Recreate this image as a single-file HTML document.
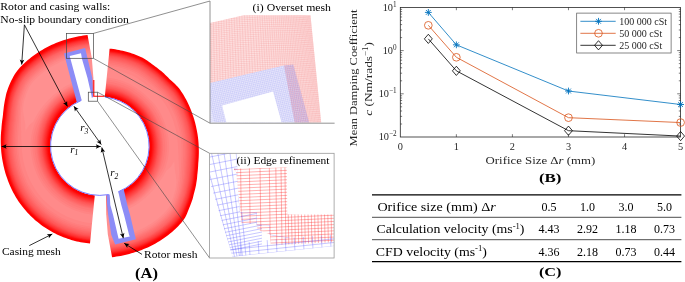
<!DOCTYPE html>
<html><head><meta charset="utf-8"><style>
html,body{margin:0;padding:0;background:#fff;}
svg{display:block;font-family:"Liberation Serif",serif;will-change:transform;}
</style></head><body>
<svg width="685" height="282" viewBox="0 0 685 282">
<rect width="685" height="282" fill="#fff"/>
<defs><mask id="cl" maskUnits="userSpaceOnUse" x="0" y="0" width="685" height="282"><polygon points="87.54,35.06 85.37,35.31 83.21,35.6 81.05,35.94 78.9,36.32 76.75,36.74 74.62,37.2 72.49,37.71 70.38,38.25 68.27,38.84 66.18,39.46 64.09,40.1 62.01,40.78 59.94,41.51 57.89,42.27 55.86,43.08 53.84,43.92 51.83,44.81 49.85,45.74 47.89,46.72 45.95,47.75 44.04,48.81 42.14,49.91 40.26,51.04 38.41,52.22 36.58,53.43 34.78,54.67 33,55.96 31.26,57.29 29.55,58.66 27.86,60.06 26.2,61.49 24.57,62.96 22.97,64.46 21.42,66 19.92,67.61 18.47,69.24 17.04,70.9 15.78,72.7 14.59,74.55 13.44,76.42 12.43,78.38 11.46,80.35 10.53,82.33 9.65,84.33 8.82,86.34 8.03,88.35 7.28,90.38 6.59,92.41 6.07,94.53 5.6,96.64 5.18,98.76 4.78,100.86 4.4,102.95 4.07,105.03 3.79,107.11 3.54,109.19 3.29,111.24 3.08,113.29 2.91,115.33 2.68,117.33 2.37,119.3 2.09,121.27 1.86,123.24 1.67,125.21 1.51,127.17 1.37,129.13 1.17,131.08 1.01,133.02 0.88,134.97 0.8,136.92 0.75,138.86 0.74,140.8 0.76,142.75 0.83,144.68 0.92,146.62 1.02,148.55 1.15,150.48 1.32,152.4 1.53,154.32 1.78,156.23 2.06,158.14 2.38,160.03 2.74,161.93 3.12,163.81 3.5,165.69 3.93,167.57 4.39,169.43 4.88,171.28 5.41,173.13 5.98,174.96 6.58,176.78 7.22,178.59 7.88,180.39 8.56,182.19 9.27,183.97 10.01,185.74 10.79,187.49 11.6,189.23 12.45,190.95 13.33,192.66 14.24,194.35 15.19,196.02 16.17,197.67 17.18,199.31 18.22,200.92 19.3,202.51 20.42,204.07 21.57,205.61 22.75,207.12 23.96,208.62 25.2,210.08 26.47,211.53 27.77,212.94 29.09,214.34 30.44,215.7 31.82,217.04 33.22,218.35 34.65,219.64 36.1,220.89 37.58,222.12 39.08,223.32 40.6,224.49 42.15,225.63 43.72,226.73 45.31,227.81 46.92,228.86 48.55,229.87 50.2,230.85 51.87,231.8 53.56,232.71 55.26,233.58 56.99,234.42 58.73,235.23 60.48,236.01 62.25,236.75 64.04,237.45 65.83,238.12 67.64,238.75 69.46,239.35 71.3,239.91 73.14,240.44 74.99,240.93 76.85,241.39 78.72,241.8 80.6,242.18 82.48,242.53 84.37,242.84 86.27,243.11 88.17,243.34 90.07,243.54 90,243.5 94.8,195.35 93.84,195.24 92.89,195.12 91.95,194.97 91,194.81 90.06,194.63 89.12,194.43 88.19,194.22 87.26,193.98 86.33,193.73 85.41,193.46 84.5,193.17 83.59,192.87 82.68,192.55 81.79,192.21 80.9,191.85 80.01,191.47 79.14,191.08 78.27,190.67 77.41,190.25 76.56,189.81 75.72,189.35 74.89,188.87 74.06,188.38 73.25,187.88 72.44,187.35 71.65,186.82 70.87,186.26 70.09,185.69 69.33,185.11 68.58,184.51 67.84,183.9 67.12,183.28 66.4,182.64 65.7,181.98 65.01,181.31 64.34,180.63 63.67,179.94 63.03,179.23 62.39,178.52 61.77,177.79 61.16,177.04 60.57,176.29 59.99,175.52 59.43,174.75 58.88,173.96 58.35,173.16 57.84,172.35 57.33,171.54 56.85,170.71 56.38,169.87 55.93,169.03 55.49,168.17 55.07,167.31 54.67,166.44 54.29,165.56 53.92,164.68 53.57,163.78 53.23,162.88 52.92,161.98 52.62,161.07 52.34,160.15 52.07,159.23 51.83,158.3 51.6,157.37 51.39,156.43 51.2,155.49 51.03,154.55 50.87,153.6 50.74,152.66 50.62,151.7 50.52,150.75 50.44,149.79 50.38,148.84 50.33,147.88 50.31,146.92 50.3,145.96 50.31,145 50.34,144.04 50.39,143.09 50.46,142.13 50.55,141.18 50.65,140.22 50.77,139.27 50.91,138.32 51.07,137.38 51.25,136.43 51.45,135.5 51.66,134.56 51.9,133.63 52.15,132.71 52.42,131.78 52.7,130.87 53.01,129.96 53.33,129.06 53.67,128.16 54.02,127.27 54.4,126.39 54.79,125.51 55.19,124.64 55.62,123.78 56.06,122.93 56.51,122.09 56.99,121.25 57.48,120.43 57.98,119.61 58.5,118.81 59.04,118.01 59.59,117.23 60.16,116.46 60.74,115.69 61.34,114.94 61.95,114.2 62.57,113.48 63.21,112.76 63.86,112.06 64.53,111.37 65.21,110.69 65.9,110.03 66.61,109.38 67.33,108.74 68.05,108.12 68.8,107.51 69.55,106.92 70.31,106.34 71.09,105.78 71.88,105.23 72.67,104.69 73.48,104.18 74.3,103.67 75.12,103.19 75.96,102.72 76.81,102.26 77.66,101.83 78.52,101.41 79.39,101 80.27,100.62 81.15,100.25 82.04,99.89 82.94,99.56 83.85,99.24 84.76,98.94 85.67,98.66 86.6,98.39 87.52,98.15 88.45,97.92 89.39,97.71 90.33,97.51 91.27,97.34 92.22,97.18 93.17,97.05 93.4,78 91.8,58" fill="#fff"/></mask><mask id="cr" maskUnits="userSpaceOnUse" x="0" y="0" width="685" height="282"><polygon points="112.06,257.14 114.23,256.89 116.39,256.6 118.55,256.26 120.7,255.88 122.85,255.46 124.98,255 127.11,254.49 129.22,253.95 131.33,253.36 133.42,252.74 135.51,252.1 137.59,251.42 139.66,250.69 141.71,249.93 143.74,249.12 145.76,248.28 147.77,247.39 149.75,246.46 151.71,245.48 153.65,244.45 155.56,243.39 157.46,242.29 159.34,241.16 161.19,239.98 163.02,238.77 164.82,237.53 166.6,236.24 168.34,234.91 170.05,233.54 171.74,232.14 173.4,230.71 175.03,229.24 176.63,227.74 178.18,226.2 179.68,224.59 181.13,222.96 182.56,221.3 183.82,219.5 185.01,217.65 186.05,215.7 186.96,213.66 187.82,211.61 188.63,209.56 189.44,207.52 190.24,205.51 191,203.49 191.72,201.46 192.45,199.46 193.01,197.39 193.53,195.31 194.03,193.24 194.56,191.22 195.08,189.2 195.55,187.18 195.99,185.16 196.32,183.11 196.65,181.08 196.95,179.06 197.14,177.02 197.29,174.98 197.53,172.98 197.72,170.99 197.91,169 198.06,167.02 198.18,165.05 198.28,163.08 198.45,161.13 198.59,159.18 198.72,157.23 198.8,155.28 198.85,153.34 198.86,151.4 198.84,149.45 198.77,147.52 198.68,145.58 198.58,143.65 198.44,141.72 198.26,139.8 198.04,137.88 197.79,135.97 197.5,134.07 197.18,132.17 196.81,130.28 196.43,128.4 196.03,126.52 195.61,124.65 195.14,122.79 194.64,120.94 194.1,119.1 193.53,117.27 192.92,115.45 192.28,113.64 191.61,111.85 190.93,110.06 190.22,108.28 189.47,106.51 188.69,104.76 187.87,103.03 187.02,101.31 186.13,99.61 185.22,97.93 184.27,96.27 183.28,94.62 182.27,92.99 181.22,91.39 180.14,89.8 179,88.26 177.71,86.84 176.39,85.44 175.04,84.07 173.68,82.74 172.28,81.43 170.87,80.15 169.43,78.9 168.12,77.54 166.78,76.2 165.42,74.89 164.03,73.6 162.62,72.34 161.18,71.11 159.71,69.91 158.23,68.73 156.72,67.59 155.19,66.47 153.65,65.35 152.15,64.18 150.63,63.03 149.08,61.91 147.5,60.83 145.89,59.77 144.27,58.75 142.61,57.78 140.87,56.97 139.12,56.19 137.35,55.45 135.56,54.75 133.77,54.08 131.96,53.45 130.14,52.85 128.3,52.29 126.46,51.76 124.61,51.27 122.75,50.81 120.88,50.4 119,50.02 117.12,49.67 115.23,49.36 113.33,49.09 111.43,48.86 109.53,48.66 109.6,48.7 104.8,96.85 105.76,96.96 106.71,97.08 107.65,97.23 108.6,97.39 109.54,97.57 110.48,97.77 111.41,97.98 112.34,98.22 113.27,98.47 114.19,98.74 115.1,99.03 116.01,99.33 116.92,99.65 117.81,99.99 118.7,100.35 119.59,100.73 120.46,101.12 121.33,101.53 122.19,101.95 123.04,102.39 123.88,102.85 124.71,103.33 125.54,103.82 126.35,104.32 127.16,104.85 127.95,105.38 128.73,105.94 129.51,106.51 130.27,107.09 131.02,107.69 131.76,108.3 132.48,108.92 133.2,109.56 133.9,110.22 134.59,110.89 135.26,111.57 135.93,112.26 136.57,112.97 137.21,113.68 137.83,114.41 138.44,115.16 139.03,115.91 139.61,116.68 140.17,117.45 140.72,118.24 141.25,119.04 141.76,119.85 142.27,120.66 142.75,121.49 143.22,122.33 143.67,123.17 144.11,124.03 144.53,124.89 144.93,125.76 145.31,126.64 145.68,127.52 146.03,128.42 146.37,129.32 146.68,130.22 146.98,131.13 147.26,132.05 147.53,132.97 147.77,133.9 148,134.83 148.21,135.77 148.4,136.71 148.57,137.65 148.73,138.6 148.86,139.54 148.98,140.5 149.08,141.45 149.16,142.41 149.22,143.36 149.27,144.32 149.29,145.28 149.3,146.24 149.29,147.2 149.26,148.16 149.21,149.11 149.14,150.07 149.05,151.02 148.95,151.98 148.83,152.93 148.69,153.88 148.53,154.82 148.35,155.77 148.15,156.7 147.94,157.64 147.7,158.57 147.45,159.49 147.18,160.42 146.9,161.33 146.59,162.24 146.27,163.14 145.93,164.04 145.58,164.93 145.2,165.81 144.81,166.69 144.41,167.56 143.98,168.42 143.54,169.27 143.09,170.11 142.61,170.95 142.12,171.77 141.62,172.59 141.1,173.39 140.56,174.19 140.01,174.97 139.44,175.74 138.86,176.51 138.26,177.26 137.65,178 137.03,178.72 136.39,179.44 135.74,180.14 135.07,180.83 134.39,181.51 133.7,182.17 132.99,182.82 132.27,183.46 131.55,184.08 130.8,184.69 130.05,185.28 129.29,185.86 128.51,186.42 127.72,186.97 126.93,187.51 126.12,188.02 125.3,188.53 124.48,189.01 123.64,189.48 122.79,189.94 121.94,190.37 121.08,190.79 120.21,191.2 119.33,191.58 118.45,191.95 117.56,192.31 116.66,192.64 115.75,192.96 114.84,193.26 113.93,193.54 113,193.81 112.08,194.05 111.15,194.28 110.21,194.49 109.27,194.69 108.33,194.86 107.38,195.02 106.43,195.15 106.2,214.2 107.8,234.2" fill="#fff"/></mask></defs><g mask="url(#cl)"><polygon points="103.81,31.36 100.46,31.29 97.1,31.32 93.75,31.45 90.41,31.67 87.07,31.98 83.74,32.39 80.43,32.89 77.13,33.49 73.85,34.19 70.59,34.98 67.36,35.87 64.14,36.82 60.94,37.85 57.78,38.98 54.65,40.2 51.55,41.51 48.5,42.92 45.5,44.44 42.55,46.05 39.64,47.75 36.79,49.54 33.98,51.4 31.24,53.36 28.58,55.42 25.98,57.55 23.44,59.76 20.97,62.04 18.6,64.43 16.35,66.93 14.2,69.51 12.35,72.35 10.65,75.26 9.15,78.29 7.75,81.34 6.45,84.42 5.26,87.52 4.17,90.64 3.39,93.89 2.73,97.14 2.13,100.37 1.61,103.57 1.2,106.77 0.83,109.94 0.53,113.08 0.26,116.19 -0.2,119.2 -0.58,122.22 -0.87,125.24 -1.06,128.25 -1.36,131.23 -1.58,134.21 -1.71,137.19 -1.75,140.16 -1.7,143.14 -1.57,146.1 -1.42,149.06 -1.19,152 -0.87,154.94 -0.46,157.86 0.03,160.77 0.6,163.66 1.19,166.54 1.86,169.4 2.62,172.24 3.46,175.05 4.38,177.84 5.38,180.6 6.4,183.35 7.51,186.07 8.69,188.76 9.96,191.41 11.3,194.03 12.71,196.6 14.2,199.13 15.77,201.62 17.41,204.06 19.14,206.44 20.94,208.77 22.81,211.04 24.74,213.25 26.74,215.41 28.8,217.51 30.92,219.54 33.1,221.52 35.33,223.43 37.62,225.27 39.96,227.05 42.35,228.75 44.8,230.39 47.28,231.95 49.82,233.44 52.4,234.85 55.02,236.17 57.67,237.42 60.36,238.6 63.09,239.69 65.84,240.7 68.63,241.63 71.43,242.48 74.26,243.25 77.12,243.93 79.98,244.53 82.87,245.05 85.77,245.48 88.68,245.83 91.6,246.09 94.52,246.28 97.44,246.39 100.37,246.42 103.3,246.36 101.44,193.15 100.07,193.18 98.69,193.17 97.32,193.11 95.95,193.02 94.58,192.89 93.22,192.72 91.86,192.5 90.51,192.25 89.17,191.96 87.83,191.63 86.51,191.26 85.2,190.85 83.9,190.4 82.61,189.92 81.34,189.4 80.08,188.84 78.85,188.25 77.62,187.61 76.42,186.95 75.24,186.25 74.08,185.51 72.94,184.75 71.82,183.95 70.73,183.11 69.66,182.25 68.62,181.35 67.61,180.43 66.62,179.47 65.66,178.49 64.73,177.48 63.83,176.44 62.96,175.38 62.12,174.29 61.31,173.18 60.54,172.04 59.79,170.89 59.09,169.71 58.41,168.51 57.78,167.29 57.17,166.06 56.61,164.81 56.08,163.54 55.59,162.26 55.14,160.96 54.72,159.65 54.35,158.32 54.01,156.99 53.72,155.65 53.46,154.3 53.25,152.94 53.07,151.58 52.94,150.22 52.84,148.85 52.79,147.47 52.77,146.1 52.8,144.73 52.87,143.36 52.98,141.99 53.12,140.62 53.31,139.27 53.54,137.91 53.82,136.57 54.13,135.24 54.48,133.91 54.88,132.6 55.32,131.3 55.81,130.02 56.33,128.76 56.89,127.51 57.49,126.29 58.12,125.08 58.79,123.89 59.49,122.73 60.22,121.58 60.98,120.45 61.77,119.35 62.59,118.27 63.45,117.21 64.32,116.18 65.23,115.17 66.15,114.18 67.1,113.22 68.08,112.28 69.08,111.37 70.11,110.49 71.16,109.64 72.24,108.82 73.34,108.03 74.46,107.27 75.6,106.55 76.77,105.86 77.95,105.2 79.16,104.58 80.38,103.99 81.61,103.44 82.86,102.93 84.13,102.45 85.41,102.01 86.7,101.6 88.01,101.24 89.32,100.91 90.65,100.63 91.98,100.38 93.31,100.17 94.66,100 96.01,99.87 97.36,99.77 98.71,99.72 100.06,99.71 101.42,99.74" fill="#ff0000"/><polygon points="103.62,36.64 100.43,36.58 97.23,36.61 94.03,36.73 90.84,36.94 87.66,37.23 84.48,37.62 81.32,38.1 78.18,38.68 75.05,39.34 71.94,40.1 68.85,40.94 65.78,41.86 62.74,42.84 59.72,43.92 56.73,45.08 53.78,46.33 50.87,47.68 48.01,49.14 45.19,50.68 42.42,52.3 39.7,54 37.02,55.78 34.41,57.64 31.87,59.61 29.39,61.64 26.97,63.75 24.61,65.92 22.35,68.2 20.19,70.58 18.14,73.04 16.37,75.73 14.73,78.5 13.28,81.37 11.92,84.28 10.67,87.21 9.51,90.16 8.44,93.12 7.67,96.21 7.01,99.3 6.41,102.37 5.94,105.45 5.51,108.49 5.13,111.51 4.81,114.5 4.53,117.47 4.07,120.35 3.7,123.24 3.41,126.12 3.21,129.01 2.91,131.86 2.7,134.71 2.57,137.56 2.52,140.41 2.56,143.26 2.68,146.1 2.82,148.93 3.04,151.76 3.34,154.57 3.72,157.37 4.19,160.16 4.73,162.92 5.3,165.69 5.94,168.43 6.66,171.15 7.47,173.85 8.35,176.52 9.3,179.17 10.29,181.8 11.35,184.41 12.48,186.99 13.69,189.53 14.98,192.03 16.34,194.5 17.77,196.93 19.27,199.31 20.84,201.65 22.5,203.93 24.23,206.16 26.02,208.33 27.87,210.45 29.78,212.52 31.76,214.53 33.79,216.49 35.87,218.38 38.02,220.21 40.21,221.97 42.45,223.68 44.75,225.31 47.09,226.88 49.47,228.38 51.9,229.81 54.37,231.15 56.88,232.43 59.43,233.63 62,234.75 64.62,235.8 67.25,236.77 69.92,237.66 72.61,238.48 75.32,239.21 78.06,239.87 80.81,240.45 83.57,240.94 86.35,241.36 89.14,241.69 91.94,241.94 94.74,242.12 97.54,242.23 100.35,242.26 103.16,242.2 101.6,197.6 100.09,197.63 98.59,197.62 97.09,197.56 95.59,197.46 94.09,197.32 92.6,197.13 91.11,196.9 89.63,196.62 88.16,196.31 86.7,195.94 85.25,195.54 83.81,195.1 82.39,194.61 80.98,194.08 79.59,193.51 78.21,192.9 76.85,192.25 75.51,191.56 74.2,190.84 72.9,190.07 71.63,189.27 70.38,188.43 69.16,187.55 67.96,186.64 66.79,185.69 65.65,184.71 64.54,183.7 63.45,182.65 62.4,181.58 61.38,180.47 60.4,179.34 59.44,178.17 58.52,176.98 57.64,175.76 56.79,174.52 55.98,173.25 55.21,171.96 54.47,170.65 53.78,169.31 53.12,167.96 52.5,166.59 51.93,165.2 51.39,163.79 50.89,162.37 50.44,160.94 50.02,159.49 49.65,158.03 49.32,156.56 49.04,155.08 48.79,153.6 48.59,152.11 48.44,150.61 48.32,149.11 48.25,147.61 48.23,146.1 48.24,144.59 48.3,143.09 48.4,141.59 48.55,140.09 48.74,138.59 48.97,137.1 49.24,135.62 49.56,134.15 49.91,132.68 50.31,131.23 50.74,129.78 51.21,128.34 51.72,126.92 52.32,125.53 52.91,124.14 53.54,122.77 54.21,121.41 54.92,120.07 55.67,118.76 56.47,117.47 57.3,116.2 58.17,114.96 59.08,113.74 60.02,112.55 61.01,111.39 62.03,110.27 63.09,109.18 64.18,108.12 65.3,107.1 66.46,106.11 67.64,105.15 68.85,104.23 70.08,103.34 71.34,102.49 72.63,101.68 73.94,100.91 75.27,100.17 76.62,99.48 77.99,98.82 79.38,98.21 80.79,97.63 82.21,97.1 83.65,96.61 85.1,96.16 86.57,95.76 88.04,95.39 89.53,95.07 91.02,94.79 92.52,94.56 94.03,94.37 95.54,94.22 97.06,94.12 98.58,94.06 100.1,94.05 101.62,94.08" fill="#ff0606"/><polygon points="103.6,37.2 100.42,37.14 97.24,37.17 94.06,37.29 90.89,37.5 87.72,37.79 84.56,38.18 81.42,38.66 78.29,39.23 75.17,39.89 72.08,40.64 69.01,41.48 65.96,42.39 62.93,43.37 59.92,44.44 56.95,45.6 54.01,46.85 51.12,48.19 48.27,49.63 45.47,51.17 42.71,52.78 40.01,54.47 37.35,56.24 34.75,58.1 32.22,60.05 29.75,62.08 27.34,64.17 24.99,66.34 22.74,68.6 20.6,70.97 18.56,73.41 16.8,76.09 15.16,78.84 13.72,81.7 12.41,84.62 11.16,87.53 10.01,90.47 8.95,93.41 8.17,96.48 7.51,99.55 6.91,102.61 6.44,105.66 6.01,108.69 5.63,111.69 5.31,114.67 5.03,117.62 4.57,120.49 4.24,123.37 3.96,126.24 3.75,129.1 3.46,131.94 3.25,134.77 3.12,137.61 3.07,140.45 3.1,143.28 3.22,146.1 3.36,148.92 3.58,151.72 3.88,154.52 4.26,157.31 4.72,160.08 5.26,162.83 5.82,165.58 6.46,168.3 7.18,171.01 7.98,173.7 8.85,176.35 9.8,178.99 10.78,181.61 11.84,184.2 12.97,186.76 14.17,189.29 15.45,191.78 16.8,194.23 18.22,196.64 19.72,199.02 21.28,201.34 22.93,203.61 24.65,205.82 26.43,207.99 28.27,210.1 30.17,212.15 32.13,214.15 34.15,216.09 36.23,217.98 38.36,219.8 40.54,221.55 42.77,223.25 45.05,224.87 47.38,226.43 49.75,227.92 52.16,229.34 54.62,230.68 57.12,231.95 59.65,233.14 62.21,234.26 64.81,235.3 67.44,236.27 70.09,237.15 72.76,237.97 75.46,238.7 78.18,239.35 80.91,239.92 83.66,240.42 86.43,240.83 89.2,241.16 91.98,241.41 94.77,241.59 97.55,241.7 100.35,241.72 103.14,241.67 101.61,198.04 100.1,198.07 98.58,198.05 97.06,198 95.55,197.89 94.04,197.75 92.53,197.56 91.04,197.33 89.54,197.05 88.06,196.73 86.59,196.37 85.13,195.96 83.68,195.51 82.24,195.02 80.82,194.49 79.41,193.92 78.03,193.3 76.66,192.65 75.31,191.95 73.98,191.22 72.67,190.45 71.39,189.63 70.13,188.79 68.9,187.9 67.69,186.98 66.51,186.03 65.36,185.04 64.24,184.02 63.14,182.97 62.08,181.88 61.06,180.76 60.06,179.62 59.1,178.44 58.17,177.24 57.28,176.01 56.43,174.76 55.61,173.48 54.83,172.18 54.09,170.85 53.39,169.51 52.72,168.14 52.1,166.76 51.52,165.36 50.98,163.94 50.48,162.51 50.02,161.06 49.6,159.6 49.23,158.13 48.89,156.65 48.61,155.16 48.36,153.66 48.16,152.16 48,150.65 47.88,149.14 47.81,147.62 47.78,146.1 47.79,144.58 47.85,143.06 47.95,141.55 48.1,140.04 48.29,138.53 48.53,137.03 48.79,135.53 49.11,134.04 49.46,132.56 49.91,131.11 50.34,129.65 50.81,128.2 51.32,126.76 51.86,125.34 52.45,123.93 53.08,122.54 53.8,121.19 54.51,119.84 55.27,118.51 56.07,117.21 56.91,115.92 57.78,114.67 58.69,113.44 59.65,112.23 60.64,111.06 61.67,109.93 62.74,108.83 63.84,107.76 64.97,106.72 66.14,105.72 67.33,104.76 68.55,103.82 69.8,102.93 71.07,102.07 72.37,101.25 73.69,100.47 75.03,99.73 76.4,99.03 77.78,98.37 79.19,97.75 80.61,97.17 82.04,96.63 83.5,96.14 84.96,95.69 86.44,95.27 87.93,94.91 89.43,94.58 90.94,94.3 92.45,94.07 93.98,93.88 95.5,93.73 97.03,93.63 98.57,93.57 100.1,93.55 101.63,93.58" fill="#ff0c0c"/><polygon points="103.59,37.7 100.42,37.64 97.25,37.66 94.09,37.78 90.93,37.99 87.78,38.29 84.63,38.67 81.5,39.15 78.38,39.71 75.29,40.37 72.21,41.12 69.15,41.96 66.11,42.86 63.09,43.84 60.11,44.91 57.15,46.06 54.22,47.3 51.34,48.63 48.51,50.08 45.72,51.6 42.98,53.21 40.28,54.89 37.63,56.65 35.05,58.5 32.53,60.44 30.07,62.46 27.67,64.55 25.33,66.7 23.1,68.96 20.96,71.31 18.93,73.75 17.17,76.41 15.55,79.15 14.15,82.03 12.81,84.9 11.56,87.8 10.41,90.71 9.35,93.65 8.57,96.7 7.91,99.76 7.37,102.82 6.84,105.84 6.41,108.85 6.03,111.84 5.71,114.8 5.43,117.74 4.97,120.59 4.64,123.46 4.35,126.32 4.15,129.17 3.86,131.99 3.64,134.82 3.51,137.65 3.47,140.47 3.5,143.29 3.62,146.1 3.75,148.9 3.97,151.7 4.27,154.49 4.65,157.26 5.11,160.02 5.65,162.76 6.21,165.5 6.84,168.21 7.56,170.91 8.35,173.58 9.22,176.23 10.17,178.85 11.14,181.46 12.19,184.04 13.32,186.59 14.52,189.11 15.79,191.59 17.14,194.03 18.56,196.44 20.04,198.8 21.6,201.12 23.24,203.37 24.95,205.58 26.73,207.73 28.56,209.84 30.46,211.88 32.41,213.88 34.42,215.81 36.49,217.68 38.61,219.5 40.78,221.25 43,222.93 45.27,224.55 47.59,226.11 49.95,227.59 52.36,229 54.8,230.34 57.29,231.6 59.81,232.79 62.37,233.9 64.95,234.94 67.57,235.9 70.21,236.79 72.87,237.59 75.56,238.32 78.27,238.97 80.99,239.54 83.73,240.04 86.48,240.45 89.24,240.78 92.01,241.03 94.79,241.21 97.56,241.31 100.34,241.34 103.12,241.28 101.63,198.47 100.1,198.5 98.57,198.49 97.04,198.43 95.51,198.33 93.99,198.18 92.47,197.99 90.96,197.76 89.46,197.48 87.96,197.16 86.48,196.79 85,196.38 83.54,195.93 82.09,195.43 80.66,194.9 79.24,194.32 77.84,193.7 76.46,193.04 75.1,192.34 73.76,191.6 72.44,190.82 71.15,190 69.88,189.15 68.64,188.26 67.42,187.33 66.23,186.37 65.07,185.37 63.94,184.34 62.84,183.28 61.77,182.18 60.73,181.06 59.72,179.9 58.75,178.72 57.82,177.51 56.92,176.27 56.06,175 55.24,173.71 54.45,172.4 53.7,171.06 52.99,169.71 52.33,168.33 51.7,166.93 51.11,165.52 50.57,164.09 50.06,162.65 49.6,161.19 49.18,159.72 48.8,158.23 48.47,156.74 48.17,155.24 47.92,153.73 47.72,152.21 47.56,150.69 47.44,149.16 47.36,147.63 47.34,146.1 47.35,144.57 47.41,143.04 47.51,141.51 47.65,139.98 47.84,138.46 48.08,136.95 48.35,135.44 48.71,133.95 49.07,132.45 49.47,130.97 49.89,129.5 50.36,128.03 50.87,126.58 51.46,125.16 52.05,123.74 52.68,122.34 53.35,120.95 54.11,119.61 54.87,118.26 55.68,116.94 56.52,115.65 57.39,114.38 58.31,113.13 59.27,111.91 60.31,110.77 61.35,109.63 62.43,108.51 63.54,107.44 64.68,106.39 65.86,105.39 67.06,104.41 68.29,103.47 69.55,102.57 70.83,101.71 72.14,100.88 73.47,100.09 74.83,99.35 76.2,98.64 77.6,97.97 79.01,97.35 80.45,96.76 81.9,96.22 83.36,95.72 84.84,95.27 86.33,94.85 87.83,94.48 89.34,94.16 90.86,93.87 92.39,93.64 93.93,93.44 95.47,93.29 97.01,93.19 98.56,93.13 100.1,93.12 101.65,93.15" fill="#ff1212"/><polygon points="103.57,38.07 100.42,38.01 97.26,38.04 94.11,38.16 90.96,38.36 87.82,38.66 84.68,39.04 81.56,39.52 78.46,40.08 75.37,40.74 72.3,41.48 69.26,42.32 66.23,43.22 63.22,44.19 60.24,45.26 57.3,46.4 54.38,47.64 51.51,48.97 48.69,50.41 45.91,51.93 43.17,53.53 40.48,55.21 37.85,56.96 35.27,58.8 32.76,60.74 30.31,62.75 27.92,64.83 25.59,66.98 23.36,69.22 21.24,71.57 19.21,73.99 17.46,76.65 15.84,79.38 14.4,82.21 13.1,85.11 11.86,87.99 10.71,90.9 9.65,93.82 8.88,96.86 8.27,99.94 7.67,102.96 7.14,105.97 6.71,108.97 6.33,111.95 6.06,114.92 5.78,117.84 5.32,120.69 4.94,123.53 4.65,126.38 4.45,129.22 4.16,132.04 3.94,134.85 3.81,137.67 3.81,140.49 3.85,143.3 3.96,146.1 4.1,148.89 4.31,151.68 4.61,154.46 4.99,157.22 5.45,159.97 5.98,162.7 6.54,165.43 7.17,168.14 7.89,170.82 8.68,173.49 9.55,176.12 10.49,178.74 11.46,181.34 12.51,183.91 13.63,186.45 14.82,188.96 16.09,191.43 17.43,193.86 18.85,196.26 20.33,198.61 21.88,200.92 23.52,203.17 25.22,205.37 26.99,207.51 28.81,209.61 30.7,211.65 32.65,213.63 34.65,215.56 36.71,217.43 38.83,219.23 40.99,220.98 43.21,222.66 45.47,224.27 47.78,225.82 50.13,227.3 52.53,228.71 54.97,230.04 57.44,231.29 59.95,232.48 62.5,233.59 65.08,234.62 67.68,235.58 70.31,236.46 72.97,237.27 75.65,237.99 78.34,238.64 81.06,239.21 83.79,239.7 86.53,240.11 89.28,240.44 92.04,240.69 94.8,240.87 97.57,240.97 100.34,241 103.11,240.94 101.64,198.91 100.1,198.94 98.56,198.93 97.02,198.87 95.48,198.76 93.94,198.62 92.41,198.42 90.89,198.19 89.37,197.91 87.86,197.58 86.37,197.21 84.88,196.8 83.4,196.34 81.94,195.84 80.5,195.3 79.07,194.72 77.66,194.1 76.27,193.43 74.9,192.72 73.54,191.98 72.22,191.19 70.91,190.37 69.63,189.51 68.38,188.61 67.15,187.67 65.95,186.7 64.78,185.7 63.64,184.66 62.53,183.59 61.45,182.48 60.4,181.35 59.39,180.18 58.41,178.99 57.47,177.77 56.56,176.52 55.69,175.24 54.86,173.94 54.07,172.62 53.32,171.27 52.6,169.9 51.93,168.51 51.3,167.11 50.71,165.68 50.16,164.24 49.65,162.78 49.18,161.31 48.75,159.83 48.37,158.33 48.04,156.83 47.74,155.31 47.49,153.79 47.28,152.26 47.11,150.73 47,149.19 46.92,147.64 46.89,146.1 46.9,144.56 46.96,143.01 47.06,141.47 47.21,139.93 47.4,138.4 47.63,136.87 47.95,135.35 48.26,133.84 48.62,132.33 49.02,130.84 49.44,129.35 49.96,127.89 50.46,126.42 51.01,124.97 51.6,123.53 52.28,122.13 52.95,120.73 53.66,119.34 54.47,118.02 55.28,116.68 56.12,115.37 57.01,114.09 57.93,112.82 58.94,111.64 59.94,110.44 60.99,109.28 62.08,108.16 63.2,107.07 64.35,106.02 65.53,105 66.75,104.02 67.99,103.07 69.26,102.16 70.56,101.29 71.88,100.45 73.22,99.66 74.59,98.9 75.98,98.19 77.39,97.52 78.82,96.89 80.26,96.3 81.73,95.75 83.21,95.25 84.7,94.79 86.2,94.37 87.72,94 89.25,93.67 90.78,93.38 92.32,93.14 93.87,92.95 95.43,92.8 96.98,92.69 98.54,92.63 100.11,92.62 101.67,92.65" fill="#ff1818"/><polygon points="103.56,38.45 100.42,38.38 97.27,38.41 94.13,38.53 90.99,38.74 87.86,39.03 84.74,39.41 81.63,39.88 78.53,40.45 75.45,41.1 72.4,41.85 69.36,42.68 66.34,43.57 63.35,44.55 60.38,45.6 57.44,46.75 54.54,47.98 51.67,49.31 48.86,50.74 46.09,52.25 43.37,53.85 40.69,55.52 38.06,57.27 35.49,59.11 32.99,61.04 30.55,63.04 28.17,65.11 25.85,67.25 23.63,69.49 21.51,71.83 19.48,74.24 17.74,76.89 16.12,79.61 14.69,82.43 13.4,85.31 12.15,88.19 11.01,91.08 9.95,94 9.18,97.03 8.57,100.09 7.97,103.1 7.44,106.1 7.06,109.11 6.68,112.07 6.36,115.02 6.07,117.93 5.61,120.77 5.29,123.62 5,126.45 4.8,129.29 4.5,132.09 4.29,134.9 4.16,137.7 4.11,140.51 4.14,143.31 4.26,146.1 4.39,148.89 4.61,151.66 4.9,154.43 5.28,157.19 5.74,159.93 6.27,162.65 6.83,165.37 7.46,168.07 8.17,170.75 8.96,173.4 9.82,176.03 10.76,178.64 11.73,181.23 12.77,183.79 13.89,186.33 15.08,188.83 16.35,191.29 17.69,193.72 19.09,196.1 20.57,198.45 22.12,200.75 23.75,202.99 25.45,205.18 27.21,207.33 29.03,209.41 30.92,211.45 32.86,213.43 34.85,215.35 36.91,217.21 39.01,219.01 41.17,220.75 43.38,222.42 45.64,224.03 47.94,225.57 50.28,227.05 52.67,228.45 55.1,229.78 57.57,231.03 60.08,232.21 62.61,233.32 65.18,234.35 67.78,235.31 70.4,236.19 73.05,236.99 75.72,237.71 78.41,238.36 81.11,238.93 83.83,239.41 86.57,239.82 89.31,240.15 92.06,240.4 94.82,240.58 97.58,240.68 100.34,240.71 103.1,240.65 101.66,199.34 100.1,199.37 98.55,199.36 96.99,199.3 95.44,199.2 93.89,199.05 92.35,198.86 90.81,198.62 89.29,198.33 87.76,198.01 86.25,197.63 84.76,197.22 83.27,196.76 81.8,196.26 80.34,195.71 78.9,195.12 77.48,194.49 76.07,193.82 74.69,193.11 73.33,192.36 71.99,191.57 70.67,190.74 69.38,189.87 68.12,188.96 66.88,188.02 65.67,187.04 64.49,186.03 63.34,184.98 62.22,183.9 61.13,182.79 60.07,181.64 59.05,180.47 58.07,179.26 57.12,178.03 56.2,176.77 55.33,175.49 54.49,174.17 53.69,172.84 52.93,171.48 52.21,170.1 51.53,168.7 50.9,167.28 50.3,165.84 49.75,164.39 49.23,162.92 48.76,161.44 48.33,159.94 47.95,158.44 47.61,156.92 47.31,155.39 47.05,153.85 46.84,152.31 46.67,150.76 46.55,149.21 46.48,147.66 46.45,146.1 46.46,144.54 46.51,142.98 46.61,141.43 46.76,139.88 46.95,138.33 47.19,136.79 47.5,135.26 47.81,133.73 48.17,132.21 48.57,130.7 49.04,129.22 49.51,127.72 50.01,126.24 50.61,124.79 51.2,123.34 51.83,121.9 52.55,120.51 53.26,119.11 54.07,117.77 54.88,116.42 55.73,115.1 56.62,113.8 57.59,112.56 58.56,111.32 59.57,110.11 60.63,108.94 61.72,107.81 62.85,106.71 64.02,105.64 65.21,104.62 66.44,103.62 67.69,102.67 68.97,101.75 70.28,100.87 71.62,100.03 72.97,99.22 74.35,98.46 75.76,97.74 77.18,97.06 78.62,96.43 80.08,95.83 81.56,95.28 83.05,94.78 84.56,94.31 86.08,93.89 87.61,93.51 89.15,93.18 90.7,92.89 92.25,92.65 93.82,92.45 95.39,92.3 96.96,92.2 98.53,92.14 100.11,92.12 101.68,92.15" fill="#ff1e1e"/><polygon points="103.55,38.82 100.41,38.76 97.28,38.78 94.15,38.9 91.02,39.11 87.9,39.4 84.79,39.78 81.69,40.25 78.61,40.81 75.54,41.47 72.49,42.21 69.47,43.04 66.46,43.93 63.47,44.9 60.52,45.95 57.59,47.09 54.7,48.32 51.81,49.59 49.01,51.01 46.25,52.52 43.53,54.11 40.86,55.78 38.24,57.53 35.68,59.36 33.19,61.28 30.75,63.28 28.38,65.34 26.06,67.48 23.89,69.76 21.78,72.08 19.76,74.49 18.02,77.13 16.41,79.83 14.98,82.65 13.64,85.49 12.45,88.38 11.31,91.27 10.25,94.17 9.53,97.22 8.87,100.24 8.27,103.24 7.8,106.25 7.36,109.23 6.98,112.18 6.71,115.13 6.42,118.04 5.96,120.86 5.59,123.69 5.3,126.51 5.14,129.35 4.85,132.14 4.64,134.94 4.51,137.73 4.46,140.53 4.49,143.32 4.6,146.1 4.74,148.88 4.95,151.64 5.25,154.4 5.62,157.15 6.08,159.88 6.61,162.59 7.16,165.3 7.79,167.99 8.5,170.66 9.28,173.3 10.15,175.92 11.08,178.52 12.05,181.1 13.09,183.66 14.2,186.18 15.39,188.67 16.65,191.13 17.98,193.55 19.38,195.92 20.86,198.26 22.4,200.56 24.02,202.79 25.72,204.97 27.47,207.1 29.29,209.19 31.16,211.21 33.1,213.18 35.09,215.1 37.13,216.95 39.23,218.75 41.38,220.48 43.58,222.15 45.83,223.75 48.12,225.29 50.46,226.76 52.84,228.16 55.26,229.48 57.72,230.73 60.22,231.9 62.75,233 65.31,234.03 67.89,234.99 70.51,235.86 73.15,236.66 75.81,237.38 78.48,238.03 81.18,238.59 83.89,239.08 86.61,239.49 89.35,239.81 92.09,240.06 94.84,240.24 97.59,240.34 100.34,240.37 103.09,240.31 101.67,199.78 100.11,199.81 98.54,199.8 96.97,199.74 95.41,199.63 93.85,199.48 92.29,199.29 90.74,199.05 89.2,198.76 87.67,198.43 86.14,198.06 84.63,197.64 83.13,197.17 81.65,196.67 80.18,196.12 78.73,195.53 77.29,194.89 75.88,194.21 74.48,193.5 73.11,192.74 71.76,191.94 70.43,191.1 69.13,190.23 67.86,189.31 66.61,188.36 65.39,187.38 64.2,186.36 63.04,185.3 61.91,184.21 60.81,183.09 59.75,181.93 58.72,180.75 57.72,179.54 56.76,178.29 55.84,177.02 54.96,175.73 54.12,174.41 53.31,173.06 52.55,171.69 51.82,170.3 51.14,168.89 50.49,167.46 49.89,166.01 49.34,164.54 48.82,163.06 48.34,161.57 47.91,160.06 47.52,158.54 47.18,157.01 46.88,155.47 46.62,153.92 46.4,152.36 46.23,150.8 46.11,149.24 46.03,147.67 46,146.1 46.01,144.53 46.06,142.96 46.16,141.39 46.31,139.83 46.5,138.26 46.79,136.72 47.06,135.17 47.37,133.63 47.72,132.09 48.12,130.57 48.6,129.07 49.06,127.56 49.61,126.08 50.16,124.6 50.79,123.15 51.42,121.7 52.14,120.29 52.85,118.88 53.62,117.49 54.49,116.16 55.34,114.82 56.23,113.5 57.21,112.25 58.18,111 59.2,109.77 60.27,108.6 61.37,107.45 62.51,106.34 63.69,105.27 64.89,104.23 66.13,103.23 67.39,102.26 68.69,101.34 70.01,100.45 71.35,99.6 72.72,98.79 74.12,98.02 75.53,97.29 76.97,96.61 78.43,95.97 79.9,95.37 81.39,94.81 82.9,94.3 84.42,93.83 85.95,93.41 87.49,93.03 89.05,92.69 90.61,92.4 92.18,92.16 93.76,91.96 95.34,91.81 96.93,91.7 98.52,91.64 100.11,91.62 101.7,91.66" fill="#ff2424"/><polygon points="103.54,39.13 100.41,39.07 97.29,39.09 94.16,39.21 91.05,39.42 87.93,39.71 84.83,40.09 81.74,40.56 78.67,41.12 75.61,41.77 72.57,42.51 69.55,43.34 66.56,44.23 63.58,45.19 60.63,46.24 57.71,47.38 54.83,48.61 51.98,49.92 49.19,51.35 46.43,52.85 43.73,54.43 41.07,56.1 38.46,57.84 35.9,59.66 33.42,61.58 30.99,63.57 28.62,65.63 26.32,67.75 24.11,69.98 22.01,72.3 20,74.7 18.31,77.37 16.7,80.06 15.27,82.86 13.94,85.69 12.75,88.58 11.61,91.46 10.56,94.35 9.83,97.38 9.17,100.39 8.58,103.39 8.1,106.38 7.66,109.35 7.33,112.31 7,115.23 6.72,118.13 6.31,120.95 5.94,123.77 5.65,126.59 5.44,129.4 5.15,132.18 4.94,134.97 4.81,137.76 4.76,140.54 4.84,143.33 4.95,146.1 5.08,148.87 5.3,151.62 5.59,154.37 5.96,157.11 6.42,159.83 6.95,162.53 7.49,165.23 8.12,167.91 8.83,170.57 9.61,173.21 10.47,175.82 11.4,178.4 12.36,180.98 13.4,183.52 14.51,186.04 15.69,188.52 16.95,190.96 18.28,193.37 19.67,195.74 21.14,198.07 22.68,200.36 24.3,202.58 25.98,204.76 27.73,206.88 29.54,208.96 31.41,210.98 33.34,212.94 35.32,214.85 37.36,216.7 39.45,218.49 41.59,220.21 43.79,221.87 46.02,223.47 48.31,225 50.64,226.47 53.01,227.86 55.42,229.18 57.88,230.42 60.36,231.59 62.88,232.69 65.43,233.72 68.01,234.67 70.61,235.54 73.24,236.34 75.89,237.06 78.56,237.7 81.25,238.26 83.95,238.75 86.66,239.15 89.39,239.48 92.12,239.72 94.85,239.9 97.59,240.01 100.34,240.03 103.08,239.97 101.69,200.21 100.11,200.25 98.53,200.23 96.95,200.17 95.37,200.07 93.8,199.92 92.23,199.72 90.67,199.48 89.11,199.19 87.57,198.86 86.03,198.48 84.51,198.06 83,197.59 81.5,197.08 80.02,196.53 78.56,195.93 77.11,195.29 75.68,194.61 74.28,193.88 72.89,193.12 71.53,192.31 70.19,191.47 68.88,190.59 67.59,189.67 66.34,188.71 65.11,187.71 63.91,186.68 62.74,185.62 61.6,184.52 60.49,183.39 59.42,182.23 58.38,181.03 57.38,179.81 56.41,178.56 55.48,177.28 54.59,175.97 53.74,174.64 52.93,173.28 52.16,171.9 51.43,170.5 50.74,169.07 50.09,167.63 49.49,166.17 48.92,164.69 48.4,163.2 47.92,161.69 47.48,160.17 47.09,158.64 46.75,157.1 46.44,155.54 46.18,153.98 45.97,152.42 45.79,150.84 45.67,149.26 45.59,147.68 45.56,146.1 45.56,144.52 45.62,142.93 45.72,141.35 45.86,139.77 46.1,138.21 46.34,136.64 46.61,135.08 46.92,133.52 47.28,131.97 47.73,130.45 48.15,128.92 48.66,127.41 49.16,125.9 49.75,124.42 50.34,122.94 51.02,121.5 51.69,120.05 52.45,118.64 53.23,117.24 54.09,115.9 54.94,114.54 55.84,113.21 56.82,111.95 57.8,110.68 58.83,109.44 59.9,108.25 61.06,107.14 62.21,106.02 63.4,104.94 64.61,103.89 65.86,102.88 67.13,101.91 68.44,100.97 69.77,100.08 71.13,99.22 72.51,98.41 73.91,97.63 75.34,96.9 76.79,96.21 78.25,95.56 79.72,94.9 81.22,94.34 82.74,93.83 84.28,93.36 85.82,92.93 87.38,92.54 88.95,92.2 90.53,91.91 92.11,91.66 93.71,91.46 95.3,91.31 96.91,91.2 98.51,91.14 100.11,91.13 101.72,91.16" fill="#ff2a2a"/><polygon points="103.52,39.5 100.41,39.44 97.3,39.47 94.18,39.59 91.08,39.79 87.98,40.08 84.88,40.46 81.81,40.93 78.74,41.48 75.69,42.13 72.67,42.87 69.66,43.69 66.67,44.58 63.71,45.54 60.77,46.59 57.86,47.73 54.98,48.95 52.15,50.26 49.36,51.68 46.62,53.18 43.92,54.76 41.27,56.41 38.67,58.15 36.13,59.96 33.65,61.87 31.23,63.86 28.87,65.91 26.58,68.03 24.38,70.24 22.28,72.56 20.27,74.95 18.54,77.57 16.99,80.29 15.56,83.08 14.23,85.9 13.05,88.78 11.91,91.64 10.86,94.52 10.14,97.54 9.47,100.55 8.93,103.55 8.4,106.51 8.01,109.49 7.63,112.42 7.3,115.33 7.07,118.23 6.61,121.03 6.23,123.84 5.94,126.65 5.79,129.46 5.5,132.24 5.29,135.01 5.15,137.79 5.1,140.56 5.14,143.34 5.25,146.1 5.38,148.86 5.59,151.61 5.88,154.35 6.25,157.07 6.71,159.79 7.23,162.48 7.78,165.17 8.41,167.84 9.11,170.49 9.89,173.12 10.75,175.72 11.68,178.3 12.63,180.87 13.67,183.41 14.77,185.91 15.95,188.39 17.21,190.83 18.53,193.23 19.92,195.59 21.38,197.91 22.92,200.19 24.53,202.41 26.21,204.58 27.96,206.7 29.76,208.76 31.62,210.78 33.54,212.74 35.52,214.64 37.55,216.48 39.64,218.26 41.77,219.98 43.96,221.64 46.19,223.23 48.47,224.76 50.79,226.22 53.15,227.61 55.56,228.92 58.01,230.16 60.48,231.33 63,232.42 65.54,233.44 68.11,234.39 70.7,235.26 73.32,236.06 75.97,236.77 78.63,237.41 81.31,237.98 84,238.46 86.7,238.86 89.42,239.19 92.14,239.43 94.87,239.61 97.6,239.71 100.33,239.74 103.07,239.68 101.71,200.7 100.11,200.73 98.52,200.72 96.92,200.65 95.33,200.55 93.74,200.4 92.16,200.2 90.59,199.95 89.02,199.66 87.46,199.33 85.91,198.95 84.37,198.52 82.85,198.05 81.34,197.54 79.84,196.98 78.37,196.38 76.91,195.73 75.47,195.04 74.05,194.31 72.65,193.54 71.28,192.73 69.93,191.88 68.6,190.99 67.3,190.06 66.04,189.09 64.79,188.09 63.58,187.05 62.4,185.97 61.25,184.87 60.14,183.73 59.06,182.55 58.01,181.35 57,180.11 56.02,178.85 55.08,177.56 54.19,176.24 53.33,174.89 52.51,173.52 51.73,172.13 50.99,170.71 50.3,169.28 49.65,167.82 49.04,166.35 48.47,164.86 47.94,163.35 47.45,161.83 47.01,160.3 46.62,158.75 46.27,157.19 45.96,155.63 45.7,154.05 45.48,152.47 45.31,150.89 45.18,149.29 45.1,147.7 45.06,146.1 45.07,144.5 45.12,142.9 45.22,141.31 45.42,139.72 45.61,138.13 45.85,136.55 46.11,134.97 46.47,133.41 46.83,131.85 47.23,130.3 47.7,128.77 48.21,127.25 48.71,125.72 49.3,124.23 49.94,122.75 50.62,121.3 51.29,119.83 52.05,118.41 52.83,117 53.69,115.63 54.55,114.27 55.5,112.96 56.44,111.64 57.43,110.36 58.5,109.15 59.59,107.95 60.71,106.79 61.87,105.66 63.06,104.56 64.29,103.51 65.55,102.49 66.83,101.51 68.15,100.56 69.49,99.66 70.86,98.8 72.26,97.97 73.68,97.19 75.11,96.45 76.58,95.76 78.06,95.1 79.56,94.5 81.07,93.93 82.61,93.41 84.15,92.94 85.71,92.5 87.28,92.12 88.86,91.78 90.45,91.48 92.05,91.23 93.66,91.03 95.27,90.88 96.88,90.77 98.5,90.71 100.12,90.69 101.73,90.72" fill="#ff3030"/><polygon points="103.51,39.88 100.41,39.81 97.3,39.84 94.2,39.96 91.11,40.16 88.02,40.45 84.94,40.83 81.87,41.29 78.81,41.85 75.78,42.5 72.76,43.23 69.77,44.05 66.79,44.94 63.83,45.9 60.9,46.94 58.01,48.07 55.14,49.29 52.32,50.6 49.54,52.01 46.81,53.5 44.12,55.08 41.48,56.73 38.89,58.46 36.35,60.27 33.88,62.17 31.47,64.14 29.12,66.19 26.83,68.3 24.64,70.51 22.55,72.81 20.55,75.2 18.83,77.8 17.23,80.48 15.85,83.3 14.53,86.11 13.34,88.97 12.2,91.83 11.16,94.7 10.44,97.71 9.78,100.7 9.23,103.69 8.75,106.67 8.37,109.63 8.03,112.57 7.7,115.46 7.46,118.35 7.06,121.15 6.68,123.95 6.39,126.74 6.24,129.54 5.95,132.3 5.73,135.06 5.6,137.83 5.6,140.59 5.63,143.35 5.74,146.1 5.87,148.84 6.08,151.58 6.37,154.3 6.74,157.02 7.19,159.72 7.71,162.4 8.26,165.07 8.88,167.73 9.58,170.37 10.36,172.98 11.21,175.57 12.13,178.13 13.09,180.69 14.11,183.21 15.22,185.71 16.39,188.17 17.64,190.59 18.95,192.98 20.34,195.33 21.79,197.64 23.31,199.91 24.92,202.12 26.59,204.27 28.33,206.38 30.12,208.44 31.98,210.44 33.89,212.39 35.86,214.28 37.88,216.11 39.95,217.89 42.08,219.6 44.25,221.25 46.47,222.83 48.74,224.35 51.04,225.8 53.4,227.19 55.79,228.49 58.22,229.72 60.69,230.89 63.19,231.98 65.72,232.99 68.27,233.93 70.86,234.8 73.46,235.59 76.09,236.3 78.74,236.94 81.4,237.5 84.08,237.98 86.77,238.38 89.47,238.71 92.18,238.95 94.9,239.13 97.61,239.23 100.33,239.26 103.05,239.2 101.73,201.23 100.12,201.26 98.5,201.25 96.9,201.19 95.29,201.08 93.69,200.93 92.09,200.73 90.5,200.48 88.91,200.19 87.34,199.85 85.77,199.46 84.22,199.03 82.68,198.56 81.16,198.04 79.65,197.48 78.16,196.87 76.68,196.22 75.23,195.52 73.79,194.79 72.38,194.01 71,193.19 69.63,192.33 68.3,191.43 66.99,190.49 65.7,189.51 64.45,188.5 63.23,187.45 62.04,186.37 60.88,185.25 59.75,184.09 58.66,182.91 57.6,181.69 56.58,180.45 55.59,179.17 54.65,177.87 53.74,176.53 52.87,175.18 52.05,173.79 51.26,172.38 50.52,170.96 49.81,169.51 49.15,168.04 48.54,166.55 47.97,165.04 47.43,163.52 46.94,161.99 46.5,160.44 46.1,158.88 45.74,157.3 45.44,155.72 45.17,154.13 44.94,152.54 44.77,150.93 44.64,149.32 44.56,147.71 44.52,146.1 44.52,144.49 44.58,142.87 44.67,141.26 44.82,139.65 45.06,138.05 45.3,136.45 45.56,134.86 45.92,133.28 46.28,131.71 46.73,130.15 47.15,128.59 47.66,127.05 48.21,125.52 48.8,124.01 49.44,122.52 50.06,121.02 50.78,119.56 51.55,118.12 52.38,116.72 53.2,115.31 54.11,113.96 55.06,112.63 56.01,111.3 57.05,110.04 58.08,108.78 59.18,107.56 60.31,106.39 61.48,105.25 62.69,104.14 63.93,103.08 65.2,102.04 66.54,101.1 67.83,100.1 69.19,99.19 70.57,98.32 71.98,97.48 73.41,96.69 74.86,95.95 76.34,95.24 77.84,94.59 79.35,93.97 80.88,93.4 82.43,92.88 83.99,92.4 85.57,91.96 87.16,91.57 88.75,91.23 90.36,90.93 91.98,90.68 93.6,90.47 95.22,90.32 96.85,90.21 98.49,90.15 100.12,90.13 101.75,90.17" fill="#ff3636"/><polygon points="103.49,40.31 100.4,40.25 97.31,40.28 94.23,40.39 91.14,40.6 88.07,40.88 85,41.26 81.94,41.72 78.9,42.28 75.88,42.92 72.87,43.65 69.89,44.47 66.92,45.35 63.98,46.31 61.06,47.35 58.18,48.47 55.32,49.69 52.51,50.99 49.75,52.4 47.03,53.88 44.35,55.45 41.72,57.09 39.14,58.82 36.61,60.62 34.15,62.52 31.75,64.48 29.41,66.52 27.13,68.62 24.95,70.82 22.87,73.12 20.88,75.49 19.21,78.12 17.61,80.79 16.24,83.59 14.92,86.38 13.74,89.24 12.65,92.11 11.66,94.99 10.89,97.95 10.28,100.95 9.73,103.93 9.25,106.88 8.87,109.83 8.53,112.75 8.25,115.65 8.01,118.51 7.55,121.29 7.23,124.08 6.94,126.85 6.78,129.64 6.49,132.38 6.28,135.13 6.15,137.88 6.15,140.63 6.18,143.37 6.28,146.1 6.41,148.83 6.62,151.55 6.91,154.26 7.28,156.95 7.72,159.64 8.24,162.3 8.78,164.96 9.4,167.61 10.1,170.23 10.87,172.83 11.71,175.4 12.63,177.95 13.58,180.49 14.6,183 15.7,185.48 16.87,187.93 18.11,190.34 19.42,192.71 20.79,195.05 22.24,197.35 23.75,199.6 25.35,201.79 27.01,203.94 28.74,206.04 30.52,208.08 32.37,210.07 34.27,212.01 36.22,213.89 38.23,215.71 40.29,217.48 42.41,219.18 44.57,220.82 46.78,222.39 49.03,223.9 51.32,225.35 53.66,226.72 56.04,228.02 58.46,229.25 60.91,230.4 63.4,231.48 65.91,232.49 68.45,233.43 71.02,234.29 73.61,235.08 76.23,235.79 78.86,236.42 81.51,236.98 84.17,237.46 86.85,237.86 89.53,238.18 92.22,238.42 94.92,238.6 97.63,238.7 100.33,238.72 103.03,238.67 101.74,201.76 100.12,201.79 98.49,201.78 96.87,201.72 95.25,201.61 93.63,201.46 92.01,201.25 90.41,201.01 88.81,200.71 87.22,200.37 85.64,199.98 84.07,199.55 82.52,199.07 80.98,198.54 79.45,197.97 77.95,197.36 76.46,196.7 74.99,196 73.54,195.26 72.12,194.47 70.72,193.64 69.34,192.78 67.99,191.87 66.67,190.92 65.37,189.93 64.11,188.91 62.87,187.85 61.67,186.76 60.5,185.63 59.36,184.46 58.26,183.27 57.19,182.04 56.16,180.78 55.16,179.49 54.21,178.18 53.29,176.83 52.42,175.46 51.58,174.06 50.79,172.64 50.04,171.2 49.33,169.73 48.66,168.25 48.04,166.74 47.46,165.22 46.92,163.69 46.43,162.14 45.98,160.58 45.58,159 45.22,157.41 44.91,155.82 44.63,154.21 44.41,152.6 44.23,150.98 44.1,149.36 44.01,147.73 43.98,146.1 43.98,144.47 44.03,142.84 44.13,141.21 44.27,139.59 44.51,137.97 44.75,136.36 45.02,134.75 45.38,133.15 45.73,131.56 46.19,129.99 46.6,128.4 47.11,126.85 47.66,125.3 48.25,123.77 48.88,122.26 49.56,120.76 50.28,119.28 51.04,117.83 51.88,116.41 52.7,114.98 53.62,113.61 54.58,112.27 55.53,110.92 56.58,109.64 57.62,108.36 58.77,107.18 59.92,105.99 61.1,104.83 62.32,103.72 63.57,102.64 64.85,101.6 66.16,100.6 67.51,99.64 68.88,98.72 70.28,97.83 71.7,96.99 73.14,96.2 74.61,95.44 76.1,94.73 77.62,94.07 79.15,93.45 80.69,92.87 82.26,92.35 83.82,91.8 85.41,91.36 87.02,90.96 88.63,90.62 90.26,90.31 91.89,90.06 93.53,89.86 95.17,89.7 96.82,89.59 98.47,89.52 100.12,89.51 101.77,89.54" fill="#ff3c3c"/><polygon points="103.47,40.93 100.4,40.87 97.33,40.9 94.26,41.01 91.19,41.22 88.13,41.5 85.08,41.87 82.05,42.34 79.02,42.89 76.02,43.53 73.03,44.25 70.06,45.07 67.12,45.94 64.19,46.89 61.29,47.93 58.42,49.05 55.56,50.2 52.76,51.49 50.01,52.89 47.31,54.37 44.64,55.93 42.03,57.57 39.46,59.28 36.95,61.07 34.5,62.96 32.12,64.91 29.79,66.94 27.52,69.03 25.39,71.26 23.32,73.55 21.34,75.9 19.63,78.48 18.09,81.17 16.73,83.96 15.41,86.73 14.24,89.56 13.15,92.42 12.16,95.28 11.44,98.25 10.83,101.23 10.29,104.19 9.81,107.12 9.42,110.05 9.08,112.95 8.8,115.83 8.56,118.68 8.1,121.44 7.78,124.21 7.49,126.97 7.33,129.73 7.04,132.46 6.83,135.19 6.69,137.92 6.69,140.66 6.72,143.38 6.83,146.1 6.96,148.81 7.16,151.52 7.45,154.21 7.81,156.89 8.25,159.56 8.77,162.21 9.31,164.85 9.92,167.48 10.61,170.09 11.38,172.67 12.22,175.23 13.14,177.77 14.08,180.29 15.1,182.79 16.18,185.25 17.35,187.69 18.58,190.08 19.88,192.45 21.25,194.77 22.69,197.05 24.19,199.29 25.78,201.47 27.43,203.61 29.15,205.69 30.92,207.72 32.76,209.7 34.64,211.63 36.59,213.5 38.59,215.31 40.64,217.06 42.74,218.76 44.89,220.39 47.08,221.95 49.32,223.45 51.6,224.89 53.93,226.26 56.3,227.55 58.7,228.77 61.14,229.91 63.61,230.99 66.11,232 68.63,232.93 71.19,233.78 73.76,234.57 76.36,235.27 78.98,235.9 81.61,236.45 84.26,236.93 86.92,237.33 89.59,237.65 92.27,237.89 94.95,238.06 97.64,238.17 100.33,238.19 103.01,238.14 101.76,202.34 100.12,202.38 98.48,202.36 96.84,202.3 95.2,202.19 93.56,202.03 91.93,201.83 90.31,201.58 88.69,201.28 87.09,200.94 85.49,200.54 83.91,200.11 82.33,199.62 80.78,199.09 79.24,198.52 77.72,197.9 76.21,197.23 74.73,196.52 73.27,195.77 71.83,194.98 70.41,194.14 69.02,193.27 67.66,192.35 66.32,191.39 65.01,190.39 63.73,189.36 62.48,188.29 61.27,187.18 60.09,186.04 58.94,184.87 57.82,183.66 56.74,182.42 55.7,181.15 54.69,179.84 53.73,178.51 52.8,177.15 51.92,175.77 51.08,174.35 50.28,172.92 49.52,171.46 48.8,169.98 48.13,168.48 47.5,166.96 46.92,165.42 46.37,163.87 45.87,162.31 45.42,160.73 45.01,159.14 44.64,157.53 44.33,155.92 44.05,154.3 43.82,152.67 43.64,151.03 43.51,149.39 43.42,147.75 43.38,146.1 43.43,144.45 43.48,142.81 43.58,141.16 43.72,139.52 43.97,137.89 44.21,136.26 44.47,134.63 44.83,133.02 45.19,131.41 45.64,129.82 46.11,128.24 46.61,126.66 47.16,125.1 47.74,123.55 48.38,122.02 49.06,120.51 49.77,119.01 50.54,117.54 51.38,116.1 52.26,114.69 53.13,113.26 54.09,111.91 55.09,110.57 56.1,109.24 57.2,107.99 58.32,106.75 59.47,105.54 60.67,104.38 61.9,103.25 63.17,102.16 64.46,101.11 65.79,100.09 67.15,99.12 68.54,98.19 69.95,97.3 71.39,96.45 72.85,95.64 74.33,94.88 75.84,94.16 77.37,93.49 78.92,92.87 80.48,92.29 82.07,91.75 83.66,91.26 85.27,90.82 86.89,90.42 88.52,90.07 90.16,89.76 91.81,89.51 93.47,89.3 95.13,89.14 96.79,89.03 98.46,88.97 100.13,88.95 101.79,88.98" fill="#ff4242"/><polygon points="103.45,41.49 100.4,41.43 97.34,41.46 94.29,41.57 91.24,41.77 88.2,42.06 85.16,42.43 82.14,42.89 79.13,43.44 76.14,44.07 73.17,44.8 70.22,45.61 67.29,46.48 64.38,47.42 61.5,48.45 58.64,49.57 55.82,50.76 53.04,52.05 50.31,53.44 47.62,54.92 44.97,56.47 42.37,58.09 39.82,59.79 37.32,61.58 34.89,63.45 32.52,65.4 30.2,67.41 27.95,69.49 25.79,71.66 23.73,73.93 21.76,76.28 20.1,78.88 18.57,81.55 17.17,84.28 15.9,87.07 14.73,89.89 13.65,92.72 12.67,95.57 11.95,98.53 11.34,101.48 10.79,104.42 10.31,107.34 9.92,110.25 9.58,113.13 9.3,115.99 9.05,118.83 8.65,121.58 8.27,124.33 8.03,127.08 7.87,129.83 7.59,132.54 7.37,135.26 7.24,137.97 7.24,140.69 7.27,143.4 7.37,146.1 7.5,148.8 7.7,151.48 7.99,154.16 8.35,156.83 8.79,159.48 9.3,162.12 9.83,164.75 10.45,167.36 11.13,169.95 11.89,172.52 12.73,175.06 13.64,177.58 14.58,180.09 15.59,182.57 16.67,185.03 17.82,187.44 19.05,189.83 20.34,192.18 21.71,194.49 23.13,196.76 24.63,198.98 26.21,201.15 27.85,203.27 29.56,205.34 31.32,207.37 33.14,209.33 35.02,211.25 36.96,213.11 38.94,214.91 40.98,216.65 43.07,218.33 45.2,219.95 47.39,221.51 49.61,223 51.88,224.43 54.19,225.79 56.55,227.07 58.94,228.29 61.36,229.43 63.82,230.5 66.3,231.5 68.81,232.42 71.35,233.28 73.91,234.05 76.5,234.76 79.1,235.38 81.72,235.93 84.35,236.4 86.99,236.8 89.65,237.12 92.31,237.36 94.98,237.53 97.65,237.63 100.32,237.66 103,237.6 101.78,202.87 100.12,202.91 98.47,202.89 96.81,202.83 95.15,202.72 93.5,202.56 91.86,202.36 90.22,202.1 88.59,201.8 86.96,201.46 85.35,201.06 83.75,200.62 82.17,200.13 80.6,199.59 79.04,199.01 77.51,198.39 75.99,197.72 74.49,197 73.01,196.25 71.56,195.44 70.13,194.6 68.73,193.71 67.35,192.79 66,191.82 64.68,190.82 63.39,189.77 62.13,188.69 60.9,187.58 59.71,186.42 58.55,185.24 57.42,184.02 56.33,182.76 55.28,181.48 54.26,180.17 53.29,178.82 52.36,177.45 51.46,176.05 50.61,174.62 49.8,173.17 49.04,171.7 48.32,170.21 47.64,168.69 47,167.16 46.41,165.61 45.86,164.04 45.36,162.46 44.9,160.87 44.49,159.26 44.12,157.64 43.8,156.01 43.52,154.37 43.29,152.73 43.1,151.08 42.97,149.42 42.88,147.76 42.84,146.1 42.84,144.44 42.94,142.78 43.03,141.12 43.18,139.46 43.37,137.8 43.66,136.16 43.92,134.52 44.28,132.89 44.64,131.26 45.1,129.66 45.56,128.06 46.06,126.46 46.61,124.88 47.19,123.31 47.83,121.76 48.55,120.25 49.27,118.74 50.04,117.24 50.88,115.79 51.76,114.36 52.64,112.92 53.6,111.54 54.62,110.19 55.68,108.89 56.74,107.57 57.87,106.32 59.03,105.1 60.24,103.92 61.53,102.83 62.81,101.73 64.12,100.66 65.46,99.64 66.83,98.66 68.23,97.72 69.65,96.82 71.11,95.96 72.58,95.15 74.06,94.32 75.58,93.6 77.13,92.92 78.69,92.29 80.27,91.7 81.87,91.16 83.48,90.67 85.11,90.21 86.75,89.81 88.4,89.46 90.06,89.15 91.72,88.89 93.4,88.68 95.08,88.52 96.76,88.41 98.44,88.34 100.13,88.33 101.82,88.36" fill="#ff4848"/><polygon points="103.43,42.11 100.39,42.05 97.36,42.08 94.32,42.19 91.29,42.39 88.27,42.68 85.25,43.05 82.25,43.5 79.26,44.05 76.28,44.68 73.33,45.4 70.4,46.2 67.48,47.07 64.59,48.01 61.72,49.03 58.89,50.14 56.08,51.33 53.32,52.61 50.6,54 47.9,55.41 45.26,56.95 42.68,58.56 40.14,60.26 37.65,62.03 35.24,63.9 32.88,65.83 30.62,67.88 28.38,69.94 26.23,72.11 24.18,74.36 22.22,76.69 20.58,79.28 19,81.89 17.65,84.65 16.39,87.42 15.23,90.22 14.15,93.03 13.17,95.86 12.45,98.8 11.84,101.74 11.29,104.66 10.86,107.58 10.47,110.47 10.13,113.33 9.84,116.18 9.6,118.99 9.19,121.73 8.82,124.46 8.58,127.19 8.42,129.93 8.13,132.62 7.92,135.32 7.79,138.02 7.78,140.72 7.81,143.41 7.91,146.1 8.04,148.78 8.24,151.45 8.52,154.11 8.88,156.77 9.32,159.4 9.83,162.02 10.36,164.64 10.97,167.23 11.65,169.81 12.41,172.36 13.24,174.9 14.14,177.4 15.07,179.9 16.08,182.36 17.15,184.8 18.3,187.2 19.52,189.57 20.81,191.91 22.16,194.2 23.58,196.46 25.07,198.67 26.64,200.83 28.28,202.94 29.97,205 31.72,207.01 33.53,208.96 35.4,210.87 37.32,212.72 39.3,214.51 41.32,216.24 43.4,217.91 45.52,219.52 47.69,221.07 49.91,222.56 52.16,223.97 54.46,225.33 56.8,226.6 59.18,227.81 61.58,228.94 64.03,230.01 66.5,231 68.99,231.92 71.52,232.77 74.06,233.54 76.63,234.24 79.22,234.86 81.82,235.41 84.44,235.88 87.07,236.27 89.71,236.59 92.36,236.83 95.01,237 97.66,237.1 100.32,237.13 102.98,237.07 101.8,203.41 100.13,203.44 98.45,203.42 96.78,203.36 95.11,203.25 93.44,203.09 91.78,202.89 90.13,202.63 88.48,202.33 86.84,201.98 85.22,201.58 83.6,201.13 82,200.64 80.42,200.1 78.85,199.51 77.3,198.88 75.77,198.2 74.25,197.48 72.76,196.72 71.29,195.91 69.85,195.06 68.44,194.16 67.05,193.23 65.68,192.25 64.35,191.24 63.05,190.18 61.77,189.09 60.53,187.97 59.33,186.8 58.16,185.61 57.02,184.37 55.92,183.11 54.86,181.81 53.83,180.49 52.85,179.13 51.91,177.74 51.01,176.33 50.15,174.89 49.33,173.43 48.56,171.94 47.83,170.43 47.15,168.91 46.51,167.36 45.91,165.79 45.36,164.21 44.84,162.62 44.38,161.01 43.96,159.38 43.59,157.75 43.27,156.1 42.99,154.45 42.75,152.79 42.57,151.13 42.43,149.45 42.34,147.78 42.3,146.1 42.29,144.42 42.39,142.74 42.49,141.07 42.63,139.39 42.82,137.72 43.12,136.07 43.38,134.41 43.74,132.76 44.09,131.12 44.55,129.5 45.01,127.87 45.51,126.26 46.05,124.66 46.69,123.1 47.32,121.53 48,119.97 48.77,118.46 49.54,116.95 50.38,115.48 51.26,114.03 52.14,112.57 53.12,111.18 54.14,109.81 55.21,108.49 56.28,107.16 57.46,105.93 58.64,104.7 59.86,103.51 61.11,102.36 62.41,101.25 63.73,100.17 65.08,99.14 66.47,98.14 67.88,97.19 69.33,96.28 70.8,95.42 72.29,94.6 73.8,93.82 75.34,93.09 76.91,92.4 78.49,91.76 80.08,91.17 81.68,90.57 83.31,90.07 84.95,89.61 86.61,89.2 88.27,88.85 89.95,88.54 91.64,88.27 93.33,88.06 95.02,87.9 96.73,87.79 98.43,87.72 100.13,87.71 101.84,87.74" fill="#ff4e4e"/><polygon points="103.41,42.74 100.39,42.67 97.37,42.7 94.35,42.82 91.34,43.01 88.33,43.29 85.34,43.66 82.35,44.12 79.38,44.66 76.42,45.29 73.49,46 70.57,46.8 67.66,47.6 64.78,48.54 61.93,49.56 59.11,50.66 56.32,51.84 53.57,53.12 50.87,54.49 48.21,55.95 45.59,57.48 43.02,59.09 40.5,60.77 38.03,62.54 35.62,64.39 33.28,66.31 30.99,68.3 28.76,70.35 26.62,72.51 24.59,74.75 22.69,77.11 21,79.64 19.48,82.28 18.14,85.01 16.88,87.77 15.72,90.55 14.65,93.34 13.67,96.16 12.96,99.07 12.34,101.99 11.85,104.92 11.36,107.8 10.97,110.67 10.68,113.53 10.39,116.36 10.14,119.16 9.74,121.88 9.37,124.59 9.13,127.31 8.92,130.02 8.68,132.7 8.47,135.39 8.34,138.07 8.33,140.75 8.36,143.43 8.46,146.1 8.58,148.76 8.78,151.42 9.06,154.07 9.42,156.7 9.85,159.32 10.36,161.93 10.88,164.53 11.49,167.11 12.17,169.67 12.92,172.21 13.75,174.73 14.64,177.22 15.57,179.7 16.57,182.15 17.64,184.57 18.78,186.96 19.99,189.32 21.27,191.64 22.62,193.92 24.03,196.16 25.51,198.36 27.07,200.51 28.7,202.6 30.38,204.65 32.12,206.65 33.92,208.6 35.78,210.49 37.69,212.33 39.65,214.11 41.67,215.83 43.73,217.49 45.84,219.09 48,220.63 50.2,222.11 52.44,223.52 54.73,224.86 57.05,226.13 59.41,227.33 61.81,228.46 64.24,229.52 66.69,230.5 69.18,231.42 71.68,232.26 74.22,233.03 76.77,233.72 79.34,234.34 81.93,234.89 84.53,235.35 87.14,235.75 89.77,236.06 92.4,236.3 95.04,236.47 97.68,236.57 100.32,236.59 102.96,236.54 101.82,203.94 100.13,203.97 98.44,203.96 96.75,203.89 95.07,203.78 93.38,203.62 91.71,203.41 90.04,203.16 88.38,202.85 86.72,202.5 85.08,202.09 83.45,201.64 81.84,201.14 80.24,200.6 78.65,200.01 77.09,199.37 75.54,198.69 74.01,197.96 72.51,197.19 71.03,196.37 69.57,195.51 68.14,194.61 66.74,193.67 65.36,192.68 64.02,191.66 62.7,190.6 61.42,189.5 60.17,188.36 58.95,187.18 57.77,185.97 56.62,184.73 55.51,183.45 54.44,182.15 53.4,180.81 52.41,179.44 51.46,178.04 50.55,176.61 49.69,175.16 48.86,173.68 48.08,172.18 47.35,170.66 46.65,169.12 46.01,167.56 45.41,165.97 44.85,164.38 44.33,162.77 43.86,161.15 43.44,159.51 43.07,157.86 42.74,156.2 42.46,154.53 42.22,152.86 42.03,151.17 41.89,149.49 41.8,147.79 41.75,146.1 41.75,144.4 41.79,142.71 41.94,141.02 42.08,139.33 42.28,137.64 42.57,135.97 42.83,134.29 43.19,132.63 43.6,130.98 44,129.33 44.46,127.69 45.01,126.08 45.55,124.46 46.14,122.86 46.82,121.29 47.5,119.72 48.21,118.16 49.03,116.66 49.88,115.17 50.77,113.7 51.7,112.26 52.63,110.81 53.66,109.43 54.73,108.09 55.86,106.79 57.01,105.5 58.2,104.26 59.43,103.05 60.7,101.89 62,100.77 63.34,99.68 64.71,98.63 66.11,97.63 67.54,96.67 69,95.75 70.48,94.87 71.99,94.04 73.53,93.26 75.08,92.52 76.66,91.83 78.26,91.18 79.87,90.58 81.5,90.03 83.15,89.53 84.81,89.07 86.48,88.66 88.16,88.3 89.86,87.98 91.56,87.72 93.27,87.51 94.98,87.34 96.7,87.23 98.42,87.16 100.14,87.15 101.86,87.18" fill="#ff5454"/><polygon points="103.39,43.3 100.39,43.23 97.38,43.26 94.38,43.38 91.39,43.57 88.4,43.85 85.42,44.22 82.45,44.67 79.49,45.21 76.55,45.83 73.63,46.54 70.73,47.34 67.85,48.2 64.99,49.13 62.16,50.14 59.35,51.23 56.58,52.41 53.85,53.68 51.16,55.05 48.52,56.49 45.92,58.02 43.36,59.61 40.85,61.29 38.4,63.04 36.01,64.88 33.68,66.79 31.4,68.77 29.19,70.81 27.07,72.95 25.04,75.18 23.1,77.48 21.47,80.04 19.96,82.66 18.62,85.37 17.37,88.11 16.22,90.87 15.15,93.65 14.18,96.45 13.46,99.34 12.85,102.25 12.35,105.15 11.87,108.01 11.52,110.89 11.18,113.72 10.89,116.52 10.69,119.32 10.24,122.01 9.91,124.72 9.72,127.43 9.56,130.13 9.33,132.8 9.11,135.46 9.03,138.13 9.03,140.79 9.05,143.45 9.2,146.1 9.32,148.74 9.52,151.38 9.8,154 10.15,156.62 10.58,159.22 11.08,161.8 11.6,164.38 12.2,166.94 12.87,169.48 13.62,172 14.44,174.5 15.33,176.97 16.25,179.43 17.24,181.86 18.3,184.26 19.43,186.63 20.63,188.97 21.9,191.27 23.24,193.54 24.64,195.76 26.11,197.94 27.66,200.07 29.27,202.15 30.94,204.18 32.67,206.16 34.45,208.09 36.29,209.97 38.19,211.79 40.14,213.56 42.14,215.27 44.18,216.92 46.28,218.5 48.42,220.03 50.6,221.5 52.82,222.89 55.09,224.23 57.4,225.48 59.74,226.67 62.11,227.79 64.52,228.85 66.96,229.83 69.42,230.73 71.91,231.57 74.42,232.33 76.95,233.02 79.5,233.63 82.07,234.17 84.65,234.64 87.24,235.03 89.85,235.34 92.46,235.57 95.07,235.74 97.69,235.84 100.31,235.87 102.93,235.81 101.84,204.62 100.13,204.65 98.43,204.63 96.72,204.57 95.01,204.46 93.31,204.3 91.61,204.08 89.92,203.82 88.24,203.51 86.57,203.16 84.91,202.75 83.26,202.29 81.63,201.79 80.01,201.24 78.41,200.64 76.82,200 75.26,199.31 73.71,198.57 72.19,197.79 70.69,196.97 69.22,196.1 67.77,195.18 66.35,194.23 64.96,193.23 63.6,192.2 62.27,191.12 60.97,190.01 59.7,188.86 58.47,187.67 57.27,186.44 56.11,185.19 54.99,183.9 53.9,182.57 52.86,181.22 51.85,179.83 50.89,178.42 49.97,176.97 49.1,175.5 48.26,174.01 47.47,172.49 46.73,170.95 46.03,169.39 45.38,167.81 44.77,166.21 44.2,164.6 43.68,162.97 43.2,161.32 42.78,159.67 42.4,158 42.07,156.32 41.78,154.63 41.54,152.93 41.34,151.23 41.2,149.53 41.11,147.81 41.06,146.1 41.11,144.39 41.15,142.67 41.29,140.96 41.44,139.25 41.68,137.56 41.92,135.86 42.23,134.17 42.64,132.5 43.05,130.84 43.46,129.17 43.96,127.53 44.46,125.88 45,124.24 45.63,122.64 46.27,121.03 46.99,119.47 47.71,117.89 48.53,116.37 49.38,114.86 50.27,113.37 51.21,111.92 52.2,110.49 53.22,109.09 54.26,107.69 55.39,106.37 56.55,105.07 57.76,103.81 59.04,102.64 60.33,101.47 61.64,100.33 62.99,99.24 64.38,98.18 65.79,97.17 67.23,96.2 68.71,95.27 70.2,94.39 71.73,93.55 73.28,92.75 74.82,91.95 76.42,91.25 78.03,90.6 79.66,90 81.31,89.44 82.97,88.93 84.65,88.47 86.34,88.05 88.04,87.69 89.75,87.37 91.47,87.1 93.2,86.89 94.93,86.72 96.66,86.61 98.4,86.54 100.14,86.52 101.88,86.56" fill="#ff5a5a"/><polygon points="103.37,43.92 100.38,43.86 97.4,43.88 94.42,44 91.44,44.19 88.47,44.47 85.5,44.83 82.55,45.28 79.61,45.82 76.69,46.44 73.79,47.15 70.91,47.94 68.05,48.79 65.2,49.71 62.36,50.66 59.57,51.75 56.82,52.92 54.1,54.18 51.43,55.54 48.8,56.98 46.21,58.5 43.67,60.09 41.18,61.75 38.73,63.49 36.36,65.32 34.04,67.22 31.78,69.19 29.57,71.22 27.46,73.35 25.45,75.56 23.57,77.9 21.9,80.39 20.4,83 19.06,85.7 17.82,88.42 16.66,91.17 15.65,93.96 14.68,96.74 13.96,99.62 13.45,102.55 13,105.46 12.62,108.34 12.32,111.21 12.03,114.03 11.84,116.84 11.68,119.62 11.28,122.29 10.96,124.96 10.77,127.65 10.6,130.31 10.37,132.95 10.21,135.59 10.08,138.22 10.07,140.85 10.14,143.48 10.24,146.1 10.36,148.71 10.55,151.32 10.82,153.91 11.17,156.5 11.59,159.07 12.09,161.62 12.6,164.17 13.2,166.7 13.86,169.22 14.6,171.71 15.41,174.17 16.29,176.62 17.2,179.05 18.18,181.45 19.23,183.83 20.35,186.17 21.53,188.48 22.79,190.76 24.11,193 25.5,195.2 26.95,197.35 28.48,199.46 30.07,201.51 31.72,203.52 33.43,205.48 35.2,207.39 37.02,209.24 38.89,211.04 40.82,212.79 42.79,214.48 44.81,216.11 46.88,217.68 49,219.19 51.16,220.64 53.36,222.02 55.6,223.34 57.88,224.58 60.19,225.76 62.54,226.87 64.92,227.91 67.33,228.87 69.77,229.77 72.23,230.6 74.71,231.35 77.21,232.03 79.73,232.64 82.27,233.17 84.82,233.63 87.39,234.02 89.96,234.33 92.54,234.56 95.13,234.73 97.72,234.83 100.31,234.85 102.9,234.8 101.87,205.49 100.14,205.52 98.4,205.51 96.67,205.44 94.94,205.32 93.21,205.16 91.49,204.95 89.78,204.68 88.07,204.37 86.37,204.01 84.69,203.59 83.01,203.13 81.36,202.62 79.71,202.06 78.09,201.46 76.48,200.8 74.89,200.1 73.32,199.36 71.78,198.56 70.25,197.73 68.76,196.84 67.29,195.92 65.85,194.95 64.44,193.94 63.06,192.89 61.7,191.79 60.39,190.66 59.1,189.5 57.85,188.29 56.64,187.05 55.46,185.77 54.32,184.46 53.22,183.12 52.15,181.74 51.13,180.34 50.16,178.9 49.23,177.44 48.34,175.94 47.49,174.43 46.69,172.89 45.94,171.32 45.23,169.74 44.56,168.13 43.95,166.51 43.37,164.87 42.84,163.22 42.36,161.55 41.93,159.87 41.54,158.17 41.21,156.47 40.91,154.76 40.66,153.04 40.46,151.31 40.32,149.58 40.22,147.84 40.17,146.1 40.16,144.36 40.21,142.62 40.35,140.88 40.54,139.15 40.74,137.42 41.03,135.7 41.34,133.98 41.7,132.28 42.16,130.6 42.61,128.91 43.12,127.24 43.66,125.59 44.3,123.96 44.93,122.34 45.66,120.75 46.39,119.16 47.21,117.62 47.98,116.05 48.88,114.55 49.78,113.05 50.72,111.57 51.71,110.12 52.74,108.71 53.84,107.33 54.93,105.96 56.15,104.69 57.36,103.42 58.61,102.19 59.91,101 61.24,99.85 62.61,98.74 64,97.67 65.43,96.65 66.89,95.67 68.38,94.73 69.89,93.84 71.43,92.99 73,92.19 74.58,91.44 76.19,90.73 77.82,90.08 79.47,89.47 81.12,88.85 82.8,88.34 84.49,87.87 86.2,87.45 87.92,87.08 89.65,86.76 91.38,86.49 93.13,86.27 94.88,86.1 96.63,85.99 98.39,85.92 100.14,85.9 101.9,85.94" fill="#ff6060"/><polygon points="103.35,44.54 100.38,44.48 97.41,44.5 94.45,44.62 91.49,44.81 88.53,45.09 85.59,45.45 82.66,45.9 79.74,46.43 76.83,47.05 73.95,47.75 71.08,48.53 68.24,49.38 65.41,50.3 62.59,51.24 59.82,52.33 57.08,53.49 54.38,54.74 51.72,56.1 49.11,57.53 46.54,59.03 44.01,60.61 41.53,62.26 39.11,64 36.75,65.82 34.44,67.71 32.19,69.66 30,71.68 27.9,73.79 25.94,76.04 24.03,78.31 22.47,80.87 20.97,83.46 19.69,86.17 18.55,88.94 17.46,91.69 16.45,94.46 15.53,97.24 14.92,100.14 14.46,103.06 14.01,105.93 13.62,108.78 13.33,111.61 13.08,114.41 12.88,117.19 12.73,119.93 12.33,122.57 12,125.21 11.81,127.86 11.7,130.51 11.41,133.11 11.25,135.71 11.17,138.32 11.11,140.92 11.18,143.51 11.27,146.1 11.39,148.68 11.58,151.26 11.85,153.82 12.19,156.38 12.61,158.92 13.1,161.45 13.61,163.96 14.19,166.47 14.85,168.95 15.58,171.41 16.38,173.85 17.24,176.27 18.14,178.67 19.11,181.05 20.15,183.39 21.26,185.71 22.43,188 23.67,190.25 24.98,192.46 26.35,194.63 27.78,196.76 29.3,198.84 30.87,200.87 32.5,202.86 34.19,204.8 35.94,206.68 37.74,208.52 39.59,210.3 41.49,212.02 43.45,213.69 45.45,215.31 47.49,216.86 49.58,218.35 51.72,219.78 53.89,221.15 56.1,222.45 58.36,223.68 60.65,224.84 62.97,225.94 65.32,226.97 67.7,227.92 70.11,228.81 72.54,229.63 75,230.37 77.47,231.05 79.96,231.65 82.47,232.18 84.99,232.63 87.53,233.01 90.07,233.32 92.62,233.55 95.18,233.71 97.74,233.81 100.3,233.83 102.86,233.78 101.91,206.4 100.14,206.44 98.38,206.42 96.62,206.36 94.87,206.24 93.11,206.08 91.36,205.86 89.62,205.59 87.89,205.27 86.16,204.9 84.45,204.49 82.75,204.02 81.07,203.5 79.4,202.93 77.75,202.32 76.12,201.65 74.5,200.94 72.91,200.18 71.34,199.38 69.8,198.53 68.28,197.63 66.79,196.69 65.32,195.71 63.89,194.68 62.48,193.61 61.11,192.51 59.77,191.36 58.47,190.17 57.2,188.95 55.96,187.69 54.77,186.39 53.61,185.06 52.49,183.69 51.41,182.3 50.37,180.87 49.38,179.41 48.44,177.92 47.54,176.41 46.68,174.87 45.86,173.3 45.1,171.71 44.38,170.1 43.71,168.47 43.08,166.83 42.49,165.16 41.95,163.48 41.46,161.79 41.02,160.08 40.63,158.36 40.29,156.63 39.99,154.89 39.74,153.15 39.53,151.39 39.38,149.63 39.28,147.87 39.23,146.1 39.22,144.33 39.31,142.56 39.4,140.8 39.6,139.04 39.84,137.29 40.09,135.53 40.44,133.8 40.8,132.06 41.21,130.34 41.67,128.63 42.22,126.95 42.76,125.26 43.4,123.6 44.08,121.97 44.76,120.33 45.53,118.73 46.35,117.16 47.22,115.61 48.13,114.09 49.08,112.59 50.08,111.12 51.08,109.65 52.17,108.25 53.32,106.89 54.47,105.54 55.69,104.26 56.92,102.97 58.19,101.73 59.5,100.53 60.84,99.37 62.22,98.25 63.63,97.17 65.07,96.14 66.55,95.15 68.05,94.2 69.58,93.3 71.14,92.44 72.72,91.63 74.32,90.87 75.95,90.16 77.6,89.5 79.24,88.82 80.92,88.26 82.62,87.74 84.33,87.26 86.06,86.84 87.8,86.47 89.54,86.14 91.3,85.87 93.06,85.65 94.83,85.48 96.6,85.36 98.37,85.3 100.15,85.28 101.92,85.32" fill="#ff6666"/><polygon points="103.31,45.72 100.37,45.66 97.44,45.69 94.51,45.8 91.59,45.99 88.67,46.26 85.75,46.62 82.85,47.06 79.97,47.59 77.1,48.2 74.25,48.89 71.42,49.67 68.59,50.45 65.79,51.36 63.02,52.35 60.29,53.42 57.58,54.57 54.88,55.75 52.26,57.09 49.67,58.5 47.13,59.99 44.63,61.56 42.18,63.19 39.78,64.9 37.44,66.7 35.16,68.57 32.94,70.5 30.77,72.5 28.74,74.63 26.76,76.81 24.91,79.1 23.32,81.59 21.88,84.18 20.62,86.86 19.49,89.6 18.4,92.31 17.4,95.05 16.54,97.82 15.93,100.68 15.42,103.54 15.02,106.4 14.63,109.21 14.33,112.01 14.08,114.78 13.93,117.53 13.72,120.23 13.37,122.85 13.1,125.47 12.85,128.08 12.74,130.69 12.51,133.27 12.3,135.83 12.21,138.41 12.2,140.98 12.27,143.54 12.36,146.1 12.48,148.65 12.66,151.19 12.93,153.73 13.26,156.25 13.67,158.76 14.15,161.26 14.66,163.75 15.23,166.22 15.88,168.67 16.6,171.1 17.39,173.51 18.25,175.9 19.14,178.27 20.09,180.62 21.12,182.94 22.21,185.23 23.37,187.49 24.6,189.71 25.89,191.89 27.25,194.04 28.66,196.15 30.16,198.2 31.71,200.21 33.32,202.17 34.99,204.08 36.72,205.94 38.49,207.76 40.32,209.52 42.2,211.22 44.13,212.87 46.11,214.46 48.13,216 50.2,217.47 52.3,218.88 54.45,220.24 56.64,221.52 58.86,222.74 61.13,223.89 63.42,224.97 65.74,225.98 68.09,226.93 70.47,227.81 72.87,228.61 75.3,229.35 77.74,230.02 80.2,230.61 82.68,231.13 85.17,231.58 87.68,231.96 90.19,232.26 92.71,232.49 95.24,232.65 97.76,232.75 100.3,232.77 102.82,232.72 101.94,207.32 100.15,207.36 98.36,207.34 96.57,207.28 94.79,207.16 93.01,206.99 91.23,206.77 89.47,206.5 87.71,206.18 85.96,205.8 84.22,205.38 82.49,204.9 80.78,204.38 79.09,203.8 77.41,203.18 75.75,202.5 74.11,201.78 72.5,201.01 70.9,200.2 69.34,199.33 67.79,198.42 66.28,197.47 64.79,196.47 63.34,195.43 61.91,194.34 60.52,193.22 59.16,192.05 57.83,190.85 56.54,189.6 55.29,188.32 54.08,187.01 52.9,185.66 51.76,184.27 50.67,182.85 49.62,181.41 48.61,179.92 47.65,178.41 46.73,176.87 45.86,175.31 45.04,173.72 44.26,172.11 43.53,170.47 42.85,168.82 42.21,167.14 41.62,165.45 41.07,163.75 40.57,162.03 40.12,160.3 39.73,158.55 39.38,156.79 39.07,155.03 38.81,153.25 38.6,151.47 38.45,149.69 38.35,147.89 38.3,146.1 38.28,144.3 38.37,142.51 38.51,140.72 38.65,138.93 38.9,137.15 39.19,135.37 39.5,133.6 39.86,131.84 40.32,130.1 40.78,128.36 41.32,126.65 41.86,124.93 42.5,123.24 43.17,121.57 43.9,119.93 44.67,118.3 45.49,116.69 46.37,115.11 47.28,113.56 48.24,112.03 49.25,110.53 50.3,109.07 51.4,107.64 52.51,106.22 53.72,104.88 54.92,103.53 56.21,102.26 57.5,101 58.83,99.78 60.2,98.6 61.6,97.46 63.03,96.36 64.5,95.31 66,94.31 67.53,93.34 69.08,92.43 70.67,91.56 72.27,90.73 73.9,89.96 75.56,89.24 77.21,88.51 78.9,87.88 80.61,87.31 82.34,86.78 84.08,86.3 85.83,85.87 87.6,85.49 89.37,85.16 91.16,84.89 92.95,84.66 94.74,84.49 96.55,84.37 98.35,84.3 100.15,84.29 101.96,84.32" fill="#ff6c6c"/><polygon points="103.27,46.84 100.37,46.78 97.47,46.81 94.57,46.92 91.68,47.11 88.79,47.38 85.91,47.73 83.04,48.17 80.19,48.69 77.35,49.29 74.53,49.98 71.74,50.75 68.95,51.57 66.19,52.47 63.46,53.45 60.73,54.45 58.05,55.59 55.41,56.82 52.82,58.14 50.26,59.54 47.75,61.01 45.28,62.55 42.86,64.17 40.49,65.86 38.18,67.64 35.93,69.49 33.73,71.4 31.59,73.37 29.53,75.43 27.62,77.63 25.75,79.85 24.21,82.35 22.8,84.91 21.54,87.55 20.42,90.25 19.34,92.94 18.4,95.67 17.5,98.37 16.93,101.23 16.42,104.05 16.02,106.87 15.63,109.65 15.38,112.43 15.13,115.16 14.92,117.87 14.76,120.54 14.41,123.13 14.14,125.72 13.9,128.3 13.78,130.88 13.55,133.42 13.39,135.96 13.26,138.5 13.25,141.04 13.31,143.57 13.4,146.1 13.51,148.62 13.7,151.13 13.95,153.64 14.28,156.13 14.69,158.61 15.16,161.08 15.66,163.54 16.23,165.98 16.87,168.41 17.58,170.81 18.36,173.19 19.21,175.55 20.09,177.9 21.03,180.22 22.05,182.51 23.13,184.77 24.27,187 25.49,189.19 26.76,191.35 28.1,193.48 29.5,195.56 30.98,197.59 32.51,199.57 34.11,201.51 35.76,203.4 37.46,205.24 39.22,207.03 41.02,208.77 42.88,210.45 44.79,212.08 46.74,213.66 48.74,215.17 50.78,216.63 52.86,218.03 54.98,219.36 57.15,220.63 59.35,221.84 61.58,222.97 63.85,224.04 66.14,225.04 68.47,225.98 70.82,226.85 73.19,227.64 75.59,228.37 78,229.03 80.43,229.62 82.88,230.13 85.35,230.58 87.82,230.95 90.3,231.25 92.79,231.47 95.29,231.64 97.79,231.73 100.29,231.75 102.79,231.7 101.97,208.24 100.16,208.28 98.34,208.26 96.53,208.19 94.71,208.07 92.91,207.9 91.11,207.68 89.31,207.41 87.52,207.08 85.75,206.7 83.98,206.27 82.23,205.79 80.5,205.25 78.78,204.67 77.07,204.04 75.39,203.35 73.73,202.62 72.09,201.84 70.47,201.01 68.88,200.14 67.31,199.21 65.77,198.24 64.26,197.23 62.79,196.17 61.34,195.07 59.93,193.93 58.55,192.75 57.2,191.52 55.89,190.26 54.62,188.96 53.39,187.63 52.19,186.25 51.04,184.85 49.93,183.41 48.86,181.94 47.84,180.43 46.86,178.9 45.93,177.34 45.05,175.75 44.21,174.13 43.42,172.5 42.68,170.84 41.99,169.16 41.35,167.46 40.74,165.75 40.18,164.02 39.68,162.27 39.22,160.51 38.82,158.74 38.47,156.95 38.15,155.16 37.89,153.36 37.68,151.56 37.52,149.74 37.41,147.92 37.36,146.1 37.39,144.28 37.43,142.45 37.56,140.64 37.76,138.82 37.95,137.01 38.25,135.21 38.6,133.42 38.96,131.63 39.42,129.86 39.88,128.09 40.43,126.35 40.96,124.6 41.59,122.88 42.27,121.18 42.99,119.5 43.82,117.87 44.64,116.23 45.51,114.62 46.43,113.03 47.4,111.48 48.41,109.95 49.48,108.45 50.58,106.99 51.76,105.58 52.98,104.21 54.2,102.84 55.46,101.51 56.81,100.27 58.17,99.03 59.56,97.83 60.98,96.67 62.44,95.56 63.93,94.49 65.45,93.47 67.01,92.49 68.59,91.56 70.19,90.67 71.83,89.84 73.48,89.05 75.14,88.26 76.84,87.58 78.57,86.94 80.31,86.36 82.06,85.83 83.83,85.34 85.61,84.9 87.4,84.51 89.21,84.18 91.01,83.84 92.83,83.61 94.66,83.44 96.49,83.31 98.32,83.24 100.16,83.23 101.99,83.27" fill="#ff7272"/><polygon points="103.23,48.02 100.36,47.96 97.5,47.99 94.63,48.1 91.77,48.28 88.92,48.55 86.08,48.9 83.24,49.33 80.42,49.85 77.62,50.44 74.83,51.12 72.07,51.88 69.32,52.7 66.57,53.53 63.87,54.5 61.19,55.55 58.55,56.67 55.94,57.88 53.35,59.13 50.82,60.52 48.34,61.97 45.9,63.5 43.5,65.1 41.16,66.77 38.88,68.53 36.65,70.35 34.48,72.24 32.36,74.19 30.37,76.27 28.44,78.4 26.63,80.64 25.11,83.1 23.71,85.63 22.46,88.24 21.35,90.91 20.28,93.56 19.35,96.25 18.45,98.93 17.89,101.75 17.43,104.56 17.03,107.34 16.64,110.08 16.38,112.83 16.18,115.54 15.97,118.21 15.85,120.87 15.56,123.44 15.34,126.01 15.19,128.56 15.07,131.1 14.89,133.62 14.73,136.12 14.65,138.62 14.69,141.12 14.75,143.62 14.88,146.1 14.99,148.58 15.17,151.05 15.42,153.51 15.74,155.96 16.14,158.4 16.6,160.82 17.09,163.24 17.65,165.64 18.28,168.03 18.98,170.39 19.74,172.73 20.58,175.05 21.44,177.36 22.37,179.64 23.37,181.89 24.43,184.11 25.56,186.3 26.75,188.46 28,190.58 29.32,192.67 30.7,194.71 32.15,196.71 33.66,198.66 35.23,200.56 36.85,202.42 38.52,204.23 40.25,205.99 42.03,207.7 43.85,209.36 45.72,210.96 47.64,212.51 49.61,214 51.61,215.43 53.66,216.8 55.75,218.12 57.87,219.37 60.03,220.55 62.23,221.66 64.46,222.72 66.71,223.7 69,224.62 71.31,225.47 73.64,226.26 76,226.98 78.37,227.62 80.76,228.2 83.17,228.71 85.59,229.14 88.02,229.51 90.46,229.8 92.91,230.03 95.37,230.19 97.82,230.28 100.28,230.3 102.74,230.25 102,209.11 100.16,209.15 98.32,209.13 96.48,209.06 94.64,208.94 92.81,208.77 90.98,208.55 89.16,208.27 87.35,207.94 85.55,207.55 83.76,207.11 81.99,206.63 80.23,206.08 78.48,205.49 76.75,204.85 75.05,204.16 73.36,203.41 71.7,202.62 70.06,201.78 68.44,200.9 66.85,199.96 65.29,198.98 63.76,197.95 62.27,196.88 60.8,195.76 59.36,194.6 57.96,193.4 56.6,192.16 55.27,190.88 53.98,189.57 52.73,188.21 51.52,186.82 50.35,185.39 49.22,183.94 48.14,182.44 47.11,180.92 46.12,179.36 45.17,177.78 44.28,176.17 43.43,174.53 42.63,172.87 41.88,171.19 41.18,169.48 40.53,167.76 39.91,166.02 39.34,164.27 38.83,162.5 38.37,160.71 37.96,158.92 37.6,157.11 37.28,155.29 37.01,153.47 36.79,151.63 36.63,149.79 36.52,147.95 36.47,146.1 36.45,144.25 36.53,142.4 36.62,140.55 36.81,138.71 37.06,136.88 37.36,135.05 37.66,133.22 38.07,131.41 38.48,129.61 38.99,127.82 39.53,126.05 40.06,124.27 40.74,122.54 41.41,120.81 42.14,119.1 42.91,117.41 43.78,115.76 44.66,114.12 45.58,112.51 46.55,110.92 47.63,109.39 48.7,107.87 49.82,106.38 51,104.94 52.19,103.51 53.47,102.15 54.76,100.8 56.13,99.54 57.5,98.28 58.92,97.06 60.36,95.88 61.84,94.75 63.36,93.67 64.9,92.63 66.48,91.63 68.09,90.69 69.72,89.79 71.35,88.88 73.04,88.09 74.75,87.34 76.48,86.65 78.23,86 80,85.41 81.76,84.81 83.56,84.31 85.37,83.87 87.19,83.47 89.03,83.14 90.87,82.85 92.72,82.62 94.58,82.44 96.44,82.32 98.3,82.25 100.16,82.23 102.03,82.27" fill="#ff7878"/><polygon points="103.18,49.2 100.35,49.14 97.52,49.17 94.69,49.28 91.87,49.46 89.05,49.73 86.24,50.07 83.43,50.44 80.64,50.94 77.87,51.53 75.12,52.21 72.39,52.96 69.67,53.77 66.97,54.65 64.3,55.6 61.63,56.58 59.02,57.7 56.44,58.89 53.91,60.18 51.41,61.55 48.96,62.99 46.55,64.5 44.18,66.07 41.87,67.73 39.61,69.46 37.41,71.27 35.26,73.13 33.17,75.06 31.17,77.07 29.3,79.22 27.46,81.38 25.96,83.82 24.57,86.32 23.39,88.93 22.29,91.57 21.22,94.18 20.3,96.84 19.46,99.51 18.9,102.29 18.44,105.07 18.19,107.89 17.9,110.63 17.74,113.37 17.63,116.07 17.56,118.74 17.49,121.36 17.2,123.88 16.98,126.4 16.83,128.9 16.71,131.39 16.53,133.86 16.37,136.31 16.34,138.77 16.32,141.22 16.38,143.66 16.51,146.1 16.61,148.53 16.79,150.95 17.03,153.37 17.35,155.77 17.74,158.16 18.19,160.54 18.67,162.91 19.22,165.27 19.83,167.61 20.52,169.93 21.27,172.22 22.08,174.5 22.93,176.76 23.84,179 24.82,181.21 25.87,183.39 26.97,185.54 28.14,187.65 29.37,189.74 30.66,191.78 32.02,193.79 33.44,195.74 34.92,197.66 36.46,199.53 38.05,201.35 39.69,203.12 41.38,204.85 43.13,206.53 44.92,208.15 46.75,209.73 48.64,211.24 50.56,212.71 52.53,214.11 54.54,215.46 56.59,216.75 58.67,217.97 60.79,219.13 62.94,220.23 65.13,221.26 67.34,222.23 69.58,223.13 71.85,223.97 74.14,224.74 76.45,225.44 78.78,226.07 81.13,226.64 83.49,227.14 85.86,227.57 88.25,227.93 90.64,228.22 93.04,228.43 95.45,228.59 97.86,228.68 100.27,228.7 102.68,228.66 102.07,211.05 100.17,211.09 98.27,211.07 96.38,211 94.49,210.87 92.6,210.7 90.71,210.46 88.84,210.18 86.97,209.84 85.11,209.44 83.27,208.99 81.44,208.49 79.62,207.93 77.82,207.32 76.04,206.66 74.28,205.95 72.55,205.18 70.83,204.37 69.14,203.5 67.47,202.59 65.84,201.62 64.23,200.61 62.65,199.55 61.11,198.44 59.59,197.29 58.12,196.1 56.67,194.86 55.27,193.58 53.9,192.27 52.57,190.91 51.28,189.51 50.03,188.08 48.82,186.61 47.66,185.1 46.54,183.57 45.48,181.99 44.46,180.39 43.49,178.75 42.57,177.09 41.69,175.41 40.87,173.69 40.09,171.96 39.37,170.2 38.7,168.43 38.06,166.64 37.48,164.83 36.95,163 36.47,161.17 36.05,159.31 35.68,157.45 35.35,155.58 35.06,153.69 34.84,151.8 34.67,149.91 34.55,148.01 34.49,146.1 34.47,144.19 34.6,142.29 34.78,140.39 34.97,138.49 35.27,136.61 35.62,134.74 36.02,132.88 36.52,131.05 37.03,129.22 37.65,127.42 38.34,125.65 39.06,123.91 39.84,122.18 40.51,120.42 41.23,118.68 42.06,116.98 42.87,115.27 43.8,113.63 44.73,111.98 45.76,110.39 46.79,108.81 47.87,107.25 49.05,105.77 50.2,104.26 51.45,102.84 52.75,101.47 54.05,100.09 55.4,98.76 56.8,97.48 58.23,96.24 59.74,95.1 61.24,93.94 62.78,92.84 64.36,91.79 65.93,90.73 67.56,89.76 69.22,88.85 70.91,87.99 72.62,87.18 74.36,86.42 76.11,85.72 77.89,85.06 79.67,84.4 81.48,83.85 83.31,83.35 85.14,82.9 87,82.5 88.86,82.15 90.73,81.87 92.61,81.63 94.5,81.45 96.38,81.33 98.28,81.25 100.17,81.24 102.06,81.28" fill="#ff7e7e"/><polygon points="103.14,50.32 100.35,50.26 97.55,50.29 94.75,50.39 91.96,50.58 89.18,50.84 86.4,51.18 83.63,51.6 80.88,52.1 78.14,52.69 75.42,53.35 72.72,54.09 70.04,54.89 67.35,55.7 64.71,56.65 62.1,57.67 59.52,58.77 56.97,59.96 54.44,61.18 51.97,62.53 49.55,63.95 47.16,65.44 44.82,67 42.54,68.64 40.31,70.35 38.13,72.13 36.01,73.98 33.99,75.93 32,77.92 30.11,79.99 28.35,82.17 26.86,84.58 25.48,87.04 24.36,89.66 23.32,92.29 22.36,94.94 21.55,97.62 20.77,100.27 20.36,103.08 20,105.85 19.75,108.62 19.5,111.32 19.34,114.01 19.22,116.66 19.16,119.27 19.08,121.84 18.79,124.31 18.57,126.78 18.42,129.23 18.35,131.68 18.17,134.1 18.02,136.51 17.98,138.92 17.96,141.32 18.07,143.71 18.14,146.1 18.24,148.48 18.41,150.86 18.65,153.23 18.96,155.58 19.33,157.93 19.78,160.26 20.24,162.59 20.78,164.9 21.38,167.19 22.05,169.47 22.79,171.72 23.59,173.95 24.42,176.17 25.32,178.36 26.28,180.53 27.3,182.66 28.39,184.77 29.53,186.85 30.74,188.89 32.01,190.89 33.33,192.86 34.73,194.78 36.18,196.66 37.69,198.49 39.25,200.28 40.86,202.02 42.52,203.71 44.23,205.36 45.98,206.95 47.78,208.49 49.63,209.98 51.52,211.41 53.45,212.79 55.42,214.11 57.42,215.37 59.47,216.58 61.55,217.71 63.66,218.79 65.8,219.8 67.97,220.75 70.17,221.64 72.39,222.46 74.64,223.21 76.9,223.9 79.19,224.52 81.49,225.08 83.8,225.57 86.13,225.99 88.47,226.34 90.82,226.63 93.17,226.84 95.53,227 97.9,227.09 100.26,227.11 102.63,227.06 102.14,212.98 100.18,213.02 98.23,213.01 96.28,212.93 94.33,212.8 92.38,212.62 90.44,212.38 88.51,212.09 86.59,211.74 84.67,211.33 82.78,210.87 80.89,210.35 79.02,209.78 77.17,209.15 75.33,208.47 73.52,207.74 71.73,206.95 69.96,206.11 68.22,205.22 66.51,204.28 64.82,203.28 63.16,202.24 61.54,201.15 59.95,200.01 58.39,198.83 56.87,197.6 55.38,196.32 53.93,195.01 52.52,193.65 51.15,192.25 49.82,190.81 48.54,189.34 47.3,187.82 46.1,186.27 44.95,184.69 43.85,183.07 42.8,181.42 41.8,179.73 40.85,178.02 39.95,176.28 39.1,174.52 38.31,172.73 37.56,170.92 36.87,169.09 36.22,167.25 35.62,165.39 35.07,163.51 34.58,161.62 34.14,159.71 33.76,157.79 33.41,155.86 33.12,153.92 32.88,151.98 32.7,150.02 32.58,148.06 32.52,146.1 32.48,144.13 32.61,142.17 32.79,140.22 33.03,138.27 33.28,136.32 33.64,134.39 34.08,132.48 34.53,130.57 35.1,128.7 35.71,126.84 36.39,125.01 37.17,123.21 37.99,121.44 38.9,119.72 39.82,118.02 40.85,116.37 41.92,114.76 42.95,113.13 43.88,111.45 44.92,109.84 45.96,108.22 47.09,106.67 48.23,105.12 49.44,103.63 50.71,102.18 51.98,100.74 53.35,99.38 54.72,98.03 56.13,96.73 57.59,95.47 59.08,94.26 60.61,93.09 62.18,91.97 63.77,90.89 65.4,89.87 67.06,88.89 68.75,87.97 70.46,87.09 72.2,86.27 73.96,85.5 75.73,84.73 77.53,84.07 79.36,83.46 81.2,82.9 83.05,82.38 84.92,81.93 86.8,81.52 88.69,81.17 90.59,80.88 92.5,80.64 94.41,80.46 96.33,80.33 98.25,80.26 100.18,80.24 102.1,80.28" fill="#ff8484"/><polygon points="103.09,51.94 100.34,51.88 97.59,51.9 94.84,52.01 92.09,52.19 89.36,52.45 86.62,52.78 83.9,53.2 81.2,53.69 78.51,54.26 75.83,54.92 73.18,55.65 70.52,56.37 67.9,57.23 65.31,58.16 62.71,59.11 60.17,60.19 57.64,61.3 55.18,62.56 52.75,63.89 50.36,65.28 48.02,66.75 45.72,68.29 43.47,69.9 41.28,71.58 39.14,73.34 37.05,75.15 35.01,77.02 33.11,79.02 31.29,81.11 29.55,83.25 28.13,85.65 26.87,88.15 25.77,90.72 24.79,93.33 23.85,95.92 23.05,98.54 22.32,101.17 21.87,103.9 21.56,106.64 21.31,109.35 21.06,112 20.94,114.65 20.82,117.24 20.75,119.8 20.82,122.36 20.78,124.85 20.86,127.32 20.96,129.76 21.18,132.19 21.1,134.53 21.1,136.87 21.16,139.19 21.34,141.51 21.53,143.81 21.65,146.1 21.74,148.38 21.9,150.65 22.12,152.92 22.41,155.18 22.77,157.43 23.19,159.66 23.63,161.89 24.15,164.1 24.72,166.29 25.36,168.47 26.07,170.63 26.83,172.76 27.63,174.89 28.49,176.99 29.41,179.06 30.39,181.11 31.43,183.12 32.53,185.11 33.68,187.07 34.9,188.98 36.17,190.87 37.5,192.7 38.89,194.5 40.33,196.25 41.83,197.97 43.37,199.63 44.96,201.26 46.59,202.83 48.28,204.36 50,205.83 51.77,207.26 53.58,208.63 55.42,209.95 57.31,211.22 59.23,212.42 61.18,213.58 63.18,214.66 65.2,215.69 67.25,216.66 69.33,217.57 71.43,218.42 73.56,219.21 75.71,219.93 77.87,220.6 80.06,221.19 82.26,221.73 84.48,222.19 86.71,222.6 88.95,222.94 91.2,223.21 93.46,223.42 95.72,223.56 97.98,223.65 100.24,223.67 102.51,223.62 102.2,214.92 100.19,214.96 98.18,214.94 96.17,214.86 94.17,214.73 92.17,214.55 90.17,214.3 88.18,214 86.2,213.64 84.24,213.22 82.28,212.75 80.34,212.21 78.42,211.62 76.51,210.98 74.62,210.28 72.76,209.52 70.92,208.71 69.1,207.85 67.3,206.94 65.54,205.97 63.8,204.95 62.1,203.87 60.43,202.75 58.79,201.58 57.19,200.36 55.62,199.09 54.09,197.78 52.6,196.43 51.15,195.03 49.74,193.59 48.37,192.11 47.05,190.59 45.77,189.04 44.54,187.44 43.35,185.81 42.22,184.14 41.14,182.44 40.12,180.71 39.14,178.95 38.21,177.16 37.34,175.35 36.52,173.51 35.76,171.64 35.05,169.76 34.37,167.86 33.75,165.95 33.19,164.02 32.68,162.07 32.23,160.1 31.84,158.13 31.48,156.15 31.17,154.15 30.93,152.15 30.74,150.14 30.61,148.12 30.54,146.1 30.5,144.08 30.62,142.06 30.8,140.04 31.04,138.03 31.34,136.04 31.65,134.04 32.09,132.07 32.59,130.11 33.16,128.17 33.78,126.26 34.45,124.36 35.27,122.52 36.08,120.68 36.99,118.9 37.96,117.15 38.98,115.43 40.05,113.75 41.19,112.11 42.33,110.49 43.48,108.89 44.73,107.36 45.98,105.84 47.32,104.4 48.64,102.95 49.97,101.51 51.26,100.05 52.64,98.67 54.03,97.3 55.47,95.98 56.95,94.7 58.46,93.47 60.01,92.28 61.6,91.14 63.23,90.06 64.88,89.02 66.56,88.02 68.28,87.08 70.01,86.19 71.78,85.36 73.55,84.52 75.36,83.8 77.2,83.13 79.05,82.51 80.92,81.94 82.8,81.42 84.69,80.96 86.6,80.55 88.51,80.13 90.44,79.83 92.38,79.59 94.33,79.41 96.28,79.28 98.23,79.2 100.18,79.19 102.14,79.22" fill="#ff8a8a"/><polygon points="103.03,53.74 100.33,53.68 97.63,53.71 94.93,53.81 92.24,53.99 89.56,54.24 86.88,54.57 84.21,54.98 81.55,55.46 78.91,56.02 76.29,56.66 73.69,57.38 71.08,58.09 68.51,58.93 65.94,59.79 63.42,60.78 60.93,61.84 58.45,62.93 56.03,64.16 53.65,65.46 51.31,66.83 49.01,68.27 46.76,69.78 44.55,71.36 42.4,73.01 40.3,74.73 38.25,76.51 36.26,78.35 34.39,80.31 32.6,82.35 30.9,84.45 29.5,86.81 28.27,89.26 27.18,91.77 26.21,94.33 25.34,96.9 24.55,99.47 23.83,102.05 23.43,104.75 23.12,107.43 22.97,110.12 23.32,112.98 23.8,115.79 24.22,118.48 24.69,121.11 25.14,123.66 25.15,126.02 25.23,128.36 25.38,130.68 26.24,133.08 25.98,135.25 25.77,137.42 25.63,139.59 25.56,141.76 25.55,143.93 25.6,146.1 25.68,148.26 25.83,150.42 26.03,152.58 26.3,154.72 26.64,156.86 27.03,158.98 27.45,161.09 27.94,163.2 28.49,165.28 29.09,167.35 29.76,169.4 30.48,171.43 31.24,173.45 32.06,175.44 32.93,177.41 33.87,179.35 34.85,181.27 35.9,183.16 37,185.01 38.15,186.83 39.36,188.62 40.63,190.37 41.95,192.07 43.32,193.74 44.74,195.37 46.2,196.95 47.71,198.49 49.26,199.99 50.86,201.44 52.5,202.84 54.18,204.19 55.89,205.5 57.65,206.75 59.44,207.95 61.26,209.1 63.12,210.2 65.01,211.23 66.93,212.21 68.88,213.13 70.85,214 72.85,214.8 74.87,215.55 76.91,216.24 78.97,216.87 81.05,217.44 83.14,217.95 85.25,218.39 87.37,218.78 89.49,219.1 91.63,219.36 93.77,219.56 95.92,219.7 98.07,219.78 100.22,219.8 102.37,219.76 102.37,219.76 100.22,219.8 98.07,219.78 95.92,219.7 93.77,219.56 91.63,219.36 89.49,219.1 87.37,218.78 85.25,218.39 83.14,217.95 81.05,217.44 78.97,216.87 76.91,216.24 74.87,215.55 72.85,214.8 70.85,214 68.88,213.13 66.93,212.21 65.01,211.23 63.12,210.2 61.26,209.1 59.44,207.95 57.65,206.75 55.89,205.5 54.18,204.19 52.5,202.84 50.86,201.44 49.26,199.99 47.71,198.49 46.2,196.95 44.74,195.37 43.32,193.74 41.95,192.07 40.63,190.37 39.36,188.62 38.15,186.83 37,185.01 35.9,183.16 34.85,181.27 33.87,179.35 32.93,177.41 32.06,175.44 31.24,173.45 30.48,171.43 29.76,169.4 29.09,167.35 28.49,165.28 27.94,163.2 27.45,161.09 27.03,158.98 26.64,156.86 26.3,154.72 26.03,152.58 25.83,150.42 25.68,148.26 25.6,146.1 25.55,143.93 25.56,141.76 25.63,139.59 25.77,137.42 25.98,135.25 26.24,133.08 25.68,130.74 26.88,128.75 28.14,126.82 29.46,124.96 31.41,123.35 33.32,121.81 34.18,119.92 35.13,118.09 36.1,116.27 37.12,114.49 38.24,112.76 39.38,111.06 40.53,109.38 41.75,107.74 42.96,106.11 44.28,104.56 45.64,103.06 46.99,101.55 48.39,100.1 49.76,98.63 51.19,97.21 52.66,95.84 54.14,94.48 55.67,93.16 57.26,91.94 58.86,90.72 60.49,89.55 62.17,88.43 63.83,87.31 65.57,86.28 67.33,85.32 69.12,84.4 70.94,83.54 72.76,82.68 74.63,81.94 76.5,81.19 78.41,80.55 80.32,79.91 82.26,79.37 84.22,78.89 86.19,78.47 88.17,78.11 90.16,77.8 92.16,77.55 94.16,77.36 96.17,77.23 98.18,77.15 100.19,77.13 102.21,77.17" fill="#ff9090"/></g><g mask="url(#cr)"><polygon points="95.79,260.84 99.14,260.91 102.5,260.88 105.85,260.75 109.19,260.53 112.53,260.22 115.86,259.81 119.17,259.31 122.47,258.71 125.75,258.01 129.01,257.22 132.24,256.33 135.46,255.38 138.66,254.35 141.82,253.22 144.95,252 148.05,250.69 151.1,249.28 154.1,247.76 157.05,246.15 159.96,244.45 162.81,242.66 165.62,240.8 168.36,238.84 171.02,236.78 173.62,234.65 176.16,232.44 178.63,230.16 181,227.77 183.25,225.27 185.4,222.69 187.25,219.85 188.8,216.82 190.13,213.67 191.35,210.51 192.59,207.41 193.73,204.3 194.84,201.21 195.69,198.02 196.44,194.84 197.24,191.73 197.99,188.63 198.62,185.51 199.11,182.39 199.54,179.28 199.74,176.14 200.09,173.07 200.36,170.02 200.59,166.99 200.73,163.96 200.97,160.97 201.18,157.99 201.31,155.01 201.35,152.04 201.3,149.06 201.17,146.1 201.01,143.14 200.77,140.2 200.44,137.26 200.02,134.34 199.52,131.44 198.94,128.55 198.34,125.68 197.66,122.82 196.9,119.98 196.05,117.17 195.12,114.39 194.11,111.64 193.08,108.89 191.97,106.18 190.78,103.5 189.51,100.86 188.16,98.25 186.74,95.69 185.24,93.16 183.67,90.68 182.02,88.25 180.18,85.97 178.16,83.83 176.09,81.76 173.96,79.75 171.78,77.82 169.71,75.79 167.65,73.75 165.54,71.77 163.36,69.86 161.13,68.01 158.85,66.22 156.51,64.5 154.19,62.75 151.87,60.98 149.49,59.28 147.05,57.65 144.55,56.09 141.93,54.78 139.24,53.6 136.51,52.51 133.76,51.5 130.97,50.57 128.17,49.72 125.34,48.95 122.48,48.27 119.62,47.67 116.73,47.15 113.83,46.72 110.92,46.37 108,46.11 105.08,45.92 102.16,45.81 99.23,45.78 96.3,45.84 98.16,99.05 99.53,99.02 100.91,99.03 102.28,99.09 103.65,99.18 105.02,99.31 106.38,99.48 107.74,99.7 109.09,99.95 110.43,100.24 111.77,100.57 113.09,100.94 114.4,101.35 115.7,101.8 116.99,102.28 118.26,102.8 119.52,103.36 120.76,103.95 121.98,104.57 123.19,105.23 124.38,105.92 125.55,106.64 126.69,107.4 127.81,108.2 128.91,109.04 129.98,109.9 131.03,110.8 132.04,111.72 133.03,112.68 133.99,113.66 134.92,114.68 135.81,115.73 136.67,116.8 137.5,117.9 138.3,119.02 139.07,120.15 139.81,121.31 140.52,122.49 141.19,123.69 141.83,124.9 142.43,126.14 143,127.39 143.52,128.66 144.02,129.94 144.47,131.24 144.88,132.55 145.25,133.87 145.59,135.21 145.89,136.55 146.14,137.9 146.36,139.26 146.53,140.62 146.67,141.98 146.76,143.35 146.82,144.73 146.83,146.1 146.8,147.47 146.73,148.84 146.62,150.21 146.48,151.58 146.29,152.93 146.06,154.29 145.78,155.63 145.46,156.96 145.1,158.28 144.7,159.6 144.26,160.89 143.78,162.17 143.26,163.44 142.71,164.69 142.12,165.92 141.5,167.13 140.83,168.32 140.13,169.49 139.41,170.64 138.65,171.77 137.85,172.87 137.02,173.95 136.16,174.99 135.28,176.02 134.37,177.03 133.45,178.02 132.5,178.98 131.52,179.92 130.52,180.83 129.49,181.71 128.44,182.56 127.36,183.38 126.26,184.17 125.14,184.93 124,185.65 122.83,186.34 121.65,187 120.44,187.62 119.22,188.21 117.99,188.76 116.74,189.27 115.47,189.75 114.19,190.19 112.9,190.6 111.59,190.96 110.28,191.29 108.95,191.57 107.62,191.82 106.29,192.03 104.94,192.2 103.59,192.33 102.24,192.43 100.89,192.48 99.54,192.49 98.18,192.46" fill="#ff0000"/><polygon points="95.98,255.56 99.17,255.62 102.37,255.59 105.57,255.47 108.76,255.26 111.94,254.97 115.12,254.58 118.28,254.1 121.42,253.52 124.55,252.86 127.66,252.1 130.75,251.26 133.82,250.34 136.86,249.36 139.88,248.28 142.87,247.12 145.82,245.87 148.73,244.52 151.59,243.06 154.41,241.52 157.18,239.9 159.9,238.2 162.58,236.42 165.19,234.56 167.73,232.59 170.21,230.56 172.63,228.45 174.99,226.28 177.25,224 179.41,221.62 181.46,219.16 183.23,216.47 184.73,213.59 186.02,210.6 187.22,207.6 188.42,204.65 189.54,201.7 190.61,198.76 191.45,195.73 192.19,192.7 192.98,189.73 193.66,186.75 194.29,183.79 194.78,180.81 195.22,177.84 195.44,174.84 195.79,171.92 196.07,169 196.31,166.1 196.46,163.21 196.7,160.35 196.9,157.49 197.03,154.64 197.08,151.79 197.04,148.94 196.92,146.1 196.77,143.27 196.55,140.44 196.23,137.63 195.84,134.83 195.37,132.05 194.81,129.28 194.24,126.53 193.59,123.79 192.86,121.07 192.05,118.38 191.16,115.71 190.2,113.07 189.21,110.44 188.14,107.84 187,105.27 185.78,102.74 184.49,100.24 183.12,97.78 181.69,95.36 180.18,92.99 178.61,90.66 176.84,88.46 174.92,86.41 172.94,84.41 170.91,82.48 168.83,80.62 166.84,78.67 164.87,76.72 162.84,74.82 160.75,72.99 158.61,71.21 156.42,69.5 154.18,67.85 151.95,66.18 149.72,64.49 147.43,62.87 145.09,61.32 142.69,59.83 140.17,58.57 137.6,57.45 134.98,56.4 132.35,55.43 129.68,54.54 126.99,53.72 124.28,52.99 121.54,52.33 118.79,51.75 116.03,51.26 113.25,50.84 110.46,50.51 107.66,50.26 104.86,50.08 102.06,49.97 99.25,49.94 96.44,50 98,94.6 99.51,94.57 101.01,94.58 102.51,94.64 104.01,94.74 105.51,94.88 107,95.07 108.49,95.3 109.97,95.58 111.44,95.89 112.9,96.26 114.35,96.66 115.79,97.1 117.21,97.59 118.62,98.12 120.01,98.69 121.39,99.3 122.75,99.95 124.08,100.65 125.39,101.38 126.68,102.16 127.95,102.97 129.19,103.81 130.41,104.69 131.6,105.6 132.77,106.55 133.91,107.53 135.02,108.54 136.1,109.59 137.15,110.66 138.18,111.76 139.18,112.89 140.14,114.04 141.07,115.23 141.95,116.44 142.8,117.69 143.61,118.95 144.39,120.25 145.12,121.56 145.82,122.89 146.47,124.24 147.09,125.62 147.67,127.01 148.21,128.41 148.7,129.83 149.16,131.27 149.57,132.71 149.94,134.17 150.27,135.64 150.56,137.12 150.8,138.6 151.01,140.09 151.16,141.59 151.28,143.09 151.35,144.59 151.37,146.1 151.36,147.61 151.3,149.11 151.2,150.61 151.05,152.11 150.86,153.61 150.63,155.1 150.36,156.58 150.05,158.05 149.7,159.52 149.31,160.98 148.88,162.43 148.41,163.86 147.89,165.28 147.28,166.67 146.68,168.05 146.04,169.42 145.37,170.78 144.66,172.11 143.9,173.43 143.11,174.72 142.28,175.98 141.42,177.23 140.52,178.46 139.58,179.65 138.59,180.81 137.57,181.93 136.51,183.02 135.42,184.08 134.3,185.1 133.14,186.09 131.96,187.05 130.75,187.97 129.52,188.86 128.26,189.71 126.97,190.52 125.66,191.29 124.33,192.03 122.98,192.72 121.61,193.38 120.22,193.99 118.81,194.57 117.39,195.1 115.95,195.59 114.5,196.04 113.03,196.44 111.56,196.81 110.07,197.13 108.58,197.41 107.08,197.64 105.57,197.83 104.06,197.98 102.54,198.08 101.02,198.14 99.5,198.15 97.98,198.12" fill="#ff0606"/><polygon points="96,255 99.18,255.06 102.36,255.03 105.54,254.91 108.71,254.7 111.88,254.41 115.04,254.02 118.18,253.54 121.31,252.97 124.43,252.31 127.52,251.56 130.59,250.72 133.64,249.81 136.67,248.83 139.68,247.76 142.65,246.6 145.59,245.35 148.48,244.01 151.33,242.57 154.13,241.03 156.89,239.42 159.59,237.73 162.25,235.96 164.85,234.1 167.38,232.15 169.85,230.12 172.26,228.03 174.61,225.86 176.86,223.6 179,221.23 181.04,218.79 182.8,216.11 184.3,213.25 185.59,210.28 186.73,207.26 187.93,204.33 189.04,201.39 190.11,198.47 190.95,195.46 191.69,192.44 192.48,189.5 193.16,186.54 193.78,183.59 194.28,180.62 194.71,177.67 194.94,174.69 195.29,171.78 195.52,168.87 195.76,165.99 195.91,163.11 196.15,160.27 196.35,157.43 196.48,154.59 196.53,151.75 196.5,148.92 196.38,146.1 196.23,143.28 196,140.48 195.7,137.68 195.31,134.9 194.83,132.13 194.28,129.38 193.72,126.64 193.07,123.91 192.34,121.21 191.54,118.53 190.65,115.88 189.7,113.25 188.71,110.64 187.65,108.05 186.51,105.5 185.3,102.98 184.02,100.49 182.66,98.05 181.23,95.64 179.74,93.28 178.17,90.97 176.42,88.78 174.5,86.74 172.54,84.75 170.52,82.83 168.45,80.98 166.48,79.04 164.51,77.1 162.49,75.21 160.42,73.39 158.29,71.62 156.11,69.92 153.88,68.28 151.67,66.62 149.44,64.94 147.17,63.33 144.84,61.79 142.45,60.31 139.95,59.06 137.39,57.94 134.79,56.9 132.16,55.93 129.51,55.05 126.84,54.23 124.14,53.5 121.42,52.85 118.69,52.28 115.94,51.78 113.17,51.37 110.4,51.04 107.62,50.79 104.83,50.61 102.05,50.5 99.25,50.48 96.46,50.53 97.99,94.16 99.5,94.13 101.02,94.15 102.54,94.2 104.05,94.31 105.56,94.45 107.07,94.64 108.56,94.87 110.06,95.15 111.54,95.47 113.01,95.83 114.47,96.24 115.92,96.69 117.36,97.18 118.78,97.71 120.19,98.28 121.57,98.9 122.94,99.56 124.28,100.26 125.61,101.01 126.9,101.79 128.18,102.61 129.43,103.46 130.66,104.35 131.87,105.27 133.05,106.22 134.19,107.21 135.31,108.23 136.4,109.29 137.46,110.37 138.5,111.48 139.51,112.61 140.48,113.78 141.42,114.97 142.31,116.19 143.17,117.45 143.98,118.72 144.76,120.03 145.51,121.35 146.21,122.69 146.87,124.06 147.49,125.44 148.08,126.84 148.62,128.26 149.12,129.69 149.58,131.14 150,132.6 150.37,134.07 150.7,135.55 150.99,137.04 151.24,138.54 151.44,140.04 151.6,141.55 151.72,143.07 151.79,144.58 151.82,146.1 151.81,147.62 151.75,149.14 151.65,150.65 151.5,152.16 151.31,153.67 151.08,155.18 150.81,156.67 150.5,158.16 150.15,159.64 149.71,161.1 149.28,162.56 148.81,164.01 148.29,165.44 147.74,166.86 147.13,168.26 146.49,169.65 145.77,170.99 145.06,172.34 144.3,173.67 143.5,174.98 142.67,176.26 141.8,177.52 140.9,178.76 139.95,179.97 138.96,181.14 137.93,182.27 136.86,183.37 135.76,184.44 134.63,185.48 133.46,186.48 132.27,187.44 131.05,188.38 129.8,189.27 128.53,190.13 127.23,190.95 125.91,191.73 124.57,192.47 123.2,193.17 121.82,193.83 120.41,194.45 118.99,195.03 117.56,195.57 116.1,196.06 114.64,196.51 113.16,196.93 111.67,197.29 110.17,197.62 108.66,197.9 107.15,198.13 105.62,198.32 104.1,198.47 102.57,198.57 101.03,198.63 99.5,198.65 97.97,198.62" fill="#ff0c0c"/><polygon points="96.01,254.5 99.18,254.56 102.35,254.54 105.51,254.42 108.67,254.21 111.82,253.91 114.97,253.53 118.1,253.05 121.22,252.49 124.31,251.83 127.39,251.08 130.45,250.24 133.49,249.34 136.51,248.36 139.49,247.29 142.45,246.14 145.38,244.9 148.26,243.57 151.09,242.12 153.88,240.6 156.62,238.99 159.32,237.31 161.97,235.55 164.55,233.7 167.07,231.76 169.53,229.74 171.93,227.65 174.27,225.5 176.5,223.24 178.64,220.89 180.67,218.45 182.43,215.79 183.92,212.94 185.15,209.95 186.34,206.98 187.54,204.07 188.65,201.15 189.71,198.24 190.55,195.24 191.29,192.24 192.03,189.29 192.76,186.36 193.38,183.43 193.87,180.48 194.31,177.54 194.54,174.57 194.89,171.68 195.12,168.78 195.36,165.91 195.51,163.04 195.75,160.21 195.96,157.38 196.09,154.55 196.13,151.73 196.1,148.91 195.98,146.1 195.84,143.3 195.61,140.5 195.3,137.71 194.92,134.94 194.45,132.19 193.9,129.45 193.33,126.71 192.69,124 191.97,121.31 191.16,118.64 190.29,116 189.33,113.38 188.35,110.78 187.29,108.21 186.16,105.66 184.95,103.15 183.68,100.68 182.32,98.24 180.9,95.85 179.41,93.5 177.85,91.19 176.11,89.01 174.2,86.98 172.24,85 170.23,83.09 168.17,81.24 166.21,79.31 164.25,77.38 162.24,75.5 160.18,73.68 158.06,71.92 155.89,70.23 153.67,68.59 151.46,66.94 149.24,65.27 146.98,63.66 144.65,62.13 142.28,60.66 139.79,59.41 137.23,58.3 134.65,57.26 132.03,56.3 129.39,55.41 126.73,54.61 124.04,53.88 121.33,53.23 118.61,52.66 115.87,52.16 113.12,51.75 110.36,51.42 107.59,51.17 104.81,50.99 102.04,50.89 99.26,50.86 96.48,50.92 97.97,93.73 99.5,93.7 101.03,93.71 102.56,93.77 104.09,93.87 105.61,94.02 107.13,94.21 108.64,94.44 110.14,94.72 111.64,95.04 113.12,95.41 114.6,95.82 116.06,96.27 117.51,96.77 118.94,97.3 120.36,97.88 121.76,98.5 123.14,99.17 124.49,99.88 125.82,100.63 127.13,101.42 128.41,102.25 129.68,103.11 130.92,104.01 132.13,104.93 133.32,105.9 134.48,106.89 135.6,107.92 136.7,108.99 137.77,110.08 138.82,111.19 139.84,112.33 140.82,113.51 141.76,114.71 142.67,115.94 143.53,117.2 144.36,118.49 145.14,119.81 145.89,121.14 146.6,122.5 147.27,123.87 147.89,125.27 148.48,126.68 149.03,128.11 149.53,129.56 150,131.01 150.42,132.49 150.8,133.97 151.13,135.46 151.42,136.96 151.67,138.47 151.88,139.99 152.04,141.51 152.16,143.04 152.24,144.57 152.26,146.1 152.25,147.63 152.19,149.16 152.09,150.69 151.95,152.22 151.76,153.74 151.52,155.25 151.26,156.77 150.9,158.26 150.55,159.75 150.16,161.23 149.73,162.71 149.26,164.17 148.75,165.62 148.14,167.04 147.54,168.45 146.89,169.85 146.22,171.24 145.46,172.58 144.69,173.92 143.89,175.23 143.06,176.53 142.19,177.81 141.28,179.06 140.33,180.29 139.29,181.43 138.25,182.57 137.17,183.69 136.06,184.76 134.92,185.81 133.74,186.81 132.54,187.79 131.31,188.73 130.05,189.63 128.77,190.49 127.46,191.32 126.13,192.11 124.77,192.85 123.4,193.56 122,194.23 120.59,194.85 119.15,195.44 117.7,195.98 116.24,196.48 114.76,196.93 113.27,197.35 111.77,197.72 110.26,198.04 108.74,198.33 107.21,198.56 105.67,198.76 104.13,198.91 102.59,199.01 101.04,199.07 99.5,199.08 97.95,199.05" fill="#ff1212"/><polygon points="96.03,254.13 99.18,254.19 102.34,254.16 105.49,254.04 108.64,253.84 111.78,253.54 114.92,253.16 118.04,252.68 121.14,252.12 124.23,251.46 127.3,250.72 130.34,249.88 133.37,248.98 136.38,248.01 139.36,246.94 142.3,245.8 145.22,244.56 148.09,243.23 150.91,241.79 153.69,240.27 156.43,238.67 159.12,236.99 161.75,235.24 164.33,233.4 166.84,231.46 169.29,229.45 171.68,227.37 174.01,225.22 176.24,222.98 178.36,220.63 180.39,218.21 182.14,215.55 183.63,212.72 184.91,209.77 186.05,206.78 187.24,203.88 188.35,200.96 189.42,198.07 190.25,195.08 190.94,192.07 191.73,189.15 192.46,186.23 193.08,183.31 193.57,180.37 193.96,177.42 194.19,174.47 194.54,171.58 194.82,168.71 195.06,165.84 195.21,162.99 195.46,160.16 195.66,157.35 195.79,154.53 195.79,151.71 195.75,148.9 195.64,146.1 195.49,143.31 195.27,140.52 194.96,137.74 194.58,134.98 194.11,132.23 193.56,129.51 193,126.78 192.36,124.08 191.64,121.4 190.84,118.74 189.96,116.11 189.01,113.5 188.04,110.91 186.98,108.34 185.85,105.81 184.65,103.31 183.38,100.84 182.03,98.42 180.61,96.03 179.13,93.68 177.57,91.39 175.84,89.22 173.94,87.19 171.99,85.21 169.98,83.31 167.93,81.47 165.98,79.54 164.03,77.62 162.02,75.75 159.96,73.93 157.85,72.18 155.69,70.49 153.48,68.87 151.27,67.22 149.07,65.56 146.81,63.95 144.5,62.43 142.13,60.96 139.65,59.72 137.1,58.61 134.52,57.58 131.92,56.62 129.29,55.74 126.63,54.93 123.95,54.21 121.26,53.56 118.54,52.99 115.81,52.5 113.07,52.09 110.32,51.76 107.56,51.51 104.8,51.33 102.03,51.23 99.26,51.2 96.49,51.26 97.96,93.29 99.5,93.26 101.04,93.27 102.58,93.33 104.12,93.44 105.66,93.58 107.19,93.78 108.71,94.01 110.23,94.29 111.74,94.62 113.23,94.99 114.72,95.4 116.2,95.86 117.66,96.36 119.1,96.9 120.53,97.48 121.94,98.1 123.33,98.77 124.69,99.5 126.04,100.26 127.35,101.06 128.65,101.89 129.92,102.76 131.17,103.66 132.4,104.6 133.59,105.57 134.76,106.57 135.9,107.61 137,108.68 138.08,109.78 139.14,110.9 140.17,112.05 141.16,113.24 142.11,114.45 143.03,115.69 143.9,116.96 144.73,118.26 145.52,119.59 146.27,120.93 146.99,122.3 147.66,123.69 148.29,125.1 148.89,126.52 149.44,127.96 149.95,129.42 150.42,130.89 150.84,132.37 151.22,133.87 151.56,135.37 151.85,136.89 152.11,138.41 152.32,139.94 152.48,141.47 152.6,143.01 152.68,144.56 152.71,146.1 152.7,147.64 152.64,149.19 152.54,150.73 152.39,152.27 152.2,153.8 151.97,155.33 151.66,156.85 151.35,158.36 151,159.87 150.61,161.37 150.19,162.86 149.66,164.32 149.15,165.78 148.59,167.23 147.99,168.66 147.29,170.05 146.62,171.45 145.9,172.83 145.09,174.16 144.29,175.49 143.45,176.81 142.57,178.1 141.66,179.37 140.66,180.56 139.66,181.76 138.61,182.92 137.52,184.04 136.4,185.13 135.25,186.18 134.07,187.2 132.85,188.18 131.61,189.13 130.34,190.04 129.04,190.91 127.72,191.75 126.38,192.54 125.01,193.3 123.62,194.01 122.21,194.68 120.78,195.31 119.34,195.9 117.87,196.45 116.39,196.95 114.9,197.41 113.4,197.83 111.88,198.2 110.35,198.53 108.82,198.82 107.28,199.06 105.73,199.25 104.17,199.4 102.62,199.51 101.06,199.57 99.49,199.58 97.93,199.55" fill="#ff1818"/><polygon points="96.04,253.75 99.18,253.82 102.33,253.79 105.47,253.67 108.61,253.46 111.74,253.17 114.86,252.79 117.97,252.32 121.07,251.75 124.15,251.1 127.2,250.35 130.24,249.52 133.26,248.63 136.25,247.65 139.22,246.6 142.16,245.45 145.06,244.22 147.93,242.89 150.74,241.46 153.51,239.95 156.23,238.35 158.91,236.68 161.54,234.93 164.11,233.09 166.61,231.16 169.05,229.16 171.43,227.09 173.75,224.95 175.97,222.71 178.09,220.37 180.12,217.96 181.86,215.31 183.34,212.49 184.62,209.56 185.76,206.57 186.95,203.68 188.05,200.78 189.12,197.89 189.95,194.92 190.64,191.92 191.43,189.01 192.16,186.1 192.73,183.17 193.22,180.24 193.66,177.32 193.89,174.38 194.24,171.5 194.47,168.62 194.71,165.77 194.87,162.92 195.11,160.11 195.31,157.3 195.44,154.5 195.49,151.69 195.46,148.89 195.34,146.1 195.2,143.31 194.97,140.54 194.67,137.77 194.28,135.02 193.82,132.28 193.28,129.56 192.71,126.84 192.07,124.15 191.36,121.47 190.56,118.82 189.69,116.2 188.74,113.6 187.77,111.01 186.71,108.46 185.59,105.93 184.39,103.44 183.12,100.98 181.78,98.56 180.37,96.18 178.88,93.85 177.33,91.55 175.6,89.39 173.71,87.36 171.77,85.4 169.77,83.5 167.73,81.66 165.78,79.75 163.83,77.82 161.84,75.96 159.78,74.15 157.68,72.41 155.52,70.72 153.32,69.1 151.12,67.46 148.92,65.8 146.67,64.21 144.36,62.68 142,61.22 139.52,59.99 136.99,58.88 134.42,57.85 131.82,56.89 129.2,56.01 126.55,55.21 123.88,54.49 121.19,53.84 118.49,53.27 115.77,52.79 113.03,52.38 110.29,52.05 107.54,51.8 104.78,51.62 102.02,51.52 99.26,51.49 96.5,51.55 97.94,92.86 99.5,92.83 101.05,92.84 102.61,92.9 104.16,93 105.71,93.15 107.25,93.34 108.79,93.58 110.31,93.87 111.84,94.19 113.35,94.57 114.84,94.98 116.33,95.44 117.8,95.94 119.26,96.49 120.7,97.08 122.12,97.71 123.53,98.38 124.9,99.11 126.25,99.88 127.58,100.69 128.88,101.53 130.16,102.41 131.43,103.32 132.66,104.26 133.86,105.24 135.04,106.25 136.19,107.3 137.3,108.38 138.39,109.49 139.46,110.62 140.49,111.78 141.5,112.97 142.46,114.18 143.39,115.44 144.26,116.72 145.1,118.03 145.9,119.37 146.66,120.73 147.38,122.1 148.06,123.5 148.7,124.92 149.29,126.36 149.85,127.81 150.36,129.28 150.83,130.76 151.26,132.26 151.65,133.77 151.99,135.28 152.29,136.81 152.54,138.35 152.76,139.89 152.92,141.44 153.05,142.99 153.12,144.54 153.15,146.1 153.14,147.66 153.09,149.22 152.99,150.77 152.84,152.32 152.65,153.87 152.42,155.41 152.11,156.94 151.8,158.47 151.45,159.99 151.06,161.5 150.59,163 150.12,164.49 149.6,165.96 148.99,167.41 148.39,168.85 147.74,170.28 147.02,171.67 146.3,173.07 145.48,174.4 144.68,175.75 143.84,177.08 142.96,178.39 142,179.63 141.04,180.88 140.03,182.09 138.97,183.26 137.88,184.39 136.75,185.49 135.58,186.56 134.39,187.58 133.16,188.58 131.91,189.53 130.63,190.45 129.32,191.33 127.98,192.17 126.63,192.98 125.25,193.74 123.84,194.46 122.42,195.14 120.98,195.77 119.52,196.37 118.04,196.92 116.55,197.42 115.04,197.89 113.52,198.31 111.99,198.69 110.45,199.02 108.9,199.31 107.35,199.55 105.78,199.75 104.21,199.9 102.64,200 101.07,200.06 99.49,200.08 97.92,200.05" fill="#ff1e1e"/><polygon points="96.05,253.38 99.19,253.44 102.32,253.42 105.45,253.3 108.58,253.09 111.7,252.8 114.81,252.42 117.91,251.95 120.99,251.39 124.06,250.73 127.11,249.99 130.13,249.16 133.14,248.27 136.13,247.3 139.08,246.25 142.01,245.11 144.9,243.88 147.79,242.61 150.59,241.19 153.35,239.68 156.07,238.09 158.74,236.42 161.36,234.67 163.92,232.84 166.41,230.92 168.85,228.92 171.22,226.86 173.54,224.72 175.71,222.44 177.82,220.12 179.84,217.71 181.58,215.07 183.05,212.26 184.33,209.34 185.51,206.4 186.65,203.49 187.76,200.6 188.82,197.72 189.6,194.73 190.34,191.76 191.13,188.86 191.81,185.95 192.43,183.05 192.92,180.13 193.31,177.21 193.54,174.27 193.89,171.41 194.17,168.55 194.41,165.71 194.52,162.86 194.76,160.06 194.96,157.26 195.09,154.47 195.14,151.67 195.11,148.88 195,146.1 194.85,143.32 194.63,140.56 194.33,137.8 193.94,135.06 193.48,132.33 192.94,129.62 192.38,126.91 191.74,124.23 191.03,121.56 190.23,118.92 189.36,116.31 188.42,113.72 187.45,111.14 186.4,108.59 185.28,106.07 184.09,103.59 182.82,101.14 181.48,98.73 180.08,96.36 178.6,94.03 177.06,91.75 175.33,89.6 173.45,87.57 171.51,85.62 169.52,83.72 167.49,81.89 165.54,79.98 163.61,78.07 161.62,76.21 159.57,74.41 157.47,72.67 155.32,70.99 153.13,69.37 150.94,67.74 148.74,66.09 146.5,64.5 144.2,62.98 141.85,61.53 139.38,60.3 136.85,59.2 134.29,58.17 131.71,57.21 129.09,56.34 126.45,55.54 123.79,54.82 121.12,54.17 118.42,53.61 115.71,53.12 112.99,52.71 110.25,52.39 107.51,52.14 104.76,51.96 102.01,51.86 99.26,51.83 96.51,51.89 97.93,92.42 99.49,92.39 101.06,92.4 102.63,92.46 104.19,92.57 105.75,92.72 107.31,92.91 108.86,93.15 110.4,93.44 111.93,93.77 113.46,94.14 114.97,94.56 116.47,95.03 117.95,95.53 119.42,96.08 120.87,96.67 122.31,97.31 123.72,97.99 125.1,98.73 126.47,99.5 127.8,100.32 129.12,101.17 130.41,102.06 131.68,102.97 132.92,103.93 134.14,104.91 135.32,105.94 136.48,106.99 137.6,108.08 138.7,109.2 139.78,110.33 140.82,111.5 141.84,112.7 142.81,113.92 143.74,115.18 144.63,116.48 145.47,117.8 146.28,119.15 147.04,120.52 147.77,121.91 148.45,123.32 149.1,124.75 149.7,126.2 150.26,127.66 150.78,129.14 151.25,130.64 151.69,132.14 152.07,133.66 152.42,135.19 152.72,136.73 152.98,138.28 153.19,139.84 153.36,141.4 153.49,142.96 153.57,144.53 153.6,146.1 153.59,147.67 153.54,149.24 153.44,150.81 153.29,152.37 153.1,153.94 152.82,155.48 152.56,157.03 152.25,158.58 151.9,160.11 151.51,161.64 151.04,163.15 150.57,164.65 150,166.12 149.44,167.6 148.79,169.04 148.14,170.48 147.42,171.89 146.7,173.3 145.93,174.68 145.07,176.01 144.22,177.35 143.35,178.68 142.38,179.94 141.42,181.2 140.4,182.43 139.33,183.6 138.23,184.75 137.09,185.86 135.91,186.93 134.71,187.97 133.47,188.97 132.21,189.94 130.91,190.86 129.59,191.75 128.25,192.6 126.88,193.41 125.48,194.18 124.07,194.91 122.63,195.59 121.17,196.23 119.7,196.83 118.21,197.39 116.7,197.9 115.18,198.37 113.65,198.79 112.11,199.17 110.55,199.51 108.99,199.8 107.42,200.04 105.84,200.24 104.26,200.39 102.67,200.5 101.08,200.56 99.49,200.58 97.9,200.54" fill="#ff2424"/><polygon points="96.06,253.07 99.19,253.13 102.31,253.11 105.44,252.99 108.55,252.78 111.67,252.49 114.77,252.11 117.86,251.64 120.93,251.08 123.99,250.43 127.03,249.69 130.05,248.86 133.04,247.97 136.02,247.01 138.97,245.96 141.89,244.82 144.77,243.59 147.62,242.28 150.41,240.85 153.17,239.35 155.87,237.77 158.53,236.1 161.14,234.36 163.7,232.54 166.18,230.62 168.61,228.63 170.98,226.57 173.28,224.45 175.49,222.22 177.59,219.9 179.6,217.5 181.29,214.83 182.77,212.03 184.04,209.12 185.22,206.2 186.36,203.29 187.46,200.41 188.52,197.55 189.3,194.57 190.04,191.61 190.83,188.72 191.5,185.82 192.12,182.92 192.57,180 193.01,177.11 193.24,174.18 193.54,171.31 193.82,168.47 194.06,165.64 194.22,162.81 194.46,160.02 194.66,157.23 194.79,154.44 194.84,151.66 194.76,148.87 194.65,146.1 194.51,143.33 194.29,140.58 193.98,137.83 193.6,135.1 193.14,132.38 192.6,129.68 192.05,126.98 191.41,124.31 190.7,121.65 189.91,119.02 189.04,116.41 188.1,113.83 187.13,111.27 186.09,108.73 184.97,106.22 183.78,103.74 182.52,101.3 181.19,98.9 179.79,96.54 178.32,94.22 176.78,91.94 175.06,89.8 173.18,87.78 171.26,85.83 169.27,83.94 167.25,82.12 165.31,80.21 163.38,78.31 161.4,76.46 159.36,74.66 157.27,72.93 155.13,71.26 152.94,69.65 150.75,68.02 148.57,66.37 146.33,64.79 144.04,63.28 141.7,61.83 139.24,60.61 136.72,59.51 134.17,58.48 131.59,57.53 128.99,56.66 126.36,55.86 123.71,55.14 121.04,54.5 118.35,53.94 115.65,53.45 112.94,53.05 110.21,52.72 107.48,52.48 104.75,52.3 102.01,52.19 99.26,52.17 96.52,52.23 97.91,91.99 99.49,91.95 101.07,91.97 102.65,92.03 104.23,92.13 105.8,92.28 107.37,92.48 108.93,92.72 110.49,93.01 112.03,93.34 113.57,93.72 115.09,94.14 116.6,94.61 118.1,95.12 119.58,95.67 121.04,96.27 122.49,96.91 123.91,97.6 125.31,98.34 126.68,99.13 128.03,99.95 129.35,100.82 130.65,101.71 131.93,102.63 133.19,103.59 134.41,104.59 135.61,105.62 136.77,106.68 137.9,107.78 139.01,108.9 140.1,110.05 141.15,111.22 142.18,112.43 143.16,113.66 144.1,114.93 144.99,116.24 145.84,117.57 146.65,118.93 147.43,120.31 148.16,121.71 148.85,123.13 149.5,124.58 150.1,126.04 150.67,127.51 151.19,129 151.67,130.51 152.11,132.03 152.5,133.56 152.85,135.11 153.15,136.66 153.41,138.22 153.63,139.78 153.8,141.36 153.93,142.94 154.01,144.52 154.04,146.1 154.04,147.68 153.98,149.27 153.88,150.85 153.74,152.43 153.5,153.99 153.26,155.56 153,157.13 152.7,158.68 152.35,160.23 151.91,161.76 151.49,163.3 150.97,164.8 150.46,166.31 149.85,167.78 149.24,169.25 148.54,170.68 147.87,172.13 147.1,173.53 146.32,174.92 145.46,176.27 144.61,177.63 143.73,178.97 142.76,180.24 141.8,181.52 140.77,182.76 139.7,183.95 138.54,185.06 137.39,186.18 136.2,187.26 134.99,188.31 133.74,189.32 132.47,190.29 131.16,191.23 129.83,192.12 128.47,192.98 127.09,193.79 125.69,194.57 124.26,195.3 122.81,195.99 121.35,196.64 119.88,197.3 118.38,197.86 116.86,198.37 115.32,198.84 113.78,199.27 112.22,199.66 110.65,200 109.07,200.29 107.49,200.54 105.89,200.74 104.3,200.89 102.69,201 101.09,201.06 99.49,201.07 97.88,201.04" fill="#ff2a2a"/><polygon points="96.08,252.7 99.19,252.76 102.3,252.73 105.42,252.61 108.52,252.41 111.62,252.12 114.72,251.74 117.79,251.27 120.86,250.72 123.91,250.07 126.93,249.33 129.94,248.51 132.93,247.62 135.89,246.66 138.83,245.61 141.74,244.47 144.62,243.25 147.45,241.94 150.24,240.52 152.98,239.02 155.68,237.44 158.33,235.79 160.93,234.05 163.47,232.24 165.95,230.33 168.37,228.34 170.73,226.29 173.02,224.17 175.22,221.96 177.32,219.64 179.33,217.25 181.06,214.63 182.48,211.8 183.75,208.91 184.93,205.99 186.07,203.1 187.16,200.23 188.22,197.38 189,194.41 189.74,191.46 190.48,188.56 191.2,185.69 191.77,182.78 192.27,179.89 192.7,177.01 192.89,174.08 193.24,171.23 193.52,168.4 193.77,165.57 193.87,162.75 194.11,159.97 194.31,157.19 194.45,154.41 194.5,151.64 194.46,148.86 194.35,146.1 194.21,143.34 193.99,140.59 193.69,137.86 193.31,135.13 192.85,132.42 192.32,129.73 191.76,127.04 191.13,124.37 190.42,121.73 189.63,119.1 188.77,116.51 187.83,113.93 186.86,111.37 185.82,108.84 184.71,106.34 183.52,103.87 182.27,101.44 180.94,99.05 179.54,96.69 178.07,94.38 176.54,92.11 174.83,89.97 172.96,87.96 171.04,86.02 169.06,84.13 167.04,82.31 165.11,80.42 163.19,78.51 161.21,76.67 159.18,74.88 157.09,73.15 154.96,71.49 152.77,69.88 150.6,68.26 148.42,66.62 146.19,65.04 143.9,63.53 141.57,62.09 139.12,60.87 136.6,59.78 134.06,58.76 131.49,57.81 128.9,56.94 126.28,56.14 123.63,55.43 120.97,54.79 118.29,54.22 115.6,53.74 112.9,53.34 110.18,53.01 107.46,52.77 104.73,52.59 102,52.49 99.27,52.46 96.53,52.52 97.89,91.5 99.49,91.47 101.08,91.48 102.68,91.55 104.27,91.65 105.86,91.8 107.44,92 109.01,92.25 110.58,92.54 112.14,92.87 113.69,93.25 115.23,93.68 116.75,94.15 118.26,94.66 119.76,95.22 121.23,95.82 122.69,96.47 124.13,97.16 125.54,97.92 126.92,98.71 128.28,99.54 129.61,100.42 130.92,101.32 132.22,102.25 133.48,103.22 134.71,104.22 135.92,105.26 137.09,106.34 138.24,107.44 139.35,108.58 140.45,109.73 141.52,110.91 142.55,112.13 143.55,113.37 144.5,114.65 145.4,115.97 146.26,117.32 147.07,118.69 147.85,120.08 148.59,121.49 149.29,122.93 149.94,124.38 150.55,125.86 151.12,127.35 151.65,128.85 152.14,130.37 152.58,131.9 152.97,133.45 153.32,135.01 153.63,136.57 153.9,138.15 154.12,139.73 154.29,141.32 154.42,142.91 154.5,144.5 154.54,146.1 154.53,147.7 154.48,149.3 154.38,150.89 154.18,152.48 153.99,154.07 153.76,155.65 153.5,157.23 153.15,158.79 152.8,160.36 152.41,161.91 151.95,163.45 151.42,164.96 150.91,166.49 150.3,167.97 149.64,169.44 148.94,170.88 148.26,172.34 147.49,173.76 146.72,175.17 145.86,176.53 145,177.9 144.07,179.22 143.15,180.55 142.17,181.84 141.1,183.05 140.01,184.25 138.89,185.41 137.73,186.54 136.54,187.64 135.31,188.69 134.05,189.71 132.77,190.69 131.45,191.64 130.11,192.54 128.74,193.4 127.34,194.23 125.92,195.01 124.49,195.75 123.02,196.44 121.54,197.1 120.04,197.7 118.53,198.27 116.99,198.79 115.45,199.26 113.89,199.7 112.32,200.08 110.74,200.42 109.15,200.72 107.55,200.97 105.94,201.17 104.33,201.32 102.72,201.43 101.1,201.49 99.48,201.51 97.87,201.48" fill="#ff3030"/><polygon points="96.09,252.32 99.19,252.39 102.3,252.36 105.4,252.24 108.49,252.04 111.58,251.75 114.66,251.37 117.73,250.91 120.79,250.35 123.82,249.7 126.84,248.97 129.83,248.15 132.81,247.26 135.77,246.3 138.7,245.26 141.59,244.13 144.46,242.91 147.28,241.6 150.06,240.19 152.79,238.7 155.48,237.12 158.12,235.47 160.71,233.74 163.25,231.93 165.72,230.03 168.13,228.06 170.48,226.01 172.77,223.9 174.96,221.69 177.05,219.39 179.05,217 180.77,214.4 182.24,211.61 183.46,208.69 184.64,205.79 185.77,202.91 186.87,200.05 187.92,197.2 188.71,194.24 189.44,191.31 190.18,188.42 190.85,185.54 191.42,182.64 191.86,179.74 192.3,176.87 192.49,173.96 192.79,171.11 193.08,168.29 193.32,165.48 193.42,162.67 193.67,159.9 193.87,157.14 194,154.37 194,151.61 193.97,148.85 193.86,146.1 193.72,143.36 193.5,140.62 193.2,137.9 192.83,135.19 192.37,132.49 191.84,129.81 191.28,127.14 190.65,124.49 189.95,121.85 189.16,119.24 188.31,116.66 187.37,114.1 186.41,111.55 185.38,109.03 184.27,106.55 183.09,104.09 181.84,101.67 180.52,99.29 179.13,96.95 177.67,94.65 176.14,92.39 174.44,90.26 172.58,88.26 170.67,86.33 168.71,84.45 166.7,82.64 164.78,80.75 162.86,78.86 160.89,77.02 158.87,75.25 156.8,73.53 154.67,71.87 152.5,70.27 150.34,68.66 148.17,67.03 145.95,65.46 143.67,63.96 141.35,62.53 138.91,61.31 136.41,60.22 133.88,59.21 131.33,58.27 128.74,57.4 126.14,56.61 123.51,55.9 120.86,55.26 118.2,54.7 115.52,54.22 112.83,53.82 110.13,53.49 107.42,53.25 104.7,53.07 101.99,52.97 99.27,52.94 96.55,53 97.87,90.97 99.48,90.94 101.1,90.95 102.7,91.01 104.31,91.12 105.91,91.27 107.51,91.47 109.1,91.72 110.69,92.01 112.26,92.35 113.83,92.74 115.38,93.17 116.92,93.64 118.44,94.16 119.95,94.72 121.44,95.33 122.92,95.98 124.37,96.69 125.79,97.45 127.18,98.25 128.55,99.09 129.9,99.98 131.22,100.89 132.53,101.83 133.8,102.81 135.05,103.82 136.26,104.87 137.45,105.96 138.6,107.07 139.73,108.22 140.84,109.38 141.92,110.57 142.97,111.8 143.98,113.05 144.94,114.35 145.84,115.68 146.71,117.04 147.54,118.42 148.32,119.82 149.07,121.25 149.77,122.7 150.43,124.17 151.05,125.66 151.62,127.16 152.16,128.68 152.65,130.22 153.09,131.77 153.49,133.33 153.85,134.9 154.16,136.48 154.43,138.07 154.65,139.67 154.83,141.27 154.96,142.88 155.04,144.49 155.08,146.1 155.08,147.71 155.02,149.33 154.93,150.94 154.78,152.55 154.54,154.15 154.31,155.75 154.05,157.34 153.7,158.92 153.35,160.5 152.91,162.06 152.5,163.63 151.98,165.17 151.41,166.69 150.8,168.19 150.14,169.67 149.49,171.16 148.76,172.61 147.99,174.05 147.16,175.45 146.35,176.86 145.44,178.21 144.51,179.54 143.58,180.89 142.55,182.16 141.52,183.42 140.42,184.64 139.29,185.81 138.12,186.95 136.91,188.06 135.67,189.12 134.4,190.16 133.06,191.1 131.77,192.1 130.41,193.01 129.03,193.88 127.62,194.72 126.19,195.51 124.74,196.25 123.26,196.96 121.76,197.61 120.25,198.23 118.72,198.8 117.17,199.32 115.61,199.8 114.03,200.24 112.44,200.63 110.85,200.97 109.24,201.27 107.62,201.52 106,201.73 104.38,201.88 102.75,201.99 101.11,202.05 99.48,202.07 97.85,202.03" fill="#ff3636"/><polygon points="96.11,251.89 99.2,251.95 102.29,251.92 105.37,251.81 108.46,251.6 111.53,251.32 114.6,250.94 117.66,250.48 120.7,249.92 123.72,249.28 126.73,248.55 129.71,247.73 132.68,246.85 135.62,245.89 138.54,244.85 141.42,243.73 144.28,242.51 147.09,241.21 149.85,239.8 152.57,238.32 155.25,236.75 157.88,235.11 160.46,233.38 162.99,231.58 165.45,229.68 167.85,227.72 170.19,225.68 172.47,223.58 174.65,221.38 176.73,219.08 178.72,216.71 180.39,214.08 181.86,211.31 183.08,208.4 184.25,205.51 185.38,202.65 186.42,199.77 187.43,196.91 188.26,194 188.94,191.06 189.68,188.18 190.35,185.32 190.92,182.44 191.36,179.56 191.75,176.69 191.94,173.79 192.29,170.98 192.53,168.16 192.77,165.37 192.88,162.57 193.12,159.82 193.32,157.07 193.45,154.32 193.45,151.57 193.42,148.83 193.32,146.1 193.18,143.37 192.96,140.65 192.66,137.95 192.29,135.25 191.84,132.57 191.31,129.9 190.76,127.25 190.13,124.61 189.43,121.99 188.65,119.4 187.8,116.83 186.87,114.28 185.92,111.75 184.89,109.25 183.79,106.77 182.61,104.33 181.37,101.93 180.06,99.56 178.67,97.23 177.22,94.94 175.7,92.7 174.01,90.58 172.17,88.59 170.27,86.67 168.32,84.8 166.32,83 164.41,81.12 162.51,79.24 160.55,77.41 158.54,75.65 156.48,73.94 154.36,72.29 152.2,70.7 150.05,69.1 147.9,67.48 145.69,65.92 143.42,64.43 141.11,63.01 138.69,61.8 136.2,60.72 133.69,59.71 131.15,58.77 128.58,57.91 125.99,57.12 123.37,56.41 120.74,55.78 118.09,55.22 115.43,54.74 112.75,54.34 110.07,54.02 107.38,53.78 104.68,53.6 101.97,53.5 99.27,53.48 96.57,53.53 97.86,90.44 99.48,90.41 101.11,90.42 102.73,90.48 104.35,90.59 105.97,90.74 107.59,90.95 109.19,91.19 110.79,91.49 112.38,91.83 113.96,92.22 115.53,92.65 117.08,93.13 118.62,93.66 120.15,94.23 121.65,94.84 123.14,95.5 124.61,96.21 126.04,96.98 127.45,97.79 128.83,98.64 130.18,99.54 131.52,100.46 132.84,101.41 134.12,102.4 135.38,103.42 136.61,104.48 137.81,105.58 138.97,106.71 140.11,107.86 141.23,109.03 142.33,110.23 143.38,111.47 144.4,112.73 145.37,114.04 146.29,115.38 147.16,116.75 148,118.15 148.79,119.57 149.54,121.01 150.25,122.48 150.92,123.96 151.54,125.46 152.12,126.98 152.66,128.51 153.16,130.06 153.61,131.63 154.02,133.2 154.37,134.79 154.69,136.39 154.96,137.99 155.19,139.6 155.37,141.22 155.5,142.84 155.59,144.47 155.62,146.1 155.62,147.73 155.57,149.36 155.47,150.99 155.33,152.61 155.09,154.23 154.85,155.84 154.6,157.46 154.24,159.05 153.9,160.65 153.46,162.23 153.05,163.81 152.53,165.37 151.97,166.91 151.35,168.43 150.69,169.93 149.99,171.41 149.26,172.88 148.49,174.33 147.66,175.75 146.84,177.18 145.93,178.55 144.99,179.9 144.06,181.27 143.02,182.56 141.98,183.84 140.83,185.02 139.68,186.21 138.5,187.37 137.28,188.48 136.03,189.56 134.75,190.6 133.44,191.6 132.09,192.56 130.72,193.48 129.32,194.37 127.9,195.21 126.46,196 124.99,196.76 123.5,197.47 121.98,198.13 120.45,198.75 118.91,199.33 117.34,199.85 115.78,200.4 114.19,200.84 112.58,201.24 110.97,201.58 109.34,201.89 107.71,202.14 106.07,202.34 104.43,202.5 102.78,202.61 101.13,202.68 99.48,202.69 97.83,202.66" fill="#ff3c3c"/><polygon points="96.13,251.27 99.2,251.33 102.27,251.3 105.34,251.19 108.41,250.98 111.47,250.7 114.52,250.33 117.55,249.86 120.58,249.31 123.58,248.67 126.57,247.95 129.54,247.13 132.48,246.26 135.41,245.31 138.31,244.27 141.18,243.15 144.04,242 146.84,240.71 149.59,239.31 152.29,237.83 154.96,236.27 157.57,234.63 160.14,232.92 162.65,231.13 165.1,229.24 167.48,227.29 169.81,225.26 172.08,223.17 174.21,220.94 176.28,218.65 178.26,216.3 179.97,213.72 181.38,210.93 182.6,208.04 183.76,205.17 184.89,202.32 185.93,199.46 186.93,196.63 187.71,193.7 188.4,190.78 189.13,187.93 189.8,185.08 190.36,182.22 190.81,179.35 191.2,176.5 191.39,173.62 191.74,170.83 191.98,168.03 192.22,165.25 192.33,162.48 192.57,159.74 192.77,157.01 192.91,154.28 192.91,151.54 192.88,148.82 192.77,146.1 192.64,143.39 192.42,140.69 192.13,137.99 191.76,135.31 191.31,132.65 190.78,130 190.23,127.36 189.61,124.73 188.91,122.13 188.14,119.55 187.29,117 186.37,114.47 185.42,111.95 184.4,109.46 183.3,107 182.14,104.57 180.9,102.18 179.59,99.83 178.22,97.51 176.78,95.24 175.27,93.01 173.59,90.9 171.75,88.92 169.86,87.01 167.93,85.15 165.94,83.36 164.04,81.49 162.15,79.62 160.2,77.8 158.2,76.05 156.15,74.35 154.05,72.71 151.91,71.13 149.76,69.53 147.62,67.93 145.42,66.38 143.17,64.9 140.88,63.49 138.46,62.29 135.99,61.21 133.49,60.2 130.97,59.27 128.41,58.42 125.84,57.63 123.24,56.93 120.62,56.3 117.99,55.75 115.34,55.27 112.68,54.87 110.01,54.55 107.33,54.31 104.65,54.14 101.96,54.03 99.27,54.01 96.59,54.06 97.84,89.86 99.48,89.82 101.12,89.84 102.76,89.9 104.4,90.01 106.04,90.17 107.67,90.37 109.29,90.62 110.91,90.92 112.51,91.26 114.11,91.66 115.69,92.09 117.27,92.58 118.82,93.11 120.36,93.68 121.88,94.3 123.39,94.97 124.87,95.68 126.31,96.47 127.73,97.29 129.13,98.15 130.5,99.06 131.85,99.99 133.17,100.95 134.48,101.95 135.75,102.98 136.99,104.06 138.19,105.16 139.37,106.3 140.52,107.47 141.66,108.65 142.77,109.86 143.84,111.11 144.87,112.38 145.85,113.7 146.77,115.06 147.66,116.45 148.5,117.86 149.31,119.29 150.06,120.75 150.78,122.23 151.46,123.73 152.08,125.25 152.67,126.78 153.22,128.33 153.72,129.9 154.17,131.48 154.58,133.07 154.95,134.67 155.26,136.28 155.54,137.91 155.77,139.53 155.95,141.17 156.09,142.81 156.18,144.45 156.22,146.1 156.17,147.75 156.12,149.39 156.02,151.04 155.88,152.68 155.63,154.31 155.4,155.94 155.15,157.57 154.79,159.18 154.45,160.8 154.01,162.39 153.55,163.98 153.03,165.55 152.47,167.11 151.86,168.65 151.19,170.16 150.49,171.66 149.76,173.15 148.99,174.62 148.15,176.06 147.28,177.47 146.41,178.89 145.47,180.27 144.49,181.61 143.5,182.96 142.4,184.21 141.28,185.45 140.13,186.66 138.93,187.82 137.7,188.95 136.43,190.04 135.14,191.09 133.81,192.11 132.45,193.08 131.06,194.01 129.65,194.9 128.21,195.75 126.75,196.56 125.27,197.32 123.76,198.04 122.23,198.71 120.68,199.33 119.12,199.91 117.53,200.45 115.94,200.94 114.33,201.38 112.71,201.78 111.08,202.13 109.44,202.44 107.79,202.69 106.13,202.9 104.47,203.06 102.81,203.17 101.14,203.23 99.47,203.25 97.81,203.22" fill="#ff4242"/><polygon points="96.15,250.71 99.2,250.77 102.26,250.74 105.31,250.63 108.36,250.43 111.4,250.14 114.44,249.77 117.46,249.31 120.47,248.76 123.46,248.13 126.43,247.4 129.38,246.59 132.31,245.72 135.22,244.78 138.1,243.75 140.96,242.63 143.78,241.44 146.56,240.15 149.29,238.76 151.98,237.28 154.63,235.73 157.23,234.11 159.78,232.41 162.28,230.62 164.71,228.75 167.08,226.8 169.4,224.79 171.65,222.71 173.81,220.54 175.87,218.27 177.84,215.92 179.5,213.32 180.9,210.55 182.16,207.71 183.28,204.83 184.4,202 185.44,199.16 186.43,196.34 187.21,193.43 187.9,190.53 188.63,187.69 189.29,184.86 189.86,182.02 190.3,179.17 190.69,176.34 190.89,173.47 191.19,170.68 191.48,167.91 191.67,165.14 191.78,162.38 192.02,159.66 192.23,156.94 192.36,154.23 192.36,151.51 192.33,148.8 192.23,146.1 192.09,143.4 191.88,140.72 191.59,138.04 191.22,135.38 190.77,132.73 190.25,130.09 189.71,127.47 189.09,124.86 188.4,122.27 187.63,119.7 186.79,117.16 185.87,114.65 184.93,112.15 183.91,109.67 182.82,107.23 181.66,104.81 180.43,102.44 179.13,100.1 177.76,97.79 176.33,95.53 174.83,93.31 173.16,91.22 171.34,89.25 169.46,87.35 167.54,85.5 165.56,83.71 163.68,81.86 161.79,80 159.86,78.19 157.87,76.45 155.83,74.76 153.74,73.13 151.61,71.56 149.48,69.97 147.35,68.37 145.16,66.84 142.92,65.37 140.64,63.96 138.24,62.77 135.78,61.7 133.3,60.7 130.79,59.78 128.25,58.92 125.69,58.15 123.1,57.44 120.5,56.82 117.88,56.27 115.25,55.8 112.61,55.4 109.95,55.08 107.29,54.84 104.62,54.67 101.95,54.57 99.28,54.54 96.6,54.6 97.82,89.33 99.48,89.29 101.13,89.31 102.79,89.37 104.45,89.48 106.1,89.64 107.74,89.84 109.38,90.1 111.01,90.4 112.64,90.74 114.25,91.14 115.85,91.58 117.43,92.07 119,92.61 120.56,93.19 122.09,93.81 123.61,94.48 125.1,95.21 126.56,96 128,96.83 129.4,97.71 130.78,98.62 132.14,99.56 133.49,100.53 134.8,101.54 136.08,102.58 137.33,103.66 138.55,104.78 139.74,105.93 140.9,107.11 142.05,108.3 143.17,109.52 144.25,110.78 145.3,112.06 146.29,113.39 147.22,114.77 148.11,116.17 148.97,117.59 149.77,119.04 150.54,120.51 151.27,122 151.95,123.52 152.58,125.05 153.17,126.6 153.72,128.16 154.23,129.74 154.69,131.34 155.1,132.94 155.47,134.56 155.79,136.19 156.07,137.83 156.31,139.47 156.49,141.12 156.63,142.78 156.72,144.44 156.76,146.1 156.76,147.76 156.66,149.42 156.57,151.08 156.42,152.74 156.23,154.4 155.95,156.04 155.69,157.68 155.34,159.31 155,160.95 154.56,162.56 154.11,164.17 153.59,165.75 153.02,167.33 152.41,168.89 151.74,170.42 150.99,171.92 150.26,173.42 149.48,174.91 148.64,176.36 147.77,177.79 146.9,179.24 145.95,180.63 144.97,181.99 143.92,183.31 142.86,184.63 141.73,185.88 140.57,187.1 139.36,188.28 138.07,189.37 136.79,190.47 135.48,191.54 134.14,192.56 132.77,193.54 131.37,194.48 129.95,195.38 128.49,196.24 127.02,197.05 125.54,197.88 124.02,198.6 122.47,199.28 120.91,199.91 119.33,200.5 117.73,201.04 116.12,201.53 114.49,201.99 112.85,202.39 111.2,202.74 109.54,203.05 107.88,203.31 106.2,203.52 104.52,203.68 102.84,203.79 101.16,203.86 99.47,203.87 97.78,203.84" fill="#ff4848"/><polygon points="96.17,250.09 99.21,250.15 102.24,250.12 105.28,250.01 108.31,249.81 111.33,249.52 114.35,249.15 117.35,248.7 120.34,248.15 123.32,247.52 126.27,246.8 129.2,246 132.12,245.13 135.01,244.19 137.88,243.17 140.71,242.06 143.52,240.87 146.28,239.59 149,238.2 151.7,236.79 154.34,235.25 156.92,233.64 159.46,231.94 161.95,230.17 164.36,228.3 166.72,226.37 168.98,224.32 171.22,222.26 173.37,220.09 175.42,217.84 177.38,215.51 179.02,212.92 180.47,210.21 181.68,207.35 182.79,204.49 183.91,201.67 184.94,198.85 185.94,196.05 186.71,193.16 187.4,190.28 188.12,187.46 188.74,184.62 189.31,181.8 189.75,178.97 190.14,176.15 190.34,173.31 190.64,170.53 190.93,167.78 191.12,165.03 191.24,162.28 191.48,159.58 191.68,156.88 191.81,154.18 191.82,151.48 191.79,148.79 191.69,146.1 191.55,143.42 191.34,140.75 191.05,138.09 190.69,135.44 190.24,132.8 189.72,130.19 189.19,127.57 188.57,124.98 187.88,122.41 187.12,119.86 186.28,117.33 185.37,114.83 184.43,112.34 183.42,109.88 182.34,107.45 181.18,105.05 179.96,102.69 178.67,100.36 177.31,98.08 175.88,95.83 174.39,93.62 172.73,91.54 170.92,89.58 169.06,87.69 167.15,85.85 165.18,84.07 163.31,82.23 161.44,80.38 159.51,78.58 157.54,76.85 155.51,75.17 153.43,73.55 151.31,71.99 149.19,70.41 147.07,68.82 144.9,67.3 142.67,65.84 140.4,64.44 138.02,63.26 135.57,62.19 133.1,61.2 130.61,60.28 128.08,59.43 125.54,58.66 122.97,57.96 120.38,57.34 117.78,56.79 115.16,56.32 112.53,55.93 109.89,55.61 107.24,55.37 104.59,55.2 101.94,55.1 99.28,55.07 96.62,55.13 97.8,88.79 99.47,88.76 101.15,88.78 102.82,88.84 104.49,88.95 106.16,89.11 107.82,89.31 109.47,89.57 111.12,89.87 112.76,90.22 114.38,90.62 116,91.07 117.6,91.56 119.18,92.1 120.75,92.69 122.3,93.32 123.83,94 125.34,94.73 126.81,95.53 128.26,96.37 129.68,97.26 131.07,98.18 132.44,99.13 133.8,100.11 135.12,101.13 136.41,102.18 137.68,103.27 138.91,104.4 140.1,105.57 141.28,106.75 142.44,107.95 143.57,109.18 144.67,110.45 145.72,111.75 146.72,113.09 147.67,114.47 148.57,115.88 149.43,117.32 150.24,118.78 151.02,120.27 151.75,121.78 152.43,123.3 153.08,124.85 153.67,126.41 154.23,127.99 154.74,129.59 155.21,131.2 155.62,132.82 156,134.45 156.32,136.1 156.6,137.75 156.84,139.41 157.03,141.07 157.17,142.75 157.26,144.42 157.3,146.1 157.31,147.78 157.21,149.46 157.11,151.13 156.97,152.81 156.78,154.48 156.5,156.13 156.24,157.8 155.89,159.44 155.55,161.09 155.11,162.72 154.66,164.35 154.14,165.96 153.58,167.55 152.91,169.1 152.25,170.66 151.54,172.19 150.76,173.69 149.98,175.2 149.14,176.67 148.26,178.12 147.39,179.58 146.44,180.99 145.44,182.37 144.39,183.71 143.32,185.04 142.14,186.27 140.96,187.5 139.74,188.69 138.49,189.84 137.19,190.95 135.87,192.03 134.52,193.06 133.13,194.06 131.72,195.01 130.27,195.92 128.8,196.78 127.31,197.6 125.8,198.38 124.26,199.11 122.69,199.8 121.11,200.44 119.52,201.03 117.92,201.63 116.29,202.13 114.65,202.59 112.99,203 111.33,203.35 109.65,203.66 107.96,203.93 106.27,204.14 104.58,204.3 102.87,204.41 101.17,204.48 99.47,204.49 97.76,204.46" fill="#ff4e4e"/><polygon points="96.19,249.46 99.21,249.53 102.23,249.5 105.25,249.38 108.26,249.19 111.27,248.91 114.26,248.54 117.25,248.08 120.22,247.54 123.18,246.91 126.11,246.2 129.03,245.4 131.94,244.6 134.82,243.66 137.67,242.64 140.49,241.54 143.28,240.36 146.03,239.08 148.73,237.71 151.39,236.25 154.01,234.72 156.58,233.11 159.1,231.43 161.57,229.66 163.98,227.81 166.32,225.89 168.61,223.9 170.84,221.85 172.98,219.69 175.01,217.45 176.91,215.09 178.6,212.56 179.99,209.83 181.2,206.99 182.3,204.14 183.42,201.35 184.45,198.55 185.44,195.76 186.21,192.89 186.9,190.03 187.57,187.2 188.24,184.4 188.8,181.6 189.2,178.77 189.59,175.97 189.79,173.14 190.09,170.38 190.38,167.65 190.58,164.91 190.74,162.19 190.93,159.5 191.13,156.81 191.26,154.13 191.27,151.45 191.24,148.77 191.14,146.1 191.01,143.44 190.8,140.78 190.51,138.13 190.15,135.5 189.71,132.88 189.2,130.28 188.66,127.68 188.05,125.11 187.37,122.55 186.61,120.01 185.77,117.5 184.87,115.02 183.94,112.54 182.93,110.09 181.85,107.68 180.71,105.3 179.49,102.95 178.21,100.63 176.86,98.36 175.44,96.12 173.96,93.93 172.3,91.86 170.51,89.91 168.66,88.03 166.75,86.2 164.81,84.43 162.94,82.6 161.08,80.76 159.17,78.97 157.2,77.25 155.19,75.58 153.12,73.97 151.01,72.42 148.91,70.85 146.8,69.27 144.64,67.76 142.42,66.31 140.16,64.92 137.79,63.74 135.36,62.68 132.91,61.7 130.42,60.78 127.92,59.94 125.38,59.17 122.83,58.48 120.26,57.86 117.67,57.31 115.07,56.85 112.46,56.45 109.83,56.14 107.2,55.9 104.56,55.73 101.92,55.63 99.28,55.61 96.64,55.66 97.78,88.26 99.47,88.23 101.16,88.24 102.85,88.31 104.53,88.42 106.22,88.58 107.89,88.79 109.56,89.04 111.22,89.35 112.88,89.7 114.52,90.11 116.15,90.56 117.76,91.06 119.36,91.6 120.95,92.19 122.51,92.83 124.06,93.51 125.58,94.25 127.06,95.06 128.52,95.91 129.95,96.81 131.36,97.74 132.74,98.71 134.11,99.69 135.44,100.72 136.75,101.78 138.02,102.88 139.26,104.02 140.47,105.2 141.65,106.39 142.83,107.6 143.97,108.84 145.08,110.12 146.15,111.43 147.16,112.78 148.11,114.18 149.02,115.6 149.89,117.05 150.71,118.53 151.5,120.03 152.23,121.55 152.92,123.09 153.57,124.65 154.17,126.23 154.74,127.83 155.25,129.43 155.72,131.06 156.15,132.7 156.52,134.34 156.85,136 157.14,137.67 157.38,139.35 157.57,141.03 157.71,142.71 157.8,144.41 157.85,146.1 157.85,147.8 157.81,149.49 157.66,151.18 157.52,152.87 157.32,154.56 157.04,156.23 156.79,157.91 156.44,159.57 156.05,161.23 155.66,162.89 155.21,164.53 154.64,166.14 154.08,167.75 153.46,169.34 152.75,170.89 152.04,172.45 151.31,173.99 150.48,175.49 149.63,176.97 148.75,178.44 147.82,179.89 146.92,181.35 145.92,182.75 144.87,184.11 143.74,185.41 142.59,186.7 141.4,187.94 140.17,189.15 138.9,190.31 137.6,191.43 136.26,192.52 134.89,193.57 133.49,194.57 132.06,195.53 130.6,196.45 129.12,197.33 127.61,198.16 126.07,198.94 124.52,199.68 122.94,200.37 121.34,201.02 119.73,201.62 118.1,202.17 116.45,202.67 114.79,203.13 113.12,203.54 111.44,203.9 109.74,204.22 108.04,204.48 106.33,204.69 104.62,204.86 102.9,204.97 101.18,205.04 99.46,205.05 97.74,205.02" fill="#ff5454"/><polygon points="96.21,248.9 99.21,248.97 102.22,248.94 105.22,248.82 108.21,248.63 111.2,248.35 114.18,247.98 117.15,247.53 120.11,246.99 123.05,246.37 125.97,245.66 128.87,244.86 131.75,244 134.61,243.07 137.44,242.06 140.25,240.97 143.02,239.79 145.75,238.52 148.44,237.15 151.08,235.71 153.68,234.18 156.24,232.59 158.75,230.91 161.2,229.16 163.59,227.32 165.92,225.41 168.2,223.43 170.41,221.39 172.53,219.25 174.56,217.02 176.5,214.72 178.13,212.16 179.51,209.45 180.71,206.63 181.82,203.8 182.93,201.03 183.95,198.24 184.94,195.47 185.71,192.62 186.4,189.77 187.07,186.96 187.74,184.19 188.25,181.38 188.69,178.58 189.09,175.8 189.24,172.98 189.59,170.25 189.83,167.52 189.98,164.79 190.09,162.08 190.28,159.4 190.49,156.74 190.57,154.07 190.57,151.41 190.55,148.75 190.4,146.1 190.27,143.46 190.06,140.82 189.78,138.2 189.42,135.59 188.99,132.99 188.48,130.41 187.95,127.83 187.34,125.27 186.66,122.74 185.91,120.22 185.08,117.73 184.19,115.26 183.26,112.81 182.26,110.38 181.19,107.99 180.06,105.62 178.85,103.29 177.58,101 176.24,98.74 174.83,96.52 173.36,94.35 171.72,92.3 169.94,90.36 168.11,88.49 166.22,86.67 164.29,84.92 162.44,83.1 160.6,81.28 158.7,79.51 156.75,77.79 154.75,76.14 152.7,74.54 150.6,73 148.51,71.45 146.42,69.89 144.28,68.38 142.08,66.95 139.84,65.57 137.49,64.41 135.08,63.35 132.64,62.37 130.18,61.47 127.69,60.63 125.18,59.87 122.65,59.18 120.1,58.57 117.53,58.03 114.95,57.56 112.36,57.17 109.75,56.86 107.14,56.63 104.53,56.46 101.91,56.36 99.29,56.33 96.67,56.39 97.76,87.58 99.47,87.55 101.17,87.57 102.88,87.63 104.59,87.74 106.29,87.9 107.99,88.12 109.68,88.38 111.36,88.69 113.03,89.04 114.69,89.45 116.34,89.91 117.97,90.41 119.59,90.96 121.19,91.56 122.78,92.2 124.34,92.89 125.88,93.64 127.38,94.46 128.86,95.33 130.3,96.23 131.72,97.18 133.12,98.16 134.5,99.16 135.85,100.2 137.17,101.27 138.46,102.39 139.72,103.54 140.94,104.73 142.14,105.94 143.33,107.16 144.49,108.41 145.61,109.7 146.69,111.02 147.72,112.39 148.68,113.8 149.6,115.24 150.48,116.71 151.31,118.21 152.1,119.72 152.85,121.26 153.55,122.82 154.2,124.4 154.81,126 155.38,127.61 155.9,129.24 156.38,130.88 156.81,132.54 157.19,134.21 157.52,135.88 157.81,137.57 158.06,139.27 158.25,140.97 158.4,142.67 158.49,144.39 158.54,146.1 158.49,147.81 158.45,149.53 158.31,151.24 158.16,152.95 157.92,154.64 157.69,156.35 157.39,158.04 156.99,159.71 156.6,161.38 156.21,163.05 155.72,164.7 155.2,166.34 154.63,167.97 153.97,169.56 153.3,171.15 152.54,172.7 151.8,174.26 150.98,175.78 150.13,177.28 149.24,178.77 148.31,180.23 147.35,181.67 146.35,183.09 145.34,184.51 144.21,185.83 143.05,187.13 141.84,188.39 140.56,189.56 139.27,190.73 137.96,191.87 136.61,192.96 135.22,194.02 133.81,195.03 132.37,196 130.89,196.93 129.4,197.81 127.87,198.65 126.32,199.45 124.78,200.25 123.18,200.95 121.57,201.6 119.94,202.2 118.29,202.76 116.63,203.27 114.95,203.73 113.26,204.15 111.56,204.51 109.85,204.83 108.13,205.1 106.4,205.31 104.67,205.48 102.94,205.59 101.2,205.66 99.46,205.68 97.72,205.64" fill="#ff5a5a"/><polygon points="96.23,248.28 99.22,248.34 102.2,248.32 105.18,248.2 108.16,248.01 111.13,247.73 114.1,247.37 117.05,246.92 119.99,246.38 122.91,245.76 125.81,245.05 128.69,244.26 131.55,243.41 134.4,242.49 137.24,241.54 140.03,240.45 142.78,239.28 145.5,238.02 148.17,236.66 150.8,235.22 153.39,233.7 155.93,232.11 158.42,230.45 160.87,228.71 163.24,226.88 165.56,224.98 167.82,223.01 170.03,220.98 172.14,218.85 174.15,216.64 176.03,214.3 177.7,211.81 179.08,209.1 180.28,206.31 181.38,203.49 182.49,200.73 183.46,197.94 184.44,195.18 185.21,192.35 185.8,189.47 186.42,186.66 186.98,183.86 187.44,181.06 187.84,178.27 188.13,175.48 188.23,172.68 188.54,169.97 188.78,167.27 188.93,164.57 189.05,161.9 189.24,159.25 189.39,156.61 189.52,153.98 189.53,151.35 189.46,148.72 189.36,146.1 189.24,143.49 189.03,140.88 188.75,138.29 188.4,135.71 187.97,133.14 187.47,130.58 186.94,128.04 186.35,125.51 185.67,123 184.93,120.52 184.11,118.05 183.23,115.61 182.31,113.19 181.33,110.79 180.27,108.42 179.15,106.08 177.95,103.78 176.69,101.51 175.37,99.28 173.98,97.09 172.52,94.94 170.91,92.9 169.15,90.99 167.34,89.14 165.48,87.34 163.57,85.6 161.74,83.8 159.92,82 158.04,80.25 156.11,78.56 154.13,76.92 152.11,75.34 150.04,73.82 147.97,72.29 145.9,70.74 143.77,69.26 141.6,67.84 139.38,66.49 137.06,65.33 134.68,64.29 132.27,63.33 129.83,62.43 127.37,61.6 124.89,60.85 122.39,60.17 119.87,59.56 117.33,59.03 114.78,58.57 112.21,58.18 109.64,57.87 107.06,57.64 104.47,57.47 101.88,57.37 99.29,57.35 96.7,57.4 97.73,86.71 99.46,86.68 101.2,86.69 102.93,86.76 104.66,86.88 106.39,87.04 108.11,87.25 109.82,87.52 111.53,87.83 113.23,88.19 114.91,88.61 116.59,89.07 118.24,89.58 119.89,90.14 121.51,90.74 123.12,91.4 124.71,92.1 126.27,92.86 127.79,93.69 129.29,94.57 130.75,95.5 132.19,96.47 133.61,97.46 135.01,98.47 136.38,99.52 137.72,100.62 139.03,101.75 140.3,102.92 141.54,104.12 142.75,105.35 143.97,106.58 145.15,107.85 146.29,109.16 147.39,110.5 148.43,111.88 149.41,113.32 150.34,114.78 151.23,116.27 152.08,117.79 152.88,119.33 153.64,120.89 154.35,122.47 155.01,124.08 155.63,125.7 156.21,127.34 156.74,128.99 157.23,130.65 157.66,132.34 158.05,134.03 158.38,135.73 158.68,137.44 158.93,139.16 159.13,140.89 159.28,142.62 159.38,144.36 159.43,146.1 159.44,147.84 159.39,149.58 159.25,151.32 159.06,153.05 158.87,154.78 158.58,156.5 158.29,158.22 157.94,159.93 157.5,161.62 157.06,163.31 156.57,164.98 156,166.64 155.34,168.25 154.67,169.86 153.9,171.43 153.14,173 152.3,174.53 151.52,176.09 150.62,177.59 149.73,179.09 148.8,180.57 147.84,182.04 146.83,183.47 145.76,184.87 144.67,186.24 143.45,187.51 142.24,188.78 140.99,190.01 139.69,191.2 138.36,192.35 136.99,193.46 135.6,194.53 134.17,195.55 132.71,196.53 131.22,197.47 129.71,198.36 128.17,199.21 126.6,200.01 125.02,200.76 123.41,201.47 121.78,202.12 120.13,202.73 118.48,203.35 116.8,203.86 115.11,204.33 113.4,204.75 111.68,205.12 109.95,205.44 108.22,205.71 106.47,205.93 104.72,206.1 102.97,206.21 101.21,206.28 99.46,206.3 97.7,206.26" fill="#ff6060"/><polygon points="96.25,247.66 99.22,247.72 102.19,247.7 105.15,247.58 108.11,247.39 111.07,247.11 114.01,246.75 116.94,246.3 119.86,245.77 122.77,245.15 125.65,244.45 128.52,243.67 131.36,242.82 134.19,241.9 137.01,240.96 139.78,239.87 142.52,238.71 145.22,237.46 147.88,236.1 150.49,234.67 153.06,233.17 155.59,231.59 158.07,229.94 160.49,228.2 162.85,226.38 165.16,224.49 167.41,222.54 169.6,220.52 171.7,218.41 173.66,216.16 175.57,213.89 177.13,211.33 178.51,208.65 179.65,205.84 180.65,202.98 181.7,200.22 182.67,197.45 183.6,194.69 184.27,191.84 184.8,188.97 185.42,186.19 185.98,183.42 186.44,180.66 186.78,177.88 187.08,175.13 187.18,172.36 187.49,169.69 187.74,167.02 187.89,164.36 187.96,161.7 188.2,159.1 188.35,156.49 188.43,153.88 188.49,151.28 188.42,148.69 188.33,146.1 188.2,143.52 188,140.94 187.73,138.38 187.38,135.83 186.96,133.29 186.46,130.76 185.94,128.25 185.35,125.75 184.69,123.27 183.95,120.81 183.15,118.37 182.27,115.96 181.37,113.57 180.39,111.19 179.35,108.85 178.24,106.54 177.06,104.26 175.81,102.02 174.5,99.82 173.13,97.65 171.69,95.52 170.09,93.51 168.36,91.62 166.57,89.79 164.73,88.01 162.85,86.29 161.04,84.51 159.24,82.73 157.38,81 155.47,79.32 153.52,77.7 151.51,76.14 149.47,74.64 147.42,73.13 145.37,71.6 143.27,70.14 141.12,68.74 138.93,67.4 136.63,66.26 134.28,65.23 131.9,64.28 129.49,63.39 127.06,62.57 124.6,61.83 122.13,61.15 119.64,60.55 117.13,60.02 114.61,59.57 112.07,59.19 109.53,58.88 106.98,58.65 104.42,58.49 101.86,58.39 99.3,58.37 96.74,58.42 97.69,85.8 99.46,85.76 101.22,85.78 102.98,85.84 104.73,85.96 106.49,86.12 108.24,86.34 109.98,86.61 111.71,86.93 113.44,87.3 115.15,87.71 116.85,88.18 118.53,88.7 120.2,89.27 121.85,89.88 123.48,90.55 125.1,91.26 126.68,92.03 128.23,92.88 129.74,93.78 131.23,94.72 132.68,95.71 134.12,96.72 135.54,97.75 136.94,98.82 138.3,99.93 139.62,101.08 140.91,102.26 142.17,103.49 143.41,104.73 144.64,105.98 145.84,107.27 147,108.59 148.13,109.95 149.19,111.35 150.18,112.81 151.13,114.3 152.03,115.81 152.89,117.35 153.71,118.91 154.47,120.5 155.19,122.11 155.87,123.74 156.5,125.38 157.08,127.04 157.63,128.72 158.12,130.41 158.56,132.12 158.95,133.84 159.29,135.57 159.6,137.31 159.86,139.05 160.06,140.81 160.21,142.57 160.32,144.33 160.37,146.1 160.38,147.87 160.29,149.64 160.2,151.4 160,153.16 159.76,154.92 159.53,156.67 159.18,158.41 158.84,160.14 158.45,161.87 158.01,163.59 157.47,165.29 156.91,166.97 156.24,168.61 155.52,170.23 154.8,171.85 153.99,173.43 153.15,174.99 152.27,176.53 151.36,178.05 150.42,179.54 149.43,181.01 148.46,182.51 147.41,183.93 146.28,185.31 145.13,186.66 143.91,187.94 142.68,189.23 141.41,190.47 140.1,191.67 138.76,192.83 137.38,193.95 135.97,195.03 134.53,196.06 133.05,197.05 131.55,198 130.02,198.9 128.46,199.76 126.88,200.57 125.28,201.33 123.65,202.04 122,202.7 120.36,203.38 118.68,203.94 116.98,204.46 115.27,204.94 113.54,205.36 111.8,205.73 110.06,206.06 108.3,206.33 106.54,206.55 104.77,206.72 103,206.84 101.23,206.9 99.45,206.92 97.68,206.88" fill="#ff6666"/><polygon points="96.29,246.48 99.23,246.54 102.16,246.51 105.09,246.4 108.01,246.21 110.93,245.94 113.85,245.58 116.75,245.14 119.63,244.61 122.5,244 125.35,243.31 128.18,242.53 131.01,241.75 133.81,240.84 136.58,239.85 139.31,238.78 142.02,237.63 144.72,236.45 147.34,235.11 149.93,233.7 152.47,232.21 154.97,230.64 157.42,229.01 159.82,227.3 162.16,225.5 164.44,223.63 166.66,221.7 168.83,219.7 170.86,217.57 172.84,215.39 174.69,213.1 176.28,210.61 177.6,207.92 178.73,205.15 179.73,202.33 180.77,199.6 181.73,196.86 182.6,194.12 183.27,191.3 183.85,188.49 184.42,185.72 184.97,182.99 185.43,180.26 185.78,177.52 186.02,174.78 186.18,172.06 186.44,169.4 186.64,166.76 186.84,164.14 186.91,161.52 187.1,158.94 187.3,156.37 187.39,153.79 187.4,151.22 187.33,148.66 187.24,146.1 187.12,143.55 186.92,141.01 186.65,138.47 186.31,135.95 185.89,133.44 185.4,130.95 184.89,128.46 184.31,126 183.66,123.55 182.93,121.12 182.13,118.71 181.27,116.33 180.38,113.96 179.41,111.62 178.38,109.3 177.28,107.02 176.12,104.77 174.89,102.56 173.59,100.38 172.24,98.24 170.81,96.14 169.24,94.15 167.53,92.28 165.76,90.47 163.95,88.71 162.09,87.01 160.31,85.24 158.52,83.48 156.69,81.78 154.81,80.12 152.87,78.52 150.89,76.98 148.87,75.5 146.85,74 144.82,72.5 142.75,71.06 140.62,69.68 138.45,68.36 136.18,67.23 133.86,66.22 131.51,65.27 129.13,64.39 126.73,63.59 124.3,62.85 121.86,62.18 119.4,61.59 116.92,61.07 114.43,60.62 111.92,60.24 109.41,59.94 106.89,59.71 104.36,59.55 101.84,59.45 99.3,59.43 96.78,59.48 97.66,84.88 99.45,84.84 101.24,84.86 103.03,84.92 104.81,85.04 106.59,85.21 108.37,85.43 110.13,85.7 111.89,86.02 113.64,86.4 115.38,86.82 117.11,87.3 118.82,87.82 120.51,88.4 122.19,89.02 123.85,89.7 125.49,90.42 127.09,91.2 128.66,92.07 130.2,92.99 131.7,93.95 133.18,94.95 134.64,95.98 136.08,97.02 137.49,98.11 138.87,99.23 140.22,100.4 141.53,101.61 142.8,102.85 144.06,104.11 145.32,105.38 146.54,106.68 147.72,108.02 148.87,109.39 149.94,110.82 150.95,112.3 151.91,113.81 152.83,115.35 153.7,116.91 154.53,118.5 155.31,120.11 156.04,121.74 156.72,123.39 157.36,125.07 157.96,126.75 158.51,128.46 159.01,130.17 159.46,131.91 159.86,133.65 160.21,135.41 160.52,137.17 160.78,138.95 160.99,140.73 161.15,142.51 161.25,144.31 161.3,146.1 161.32,147.9 161.23,149.69 161.09,151.48 160.95,153.27 160.7,155.05 160.42,156.83 160.13,158.6 159.78,160.37 159.35,162.12 158.91,163.87 158.38,165.59 157.81,167.3 157.15,168.98 156.43,170.63 155.65,172.25 154.83,173.86 154,175.45 153.11,177.02 152.2,178.57 151.25,180.1 150.25,181.6 149.24,183.08 148.17,184.54 147.09,185.98 145.88,187.32 144.68,188.67 143.39,189.94 142.1,191.2 140.77,192.42 139.4,193.6 138,194.74 136.57,195.84 135.1,196.89 133.6,197.89 132.07,198.86 130.52,199.77 128.93,200.64 127.33,201.47 125.7,202.24 124.04,202.96 122.39,203.69 120.7,204.32 118.99,204.89 117.26,205.42 115.52,205.9 113.77,206.33 112,206.71 110.23,207.04 108.44,207.31 106.65,207.54 104.86,207.71 103.05,207.83 101.25,207.9 99.45,207.91 97.64,207.88" fill="#ff6c6c"/><polygon points="96.33,245.36 99.23,245.42 102.13,245.39 105.03,245.28 107.92,245.09 110.81,244.82 113.69,244.47 116.56,244.03 119.41,243.51 122.25,242.91 125.07,242.22 127.86,241.45 130.65,240.63 133.41,239.73 136.14,238.75 138.87,237.75 141.55,236.61 144.19,235.38 146.78,234.06 149.34,232.66 151.85,231.19 154.32,229.65 156.74,228.03 159.11,226.34 161.42,224.56 163.67,222.71 165.87,220.8 168.01,218.83 170.07,216.77 171.98,214.57 173.85,212.35 175.39,209.85 176.69,207.2 177.82,204.46 178.8,201.68 179.84,198.98 180.74,196.25 181.66,193.57 182.27,190.76 182.85,187.99 183.41,185.25 183.97,182.55 184.37,179.83 184.72,177.13 185.02,174.45 185.13,171.75 185.39,169.12 185.59,166.51 185.79,163.92 185.87,161.33 186.06,158.78 186.21,156.24 186.34,153.7 186.35,151.16 186.29,148.63 186.2,146.1 186.08,143.58 185.89,141.07 185.63,138.56 185.29,136.07 184.88,133.59 184.4,131.13 183.89,128.67 183.32,126.23 182.67,123.81 181.95,121.41 181.17,119.03 180.31,116.68 179.43,114.34 178.48,112.02 177.46,109.74 176.37,107.48 175.22,105.26 174.01,103.07 172.73,100.92 171.38,98.8 169.98,96.73 168.42,94.76 166.73,92.91 164.99,91.11 163.21,89.37 161.37,87.69 159.61,85.95 157.85,84.21 156.03,82.52 154.17,80.89 152.26,79.31 150.3,77.78 148.3,76.32 146.3,74.84 144.3,73.36 142.24,71.93 140.14,70.57 138,69.27 135.75,68.16 133.46,67.16 131.13,66.22 128.78,65.35 126.41,64.56 124.01,63.83 121.6,63.17 119.17,62.58 116.72,62.07 114.25,61.62 111.78,61.25 109.3,60.95 106.81,60.73 104.31,60.56 101.81,60.47 99.31,60.45 96.81,60.5 97.63,83.96 99.44,83.92 101.26,83.94 103.07,84.01 104.89,84.13 106.69,84.3 108.49,84.52 110.29,84.79 112.08,85.12 113.85,85.5 115.62,85.93 117.37,86.41 119.1,86.95 120.82,87.53 122.53,88.16 124.21,88.85 125.87,89.58 127.51,90.38 129.09,91.26 130.65,92.19 132.18,93.17 133.67,94.19 135.15,95.23 136.62,96.3 138.05,97.4 139.45,98.54 140.81,99.73 142.14,100.95 143.44,102.21 144.71,103.49 145.99,104.77 147.23,106.09 148.44,107.45 149.6,108.84 150.7,110.29 151.72,111.79 152.7,113.33 153.63,114.89 154.51,116.47 155.35,118.08 156.14,119.72 156.89,121.37 157.58,123.05 158.23,124.75 158.83,126.46 159.39,128.19 159.9,129.93 160.36,131.69 160.76,133.46 161.12,135.25 161.44,137.04 161.7,138.84 161.92,140.65 162.08,142.46 162.19,144.28 162.24,146.1 162.21,147.92 162.17,149.75 162.04,151.56 161.84,153.38 161.65,155.19 161.37,157 161.03,158.79 160.68,160.58 160.25,162.36 159.81,164.14 159.28,165.89 158.72,167.63 158.06,169.34 157.33,171.02 156.56,172.68 155.68,174.28 154.85,175.91 153.96,177.51 153.04,179.09 152.08,180.65 151.08,182.18 150.06,183.7 148.99,185.19 147.84,186.62 146.62,187.99 145.4,189.36 144.14,190.69 142.79,191.93 141.43,193.17 140.04,194.37 138.62,195.53 137.16,196.64 135.67,197.71 134.15,198.73 132.59,199.71 131.01,200.64 129.41,201.53 127.77,202.36 126.12,203.15 124.46,203.94 122.76,204.62 121.03,205.26 119.29,205.84 117.54,206.37 115.77,206.86 113.99,207.3 112.2,207.69 110.39,208.02 108.59,208.36 106.77,208.59 104.94,208.76 103.11,208.89 101.28,208.96 99.44,208.97 97.61,208.93" fill="#ff7272"/><polygon points="96.37,244.18 99.24,244.24 102.1,244.21 104.97,244.1 107.83,243.92 110.68,243.65 113.52,243.3 116.36,242.87 119.18,242.35 121.98,241.76 124.77,241.08 127.53,240.32 130.28,239.5 133.03,238.67 135.73,237.7 138.41,236.65 141.05,235.53 143.66,234.32 146.25,233.07 148.78,231.68 151.26,230.23 153.7,228.7 156.1,227.1 158.44,225.43 160.72,223.67 162.95,221.85 165.12,219.96 167.24,218.01 169.23,215.93 171.16,213.8 172.97,211.56 174.49,209.1 175.78,206.48 176.9,203.78 177.88,201.03 178.91,198.37 179.81,195.67 180.71,193.02 181.33,190.25 181.85,187.48 182.41,184.78 182.96,182.12 183.37,179.43 183.66,176.74 183.96,174.1 184.03,171.41 184.24,168.81 184.39,166.22 184.5,163.65 184.58,161.1 184.72,158.58 184.87,156.08 184.95,153.58 184.91,151.08 184.85,148.58 184.72,146.1 184.61,143.62 184.42,141.15 184.16,138.69 183.83,136.24 183.43,133.81 182.96,131.38 182.46,128.97 181.9,126.57 181.26,124.19 180.56,121.83 179.79,119.49 178.95,117.18 178.08,114.88 177.14,112.6 176.14,110.35 175.07,108.14 173.94,105.95 172.75,103.8 171.49,101.68 170.17,99.6 168.79,97.57 167.26,95.63 165.6,93.81 163.89,92.04 162.14,90.33 160.34,88.67 158.61,86.95 156.87,85.25 155.09,83.59 153.26,81.98 151.38,80.43 149.45,78.93 147.49,77.49 145.52,76.04 143.55,74.58 141.53,73.19 139.46,71.85 137.35,70.58 135.14,69.48 132.89,68.5 130.6,67.58 128.29,66.73 125.96,65.94 123.6,65.22 121.23,64.58 118.84,64 116.43,63.49 114.01,63.06 111.58,62.69 109.14,62.4 106.69,62.17 104.23,62.01 101.78,61.92 99.32,61.9 96.86,61.95 97.6,83.09 99.44,83.05 101.28,83.07 103.12,83.14 104.96,83.26 106.79,83.43 108.62,83.65 110.44,83.93 112.25,84.26 114.05,84.65 115.84,85.09 117.61,85.57 119.37,86.12 121.12,86.71 122.85,87.35 124.55,88.04 126.24,88.79 127.9,89.59 129.5,90.49 131.08,91.44 132.63,92.44 134.14,93.47 135.64,94.53 137.12,95.61 138.58,96.73 140,97.89 141.38,99.09 142.73,100.33 144.04,101.61 145.33,102.91 146.63,104.2 147.89,105.54 149.12,106.91 150.3,108.32 151.42,109.79 152.45,111.31 153.44,112.86 154.39,114.45 155.28,116.06 156.13,117.69 156.93,119.35 157.69,121.03 158.39,122.73 159.05,124.45 159.66,126.19 160.23,127.94 160.75,129.71 161.21,131.49 161.62,133.29 161.98,135.09 162.31,136.91 162.58,138.74 162.8,140.57 162.96,142.41 163.07,144.25 163.13,146.1 163.15,147.95 163.07,149.8 162.98,151.65 162.79,153.49 162.54,155.32 162.26,157.15 161.97,158.99 161.58,160.8 161.2,162.61 160.71,164.41 160.19,166.19 159.62,167.96 158.91,169.68 158.19,171.39 157.41,173.07 156.58,174.74 155.69,176.37 154.8,178 153.88,179.61 152.92,181.2 151.86,182.73 150.83,184.27 149.75,185.79 148.6,187.26 147.41,188.69 146.13,190.05 144.84,191.4 143.47,192.66 142.1,193.92 140.68,195.14 139.24,196.32 137.76,197.45 136.24,198.53 134.7,199.57 133.12,200.57 131.51,201.51 129.88,202.41 128.25,203.32 126.56,204.11 124.85,204.86 123.12,205.55 121.37,206.2 119.6,206.79 117.84,207.39 116.04,207.89 114.23,208.33 112.41,208.73 110.57,209.06 108.73,209.35 106.88,209.58 105.02,209.76 103.16,209.88 101.3,209.95 99.44,209.97 97.57,209.93" fill="#ff7878"/><polygon points="96.42,243 99.25,243.06 102.08,243.03 104.91,242.92 107.73,242.74 110.55,242.47 113.36,242.13 116.17,241.76 118.96,241.26 121.73,240.67 124.48,239.99 127.21,239.24 129.93,238.43 132.63,237.55 135.3,236.6 137.97,235.62 140.58,234.5 143.16,233.31 145.69,232.02 148.19,230.65 150.64,229.21 153.05,227.7 155.42,226.13 157.73,224.47 159.99,222.74 162.19,220.93 164.34,219.07 166.43,217.14 168.43,215.13 170.3,212.98 172.14,210.82 173.64,208.38 174.92,205.79 175.98,203.09 176.95,200.38 177.97,197.75 178.87,195.09 179.72,192.44 180.33,189.71 180.85,186.98 181.26,184.24 181.71,181.57 182.01,178.89 182.21,176.21 182.35,173.56 182.38,170.92 182.59,168.37 182.74,165.83 182.85,163.31 182.94,160.81 183.08,158.34 183.23,155.89 183.26,153.43 183.28,150.98 183.22,148.54 183.09,146.1 182.98,143.67 182.8,141.25 182.55,138.83 182.22,136.43 181.83,134.04 181.37,131.66 180.89,129.29 180.33,126.94 179.71,124.61 179.02,122.29 178.27,120 177.45,117.73 176.59,115.47 175.67,113.24 174.69,111.03 173.64,108.86 172.53,106.71 171.36,104.6 170.12,102.53 168.83,100.49 167.48,98.49 165.98,96.59 164.36,94.8 162.69,93.06 160.97,91.37 159.21,89.74 157.51,88.06 155.81,86.38 154.05,84.76 152.26,83.18 150.41,81.66 148.52,80.19 146.59,78.77 144.66,77.35 142.72,75.93 140.74,74.56 138.71,73.26 136.64,72.01 134.47,70.94 132.26,69.97 130.02,69.07 127.75,68.23 125.46,67.46 123.15,66.76 120.82,66.13 118.47,65.56 116.11,65.06 113.74,64.63 111.35,64.27 108.96,63.98 106.56,63.77 104.15,63.61 101.74,63.52 99.33,63.5 96.92,63.54 97.53,81.15 99.43,81.11 101.33,81.13 103.22,81.2 105.11,81.33 107,81.5 108.89,81.74 110.76,82.02 112.63,82.36 114.49,82.76 116.33,83.21 118.16,83.71 119.98,84.27 121.78,84.88 123.56,85.54 125.32,86.25 127.05,87.02 128.76,87.85 130.41,88.79 132.04,89.77 133.63,90.8 135.18,91.88 136.73,92.97 138.25,94.08 139.75,95.23 141.21,96.43 142.63,97.67 144.02,98.95 145.37,100.27 146.7,101.6 148.05,102.93 149.36,104.3 150.63,105.71 151.85,107.16 153.01,108.67 154.07,110.24 155.09,111.84 156.07,113.47 156.99,115.13 157.87,116.81 158.69,118.52 159.47,120.26 160.19,122.01 160.87,123.79 161.5,125.57 162.09,127.38 162.62,129.2 163.1,131.04 163.53,132.89 163.9,134.76 164.24,136.63 164.52,138.51 164.75,140.4 164.93,142.29 165.05,144.19 165.11,146.1 165.13,148.01 165,149.91 164.82,151.81 164.63,153.71 164.33,155.59 164,157.46 163.62,159.33 163.13,161.17 162.65,163 162.07,164.81 161.39,166.59 160.63,168.33 159.82,170.04 159.09,171.78 158.31,173.5 157.43,175.17 156.59,176.85 155.65,178.49 154.72,180.13 153.7,181.72 152.69,183.31 151.65,184.89 150.52,186.4 149.4,187.94 148.15,189.36 146.85,190.73 145.55,192.11 144.2,193.44 142.8,194.72 141.37,195.96 139.86,197.1 138.36,198.26 136.82,199.36 135.24,200.41 133.67,201.47 132.04,202.44 130.38,203.35 128.69,204.21 126.98,205.02 125.24,205.78 123.49,206.48 121.71,207.14 119.93,207.8 118.12,208.35 116.29,208.85 114.46,209.3 112.6,209.7 110.74,210.05 108.87,210.33 106.99,210.57 105.1,210.75 103.22,210.87 101.32,210.95 99.43,210.96 97.54,210.92" fill="#ff7e7e"/><polygon points="96.46,241.88 99.25,241.94 102.05,241.91 104.85,241.81 107.64,241.62 110.42,241.36 113.2,241.02 115.97,240.6 118.72,240.1 121.46,239.51 124.18,238.85 126.88,238.11 129.56,237.31 132.25,236.5 134.89,235.55 137.5,234.53 140.08,233.43 142.63,232.24 145.16,231.02 147.63,229.67 150.05,228.25 152.44,226.76 154.78,225.2 157.06,223.56 159.29,221.85 161.47,220.07 163.59,218.22 165.61,216.27 167.6,214.28 169.49,212.21 171.25,210.03 172.74,207.62 174.01,205.07 175.02,202.37 175.93,199.66 176.85,197.01 177.63,194.32 178.43,191.69 178.88,188.92 179.31,186.2 179.71,183.52 180.1,180.88 180.4,178.25 180.6,175.62 180.74,173.03 180.78,170.44 180.99,167.94 181.15,165.45 181.26,162.98 181.3,160.52 181.44,158.1 181.58,155.69 181.62,153.28 181.64,150.88 181.53,148.49 181.46,146.1 181.35,143.72 181.18,141.34 180.93,138.98 180.62,136.62 180.24,134.27 179.79,131.94 179.31,129.62 178.77,127.31 178.16,125.02 177.49,122.75 176.75,120.5 175.94,118.28 175.11,116.06 174.2,113.87 173.24,111.71 172.21,109.58 171.12,107.48 169.97,105.41 168.76,103.37 167.49,101.37 166.16,99.41 164.7,97.55 163.11,95.79 161.48,94.08 159.8,92.42 158.07,90.82 156.41,89.17 154.74,87.52 153.02,85.93 151.25,84.38 149.45,82.89 147.59,81.45 145.7,80.06 143.8,78.67 141.9,77.28 139.95,75.94 137.96,74.67 135.92,73.45 133.8,72.4 131.63,71.45 129.43,70.56 127.21,69.74 124.96,68.99 122.7,68.3 120.41,67.68 118.11,67.12 115.8,66.63 113.47,66.21 111.13,65.86 108.78,65.57 106.43,65.36 104.07,65.2 101.7,65.11 99.34,65.09 96.97,65.14 97.46,79.22 99.42,79.18 101.37,79.19 103.32,79.27 105.27,79.4 107.22,79.58 109.16,79.82 111.09,80.11 113.01,80.46 114.93,80.87 116.82,81.33 118.71,81.85 120.58,82.42 122.43,83.05 124.27,83.73 126.08,84.46 127.87,85.25 129.63,86.11 131.32,87.08 132.99,88.1 134.63,89.17 136.23,90.28 137.81,91.41 139.38,92.55 140.92,93.74 142.42,94.98 143.89,96.25 145.32,97.57 146.7,98.93 148.08,100.3 149.47,101.66 150.82,103.07 152.13,104.51 153.41,106 154.6,107.55 155.69,109.17 156.74,110.82 157.75,112.5 158.7,114.21 159.6,115.94 160.45,117.7 161.25,119.49 162,121.29 162.69,123.12 163.35,124.96 163.95,126.82 164.5,128.7 165,130.59 165.44,132.5 165.82,134.42 166.17,136.34 166.47,138.28 166.71,140.22 166.89,142.18 167.02,144.14 167.08,146.1 167.12,148.07 166.99,150.03 166.81,151.98 166.57,153.93 166.32,155.88 165.99,157.81 165.56,159.73 165.13,161.64 164.6,163.53 164.02,165.4 163.35,167.24 162.54,169.03 161.68,170.78 160.7,172.48 159.71,174.15 158.63,175.77 157.54,177.37 156.5,178.98 155.56,180.65 154.54,182.27 153.51,183.89 152.42,185.47 151.33,187.05 150.16,188.57 148.89,190.02 147.62,191.46 146.25,192.82 144.88,194.17 143.47,195.47 142.01,196.73 140.52,197.94 138.99,199.11 137.42,200.23 135.83,201.31 134.2,202.33 132.54,203.31 130.85,204.23 129.14,205.11 127.4,205.93 125.64,206.7 123.87,207.47 122.07,208.13 120.24,208.74 118.4,209.3 116.55,209.82 114.68,210.27 112.8,210.68 110.91,211.03 109.01,211.32 107.1,211.56 105.19,211.74 103.27,211.87 101.35,211.94 99.42,211.96 97.5,211.92" fill="#ff8484"/><polygon points="96.51,240.26 99.26,240.32 102.01,240.3 104.76,240.19 107.51,240.01 110.24,239.75 112.98,239.42 115.7,239 118.4,238.51 121.09,237.94 123.77,237.28 126.42,236.55 129.08,235.83 131.7,234.97 134.29,234.04 136.89,233.09 139.43,232.01 141.96,230.9 144.42,229.64 146.85,228.31 149.24,226.92 151.58,225.45 153.88,223.91 156.13,222.3 158.32,220.62 160.46,218.86 162.55,217.05 164.59,215.18 166.49,213.18 168.31,211.09 170.05,208.95 171.47,206.55 172.62,203.97 173.62,201.32 174.47,198.63 175.38,196.04 176.15,193.41 176.88,190.8 177.39,188.11 177.76,185.42 178.15,182.79 178.54,180.2 178.79,177.61 178.99,175.04 179.14,172.49 179.03,169.91 178.99,167.4 178.85,164.91 178.72,162.46 178.46,160.02 178.5,157.67 178.5,155.33 178.44,153.01 178.26,150.69 178.07,148.39 177.95,146.1 177.86,143.82 177.69,141.55 177.46,139.28 177.17,137.02 176.81,134.78 176.38,132.55 175.93,130.32 175.41,128.11 174.83,125.92 174.19,123.74 173.48,121.59 172.71,119.46 171.91,117.34 171.04,115.24 170.12,113.17 169.14,111.13 168.09,109.12 166.99,107.14 165.83,105.19 164.61,103.27 163.34,101.4 161.94,99.61 160.43,97.92 158.88,96.27 157.28,94.68 155.63,93.13 154.04,91.55 152.44,89.97 150.79,88.45 149.1,86.97 147.37,85.54 145.59,84.16 143.77,82.83 141.95,81.5 140.12,80.18 138.25,78.91 136.34,77.7 134.39,76.54 132.35,75.54 130.27,74.63 128.17,73.78 126.04,72.99 123.89,72.27 121.73,71.6 119.54,71.01 117.34,70.47 115.12,70.01 112.89,69.6 110.65,69.26 108.4,68.99 106.14,68.78 103.88,68.64 101.62,68.55 99.36,68.53 97.09,68.58 97.4,77.28 99.41,77.24 101.42,77.26 103.43,77.34 105.43,77.47 107.43,77.65 109.43,77.9 111.42,78.2 113.4,78.56 115.36,78.98 117.32,79.45 119.26,79.99 121.18,80.58 123.09,81.22 124.98,81.92 126.84,82.68 128.68,83.49 130.49,84.37 132.24,85.38 133.95,86.43 135.63,87.53 137.27,88.69 138.89,89.85 140.51,91.03 142.09,92.25 143.64,93.52 145.14,94.83 146.61,96.19 148.04,97.59 149.45,99 150.89,100.39 152.29,101.83 153.64,103.31 154.96,104.84 156.19,106.43 157.32,108.1 158.4,109.79 159.43,111.52 160.41,113.28 161.33,115.07 162.21,116.88 163.03,118.71 163.8,120.57 164.51,122.45 165.19,124.35 165.81,126.26 166.38,128.19 166.89,130.14 167.34,132.1 167.74,134.08 168.11,136.06 168.41,138.05 168.66,140.05 168.85,142.06 168.99,144.08 169.06,146.1 169.1,148.12 168.98,150.14 168.8,152.16 168.56,154.17 168.26,156.17 167.98,158.17 167.55,160.14 167.07,162.1 166.55,164.05 165.97,165.99 165.31,167.89 164.45,169.72 163.59,171.54 162.61,173.3 161.57,175.02 160.48,176.7 159.38,178.37 158.24,179.99 157.09,181.6 155.96,183.21 154.73,184.74 153.53,186.3 152.24,187.77 150.96,189.25 149.63,190.69 148.34,192.15 146.96,193.53 145.57,194.9 144.13,196.22 142.65,197.5 141.14,198.73 139.59,199.92 138,201.06 136.37,202.14 134.72,203.18 133.04,204.18 131.32,205.12 129.59,206.01 127.82,206.84 126.05,207.68 124.24,208.4 122.4,209.07 120.55,209.69 118.68,210.26 116.8,210.78 114.91,211.24 113,211.65 111.09,212.07 109.16,212.37 107.22,212.61 105.27,212.79 103.32,212.92 101.37,213 99.42,213.01 97.46,212.98" fill="#ff8a8a"/><polygon points="96.57,238.46 99.27,238.52 101.97,238.49 104.67,238.39 107.36,238.21 110.04,237.96 112.72,237.63 115.39,237.22 118.05,236.74 120.69,236.18 123.31,235.54 125.91,234.82 128.52,234.11 131.09,233.27 133.66,232.41 136.18,231.42 138.67,230.36 141.15,229.27 143.57,228.04 145.95,226.74 148.29,225.37 150.59,223.93 152.84,222.42 155.05,220.84 157.2,219.19 159.3,217.47 161.35,215.69 163.34,213.85 165.21,211.89 167,209.85 168.7,207.75 170.1,205.39 171.24,202.87 172.22,200.27 173.06,197.64 173.9,195.06 174.67,192.49 175.39,189.94 175.84,187.28 176.21,184.64 176.5,182.01 176.28,179.22 175.92,176.46 175.57,173.79 175.16,171.17 174.67,168.6 174.59,166.22 174.46,163.86 174.28,161.54 173.39,159.12 173.63,156.95 173.83,154.78 173.97,152.61 174.04,150.44 174.05,148.27 174,146.1 173.91,143.94 173.76,141.78 173.55,139.62 173.28,137.48 172.94,135.35 172.54,133.23 172.11,131.11 171.62,129.01 171.07,126.93 170.46,124.86 169.79,122.82 169.07,120.79 168.3,118.78 167.48,116.79 166.6,114.82 165.67,112.88 164.68,110.97 163.63,109.09 162.53,107.24 161.37,105.42 160.16,103.63 158.84,101.93 157.42,100.32 155.95,98.74 154.44,97.22 152.89,95.74 151.37,94.23 149.85,92.74 148.28,91.28 146.67,89.88 145.02,88.52 143.33,87.21 141.6,85.95 139.87,84.7 138.12,83.45 136.34,82.25 134.51,81.11 132.65,80.02 130.72,79.07 128.75,78.2 126.75,77.4 124.73,76.65 122.69,75.96 120.63,75.33 118.55,74.76 116.46,74.25 114.35,73.81 112.23,73.42 110.11,73.1 107.97,72.84 105.83,72.64 103.68,72.5 101.53,72.42 99.38,72.4 97.23,72.44 97.23,72.44 99.38,72.4 101.53,72.42 103.68,72.5 105.83,72.64 107.97,72.84 110.11,73.1 112.23,73.42 114.35,73.81 116.46,74.25 118.55,74.76 120.63,75.33 122.69,75.96 124.73,76.65 126.75,77.4 128.75,78.2 130.72,79.07 132.65,80.02 134.51,81.11 136.34,82.25 138.12,83.45 139.87,84.7 141.6,85.95 143.33,87.21 145.02,88.52 146.67,89.88 148.28,91.28 149.85,92.74 151.37,94.23 152.89,95.74 154.44,97.22 155.95,98.74 157.42,100.32 158.84,101.93 160.16,103.63 161.37,105.42 162.53,107.24 163.63,109.09 164.68,110.97 165.67,112.88 166.6,114.82 167.48,116.79 168.3,118.78 169.07,120.79 169.79,122.82 170.46,124.86 171.07,126.93 171.62,129.01 172.11,131.11 172.54,133.23 172.94,135.35 173.28,137.48 173.55,139.62 173.76,141.78 173.91,143.94 174,146.1 174.05,148.27 174.04,150.44 173.97,152.61 173.83,154.78 173.63,156.95 173.39,159.12 173.98,161.47 172.81,163.47 171.59,165.41 170.32,167.29 168.38,168.91 166.41,170.44 165.5,172.31 164.47,174.11 163.42,175.89 162.33,177.63 161.18,179.34 160.03,181.02 158.87,182.7 157.67,184.34 156.48,185.98 155.22,187.56 153.91,189.1 152.61,190.65 151.21,192.1 149.84,193.57 148.41,194.99 146.94,196.36 145.46,197.72 143.93,199.04 142.34,200.26 140.74,201.48 139.11,202.65 137.43,203.77 135.77,204.89 134.03,205.92 132.27,206.88 130.48,207.8 128.66,208.66 126.84,209.52 124.97,210.26 123.1,211.01 121.19,211.65 119.28,212.29 117.34,212.83 115.38,213.31 113.41,213.73 111.43,214.09 109.44,214.4 107.44,214.65 105.44,214.84 103.43,214.97 101.42,215.05 99.41,215.07 97.39,215.03" fill="#ff9090"/></g><polygon points="64,53.4 85.1,48.1 87.7,59 92.3,78 93.1,96 93.3,104 77.26,104" fill="#8c8cf6"/><polygon points="69.7,55.9 81,53.2 82,59 87.5,78 91.6,96 91.8,106 83.23,106" fill="#fff"/><polygon points="106,185 107.1,205 108.2,215 111.3,235 115.1,244.5 135.9,239.2 134.8,235 130.1,215 127.3,205 123,186" fill="#8c8cf6"/><polygon points="109.2,185 110.3,205 113.1,215 117.7,235 118.6,238.7 129.8,236.6 129.1,235 124.1,215 121.3,205 116.5,184" fill="#fff"/><circle cx="99.8" cy="146.1" r="49.3" fill="#fff"/><path d="M104.95,97.07 A49.3,49.3 0 0 1 118.27,191.81 M108.78,194.57 A49.3,49.3 0 0 1 81.33,100.39" fill="none" stroke="#6a6aff" stroke-width="0.9"/><polyline points="93.8,80 93.8,96.3 104.6,96.3" fill="none" stroke="#f00" stroke-width="1.1"/><rect x="66.4" y="33.4" width="27" height="24.9" fill="none" stroke="#444" stroke-width="0.7"/><rect x="88.3" y="92.2" width="9.3" height="9" fill="none" stroke="#444" stroke-width="0.7"/><line x1="93.4" y1="33.4" x2="210" y2="1" stroke="#444" stroke-width="0.6"/><line x1="93.4" y1="58.3" x2="210" y2="123.2" stroke="#444" stroke-width="0.6"/><line x1="97.6" y1="92.2" x2="209.6" y2="153.3" stroke="#444" stroke-width="0.6"/><line x1="97.6" y1="101.2" x2="209.6" y2="258" stroke="#444" stroke-width="0.6"/><line x1="1.6" y1="146.5" x2="100.8" y2="146.5" stroke="#000" stroke-width="0.8"/><path d="M100.8,146.5 L95.8,148.8 L96.9,146.5 L95.8,144.2 Z" fill="#000"/><path d="M1.6,146.5 L6.6,144.2 L5.5,146.5 L6.6,148.8 Z" fill="#000"/><line x1="101.3" y1="144.6" x2="73.9" y2="106.2" stroke="#000" stroke-width="0.8"/><path d="M73.9,106.2 L78.68,108.93 L76.17,109.37 L74.93,111.61 Z" fill="#000"/><path d="M101.3,144.6 L96.52,141.87 L99.03,141.43 L100.27,139.19 Z" fill="#000"/><line x1="101.8" y1="147.4" x2="123.3" y2="238.2" stroke="#000" stroke-width="0.8"/><path d="M123.3,238.2 L119.91,233.86 L122.4,234.4 L124.39,232.8 Z" fill="#000"/><path d="M101.8,147.4 L105.19,151.74 L102.7,151.2 L100.71,152.8 Z" fill="#000"/><line x1="24.4" y1="24.8" x2="21.7" y2="64.6" stroke="#000" stroke-width="0.8"/><path d="M21.7,64.6 L19.74,59.46 L21.96,60.71 L24.33,59.77 Z" fill="#000"/><line x1="24.4" y1="24.8" x2="67.4" y2="106.4" stroke="#000" stroke-width="0.8"/><path d="M67.4,106.4 L63.03,103.05 L65.58,102.95 L67.1,100.9 Z" fill="#000"/><line x1="29.3" y1="245.6" x2="52.3" y2="234" stroke="#000" stroke-width="0.8"/><path d="M52.3,234 L48.87,238.31 L48.82,235.76 L46.8,234.2 Z" fill="#000"/><line x1="142" y1="254.4" x2="124.2" y2="243.3" stroke="#000" stroke-width="0.8"/><path d="M124.2,243.3 L129.66,243.99 L127.51,245.36 L127.23,247.9 Z" fill="#000"/><text x="0.3" y="9.6" font-size="11.3" font-weight="normal" font-style="normal" text-anchor="start" fill="#000" textLength="110" lengthAdjust="spacingAndGlyphs">Rotor and casing walls:</text><text x="0.3" y="22.5" font-size="11.3" font-weight="normal" font-style="normal" text-anchor="start" fill="#000" textLength="128.5" lengthAdjust="spacingAndGlyphs">No-slip boundary condition</text><text x="2" y="254.7" font-size="11.3" font-weight="normal" font-style="normal" text-anchor="start" fill="#000" textLength="58.6" lengthAdjust="spacingAndGlyphs">Casing mesh</text><text x="144" y="257.6" font-size="11.3" font-weight="normal" font-style="normal" text-anchor="start" fill="#000" textLength="53.4" lengthAdjust="spacingAndGlyphs">Rotor mesh</text><text x="135" y="278.1" font-size="13.6" font-weight="bold" font-style="normal" text-anchor="start" fill="#000" textLength="23" lengthAdjust="spacingAndGlyphs">(A)</text><text x="70.2" y="152.5" font-size="11" font-style="italic">r</text><text x="74.5" y="155.1" font-size="7.5" font-style="italic">1</text><text x="110.2" y="176" font-size="11" font-style="italic">r</text><text x="114.5" y="178.6" font-size="7.5" font-style="italic">2</text><text x="80.2" y="131.2" font-size="11" font-style="italic">r</text><text x="84.5" y="133.8" font-size="7.5" font-style="italic">3</text><g><clipPath id="ci"><rect x="210" y="1" width="125" height="122.3"/></clipPath><g clip-path="url(#ci)"><clipPath id="cri"><polygon points="210,23 243.7,15.2 310.5,15.2 321.2,122.5 294.6,122.5 284,65.4 210,83"/></clipPath><polygon points="210,23 243.7,15.2 310.5,15.2 321.2,122.5 294.6,122.5 284,65.4 210,83" fill="#fde2e2"/><g clip-path="url(#cri)"><path d="M208,14 L210.2,124 M210.6,14 L212.85,124 M213.2,14 L215.68,124 M215.8,14 L218.51,124 M218.4,14 L221.34,124 M221,14 L224.17,124 M223.6,14 L227,124 M226.2,14 L229.83,124 M228.8,14 L232.65,124 M231.4,14 L235.48,124 M234,14 L238.31,124 M236.6,14 L241.14,124 M239.2,14 L243.97,124 M241.8,14 L246.8,124 M244.4,14 L249.63,124 M247,14 L252.46,124 M249.6,14 L255.28,124 M252.2,14 L258.11,124 M254.75,14 L260.88,124 M257.23,14 L263.59,124 M259.66,14 L266.23,124 M262.02,14 L268.8,124 M264.33,14 L271.31,124 M266.59,14 L273.77,124 M268.79,14 L276.16,124 M270.93,14 L278.49,124 M273.03,14 L280.77,124 M275.07,14 L283,124 M277.06,14 L285.17,124 M279.01,14 L287.28,124 M280.91,14 L289.35,124 M282.76,14 L291.36,124 M284.57,14 L293.33,124 M286.33,14 L295.25,124 M288.06,14 L297.13,124 M289.74,14 L298.95,124 M291.38,14 L300.74,124 M292.98,14 L302.48,124 M294.54,14 L304.18,124 M296.06,14 L305.84,124 M297.55,14 L307.45,124 M299,14 L309.03,124 M300.42,14 L310.57,124 M301.8,14 L312.08,124 M303.15,14 L313.54,124 M304.46,14 L314.97,124 M305.74,14 L316.37,124 M307,14 L317.73,124 M308.22,14 L319.06,124 M309.41,14 L320.36,124 M310.58,14 L321.63,124 M311.73,14 L322.88,124 M312.88,14 L324.13,124 M314.03,14 L325.38,124 M315.18,14 L326.63,124 M316.33,14 L327.88,124 M317.48,14 L329.14,124 M318.63,14 L330.39,124 M319.78,14 L331.64,124 M320.93,14 L332.89,124 M322.08,14 L334.14,124 M208,19 Q265,12 323,17 M208,20.9 Q265,13.9 323,18.9 M208,22.8 Q265,15.8 323,20.8 M208,24.7 Q265,17.7 323,22.7 M208,26.6 Q265,19.6 323,24.6 M208,28.5 Q265,21.5 323,26.5 M208,30.4 Q265,23.4 323,28.4 M208,32.3 Q265,25.3 323,30.3 M208,34.2 Q265,27.2 323,32.2 M208,36.1 Q265,29.1 323,34.1 M208,38 Q265,31 323,36 M208,39.9 Q265,32.9 323,37.9 M208,41.8 Q265,34.8 323,39.8 M208,43.7 Q265,36.7 323,41.7 M208,45.6 Q265,38.6 323,43.6 M208,47.5 Q265,40.5 323,45.5 M208,49.4 Q265,42.4 323,47.4 M208,51.3 Q265,44.3 323,49.3 M208,53.2 Q265,46.2 323,51.2 M208,55.1 Q265,48.1 323,53.1 M208,57 Q265,50 323,55 M208,58.9 Q265,51.9 323,56.9 M208,60.8 Q265,53.8 323,58.8 M208,62.7 Q265,55.7 323,60.7 M208,64.6 Q265,57.6 323,62.6 M208,66.5 Q265,59.5 323,64.5 M208,68.4 Q265,61.4 323,66.4 M208,70.3 Q265,63.3 323,68.3 M208,72.2 Q265,65.2 323,70.2 M208,74.1 Q265,67.1 323,72.1 M208,76 Q265,69 323,74 M208,77.9 Q265,70.9 323,75.9 M208,79.8 Q265,72.8 323,77.8 M208,81.7 Q265,74.7 323,79.7 M208,83.6 Q265,76.6 323,81.6 M208,85.5 Q265,78.5 323,83.5 M208,87.4 Q265,80.4 323,85.4 M208,89.3 Q265,82.3 323,87.3 M208,91.2 Q265,84.2 323,89.2 M208,93.1 Q265,86.1 323,91.1 M208,95 Q265,88 323,93 M208,96.9 Q265,89.9 323,94.9 M208,98.8 Q265,91.8 323,96.8 M208,100.7 Q265,93.7 323,98.7 M208,102.6 Q265,95.6 323,100.6 M208,104.5 Q265,97.5 323,102.5 M208,106.4 Q265,99.4 323,104.4 M208,108.3 Q265,101.3 323,106.3 M208,110.2 Q265,103.2 323,108.2 M208,112.1 Q265,105.1 323,110.1 M208,114 Q265,107 323,112 M208,115.9 Q265,108.9 323,113.9 M208,117.8 Q265,110.8 323,115.8 M208,119.7 Q265,112.7 323,117.7 M208,121.6 Q265,114.6 323,119.6 M208,123.5 Q265,116.5 323,121.5 M208,125.4 Q265,118.4 323,123.4 M208,127.3 Q265,120.3 323,125.3 M208,129.2 Q265,122.2 323,127.2 M208,131.1 Q265,124.1 323,129.1" stroke="#f47c7c" stroke-width="0.35" stroke-opacity="0.55" fill="none"/></g><polygon points="210,83 284,65.4 293.3,64.6 309.2,122.5 210,122.5" fill="#9a9af0" fill-opacity="0.2"/><clipPath id="cbi"><polygon points="210,83 284,65.4 293.3,64.6 309.2,122.5 210,122.5"/></clipPath><g clip-path="url(#cbi)"><path d="M205,79 L315,53 M205,80.9 L315,54.9 M205,82.8 L315,56.8 M205,84.7 L315,58.7 M205,86.6 L315,60.6 M205,88.5 L315,62.5 M205,90.4 L315,64.4 M205,92.3 L315,66.3 M205,94.2 L315,68.2 M205,96.1 L315,70.1 M205,98 L315,72 M205,99.9 L315,73.9 M205,101.8 L315,75.8 M205,103.7 L315,77.7 M205,105.6 L315,79.6 M205,107.5 L315,81.5 M205,109.4 L315,83.4 M205,111.3 L315,85.3 M205,113.2 L315,87.2 M205,115.1 L315,89.1 M205,117 L315,91 M205,118.9 L315,92.9 M205,120.8 L315,94.8 M205,122.7 L315,96.7 M205,124.6 L315,98.6 M205,126.5 L315,100.5 M205,128.4 L315,102.4 M205,130.3 L315,104.3 M205,132.2 L315,106.2 M205,134.1 L315,108.1 M205,136 L315,110 M205,137.9 L315,111.9 M205,139.8 L315,113.8 M205,141.7 L315,115.7 M205,143.6 L315,117.6 M205,145.5 L315,119.5 M205,147.4 L315,121.4 M205,149.3 L315,123.3 M205,151.2 L315,125.2 M205,153.1 L315,127.1 M200,60 L216,126 M201.9,60 L217.9,126 M203.8,60 L219.8,126 M205.7,60 L221.7,126 M207.6,60 L223.6,126 M209.5,60 L225.5,126 M211.4,60 L227.4,126 M213.3,60 L229.3,126 M215.2,60 L231.2,126 M217.1,60 L233.1,126 M219,60 L235,126 M220.9,60 L236.9,126 M222.8,60 L238.8,126 M224.7,60 L240.7,126 M226.6,60 L242.6,126 M228.5,60 L244.5,126 M230.4,60 L246.4,126 M232.3,60 L248.3,126 M234.2,60 L250.2,126 M236.1,60 L252.1,126 M238,60 L254,126 M239.9,60 L255.9,126 M241.8,60 L257.8,126 M243.7,60 L259.7,126 M245.6,60 L261.6,126 M247.5,60 L263.5,126 M249.4,60 L265.4,126 M251.3,60 L267.3,126 M253.2,60 L269.2,126 M255.1,60 L271.1,126 M257,60 L273,126 M258.9,60 L274.9,126 M260.8,60 L276.8,126 M262.7,60 L278.7,126 M264.6,60 L280.6,126 M266.5,60 L282.5,126 M268.4,60 L284.4,126 M270.3,60 L286.3,126 M272.2,60 L288.2,126 M274.1,60 L290.1,126 M276,60 L292,126 M277.9,60 L293.9,126 M279.8,60 L295.8,126 M281.7,60 L297.7,126 M283.6,60 L299.6,126 M285.5,60 L301.5,126 M287.4,60 L303.4,126 M289.3,60 L305.3,126 M291.2,60 L307.2,126 M293.1,60 L309.1,126 M295,60 L311,126 M296.9,60 L312.9,126 M298.8,60 L314.8,126 M300.7,60 L316.7,126 M302.6,60 L318.6,126 M304.5,60 L320.5,126 M306.4,60 L322.4,126 M308.3,60 L324.3,126 M310.2,60 L326.2,126 M312.1,60 L328.1,126 M314,60 L330,126 M315.9,60 L331.9,126" stroke="#7a7af0" stroke-width="0.35" stroke-opacity="0.45" fill="none"/></g><polygon points="222.1,105.4 273,91.5 281.6,122.5 226.4,122.5" fill="#fff"/></g><polyline points="210,1 210,123.2 334.6,123.2" fill="none" stroke="#777" stroke-width="0.8"/><text x="252.6" y="11.2" font-size="11.3" font-weight="normal" font-style="normal" text-anchor="start" fill="#000" textLength="78.4" lengthAdjust="spacingAndGlyphs">(i) Overset mesh</text></g><clipPath id="cii"><rect x="209.6" y="153.3" width="124.5" height="104.7"/></clipPath><g clip-path="url(#cii)"><clipPath id="crd"><polygon points="233.6,168.8 286.8,167.6 287.3,214.4 334.5,214.4 334.5,242.2 300,243.8 271,245.4 270,234.5 257.5,229.5 256.5,224 241.8,223.6 238.8,196 236,172"/></clipPath><g clip-path="url(#crd)"><path d="M230,169.8 L336,165 M230,172.93 L336,168.13 M230,176.06 L336,171.26 M230,179.19 L336,174.39 M230,182.32 L336,177.52 M230,185.45 L336,180.65 M230,188.58 L336,183.78 M230,191.71 L336,186.91 M230,194.84 L336,190.04 M230,197.97 L336,193.17 M230,201.1 L336,196.3 M230,204.23 L336,199.43 M230,207.36 L336,202.56 M230,210.49 L336,205.69 M230,213.62 L336,208.82 M230,216.75 L336,211.95 M230,219.88 L336,215.08 M230,223.01 L336,218.21 M230,226.14 L336,221.34 M230,229.27 L336,224.47 M230,232.4 L336,227.6 M230,235.53 L336,230.73 M230,238.66 L336,233.86 M230,241.79 L336,236.99 M230,244.92 L336,240.12 M230,248.05 L336,243.25 M234.6,166 L235.6,247 M240.6,166 L241.6,247 M249.4,166 L250.4,247 M260,166 L261,247 M269.3,166 L270.3,247 M275.8,166 L276.8,247 M281,166 L282,247 M284.9,166 L285.9,247 M288.2,212.2 L288.8,247 M291.5,212.2 L292.1,247 M294.8,212.2 L295.4,247 M298.1,212.2 L298.7,247 M301.4,212.2 L302,247 M304.7,212.2 L305.3,247 M308,212.2 L308.6,247 M311.3,212.2 L311.9,247 M314.6,212.2 L315.2,247 M317.9,212.2 L318.5,247 M321.2,212.2 L321.8,247 M324.5,212.2 L325.1,247 M327.8,212.2 L328.4,247 M331.1,212.2 L331.7,247 M334.4,212.2 L335,247" stroke="#ff2a2a" stroke-width="0.45" fill="none" stroke-opacity="0.8"/></g><clipPath id="cbo"><polygon points="200,150 236.5,150 238.3,196 240,212 256.5,212 256.8,224.5 269.5,225 270,234.5 290,237.8 334.5,234.6 334.5,246 232.7,256.8"/></clipPath><g clip-path="url(#cbo)"><path d="M201.62,145 L233.46,262 M209.72,145 L235.71,262 M216.31,145 L238.03,262 M222.8,145 L240.35,262 M229.04,145 L243.1,262 M235.44,145 L246.47,262 M203,158.4 L262,146.6 M203,165.9 L262,154.1 M203,173.4 L262,161.6 M203,180.9 L262,169.1 M203,188.2 L262,176.4 M203,195.2 L262,183.4 M203,201.8 L262,190 M203,208 L262,196.2 M203,213.8 L262,202 M203,219.2 L262,207.4 M203,224.2 L262,212.4 M203,228.8 L262,217 M203,233 L262,221.2 M203,236.8 L262,225 M203,240.4 L262,228.6 M203,243.8 L262,232 M203,247 L262,235.2 M203,250 L262,238.2 M203,252.9 L262,241.1 M203,255.7 L262,243.9 M225,257.6 L336,246 M225,253.9 L336,242.3 M225,250.2 L336,238.6 M241,256.94 L240.2,242.94 M250,256 L249.2,242 M259,255.06 L258.2,241.06 M268,254.13 L267.2,240.13 M277,253.19 L276.2,239.19 M286,252.26 L285.2,238.26 M295,251.32 L294.2,237.32 M304,250.38 L303.2,236.38 M313,249.45 L312.2,235.45 M322,248.51 L321.2,234.51 M331,247.58 L330.2,233.58 M234,169 L246,169.4 L246,172 M238.6,196 L240.3,212 L256.6,212 L256.9,224.6 L269.6,225 L270.2,234.6 L290,237.8" stroke="#5a5aff" stroke-width="0.42" fill="none" stroke-opacity="0.8"/></g></g><rect x="209.6" y="153.3" width="124.5" height="104.7" fill="none" stroke="#999" stroke-width="0.8"/><text x="236.5" y="164.2" font-size="11.3" font-weight="normal" font-style="normal" text-anchor="start" fill="#000" textLength="93" lengthAdjust="spacingAndGlyphs">(ii) Edge refinement</text><rect x="400.3" y="7.4" width="280.3" height="129.6" fill="none" stroke="#262626" stroke-width="0.8"/><path d="M456.36,137 v-2.8 M456.36,7.4 v2.8 M512.42,137 v-2.8 M512.42,7.4 v2.8 M568.48,137 v-2.8 M568.48,7.4 v2.8 M624.54,137 v-2.8 M624.54,7.4 v2.8 M400.3,124 h1.8 M680.6,124 h-1.8 M400.3,116.39 h1.8 M680.6,116.39 h-1.8 M400.3,110.99 h1.8 M680.6,110.99 h-1.8 M400.3,106.8 h1.8 M680.6,106.8 h-1.8 M400.3,103.38 h1.8 M680.6,103.38 h-1.8 M400.3,100.49 h1.8 M680.6,100.49 h-1.8 M400.3,97.99 h1.8 M680.6,97.99 h-1.8 M400.3,95.78 h1.8 M680.6,95.78 h-1.8 M400.3,93.8 h3.4 M680.6,93.8 h-3.4 M400.3,80.8 h1.8 M680.6,80.8 h-1.8 M400.3,73.19 h1.8 M680.6,73.19 h-1.8 M400.3,67.79 h1.8 M680.6,67.79 h-1.8 M400.3,63.6 h1.8 M680.6,63.6 h-1.8 M400.3,60.18 h1.8 M680.6,60.18 h-1.8 M400.3,57.29 h1.8 M680.6,57.29 h-1.8 M400.3,54.79 h1.8 M680.6,54.79 h-1.8 M400.3,52.58 h1.8 M680.6,52.58 h-1.8 M400.3,50.6 h3.4 M680.6,50.6 h-3.4 M400.3,37.6 h1.8 M680.6,37.6 h-1.8 M400.3,29.99 h1.8 M680.6,29.99 h-1.8 M400.3,24.59 h1.8 M680.6,24.59 h-1.8 M400.3,20.4 h1.8 M680.6,20.4 h-1.8 M400.3,16.98 h1.8 M680.6,16.98 h-1.8 M400.3,14.09 h1.8 M680.6,14.09 h-1.8 M400.3,11.59 h1.8 M680.6,11.59 h-1.8 M400.3,9.38 h1.8 M680.6,9.38 h-1.8" stroke="#262626" stroke-width="0.6" fill="none"/><text x="400.3" y="149.6" font-size="10.3" font-weight="normal" font-style="normal" text-anchor="middle" fill="#262626">0</text><text x="456.36" y="149.6" font-size="10.3" font-weight="normal" font-style="normal" text-anchor="middle" fill="#262626">1</text><text x="512.42" y="149.6" font-size="10.3" font-weight="normal" font-style="normal" text-anchor="middle" fill="#262626">2</text><text x="568.48" y="149.6" font-size="10.3" font-weight="normal" font-style="normal" text-anchor="middle" fill="#262626">3</text><text x="624.54" y="149.6" font-size="10.3" font-weight="normal" font-style="normal" text-anchor="middle" fill="#262626">4</text><text x="680.6" y="149.6" font-size="10.3" font-weight="normal" font-style="normal" text-anchor="middle" fill="#262626">5</text><text x="396.6" y="10.9" font-size="10.3" font-weight="normal" font-style="normal" text-anchor="end" fill="#262626">10<tspan font-size="7.2" dy="-4.2">1</tspan></text><text x="396.6" y="54" font-size="10.3" font-weight="normal" font-style="normal" text-anchor="end" fill="#262626">10<tspan font-size="7.2" dy="-4.2">0</tspan></text><text x="396.6" y="96.9" font-size="10.3" font-weight="normal" font-style="normal" text-anchor="end" fill="#262626">10<tspan font-size="7.2" dy="-4.2">−1</tspan></text><text x="396.6" y="140.2" font-size="10.3" font-weight="normal" font-style="normal" text-anchor="end" fill="#262626">10<tspan font-size="7.2" dy="-4.2">−2</tspan></text><text x="485.6" y="164.1" font-size="11.3" font-weight="normal" font-style="normal" text-anchor="start" fill="#262626" textLength="109.6" lengthAdjust="spacingAndGlyphs">Orifice Size Δ<tspan font-style="italic">r</tspan> (mm)</text><text x="538.9" y="181.9" font-size="13.4" font-weight="bold" font-style="normal" text-anchor="start" fill="#000" textLength="22.6" lengthAdjust="spacingAndGlyphs">(B)</text><g transform="translate(357.2,146.4) rotate(-90)"><text x="0" y="0" font-size="11.3" font-weight="normal" font-style="normal" text-anchor="start" fill="#262626" textLength="136.8" lengthAdjust="spacingAndGlyphs">Mean Damping Coefficient</text></g><g transform="translate(371.6,115.8) rotate(-90)"><text x="0" y="0" font-size="11.3" font-weight="normal" font-style="normal" text-anchor="start" fill="#262626" textLength="73.8" lengthAdjust="spacingAndGlyphs"><tspan font-style="italic">c</tspan> (Nm/rads<tspan font-size="7.5" dy="-4">−1</tspan><tspan dy="4">)</tspan></text></g><polyline points="428.33,12.4 456.36,44.83 568.48,91.02 680.6,104.51" fill="none" stroke="#0072bd" stroke-width="0.8"/><path d="M424.93,12.4 L431.73,12.4 M425.93,10 L430.73,14.81 M428.33,9 L428.33,15.8 M430.73,10 L425.93,14.81 " stroke="#0072bd" stroke-width="0.9" fill="none"/><path d="M452.96,44.83 L459.76,44.83 M453.96,42.43 L458.76,47.24 M456.36,41.43 L456.36,48.23 M458.76,42.43 L453.96,47.24 " stroke="#0072bd" stroke-width="0.9" fill="none"/><path d="M565.08,91.02 L571.88,91.02 M566.08,88.61 L570.88,93.42 M568.48,87.62 L568.48,94.42 M570.88,88.61 L566.08,93.42 " stroke="#0072bd" stroke-width="0.9" fill="none"/><path d="M677.2,104.51 L684,104.51 M678.2,102.11 L683,106.92 M680.6,101.11 L680.6,107.91 M683,102.11 L678.2,106.92 " stroke="#0072bd" stroke-width="0.9" fill="none"/><polyline points="428.33,25.31 456.36,57.29 568.48,117.68 680.6,122.55" fill="none" stroke="#d95319" stroke-width="0.8"/><circle cx="428.33" cy="25.31" r="3.85" fill="#fff" fill-opacity="0" stroke="#d95319" stroke-width="0.8"/><circle cx="456.36" cy="57.29" r="3.85" fill="#fff" fill-opacity="0" stroke="#d95319" stroke-width="0.8"/><circle cx="568.48" cy="117.68" r="3.85" fill="#fff" fill-opacity="0" stroke="#d95319" stroke-width="0.8"/><circle cx="680.6" cy="122.55" r="3.85" fill="#fff" fill-opacity="0" stroke="#d95319" stroke-width="0.8"/><polyline points="428.33,38.86 456.36,70.84 568.48,130.69 680.6,136.08" fill="none" stroke="#000" stroke-width="0.8"/><path d="M428.33,34.26 L432.29,38.86 L428.33,43.46 L424.37,38.86 Z" stroke="#000" stroke-width="0.8" fill="none"/><path d="M456.36,66.24 L460.32,70.84 L456.36,75.44 L452.4,70.84 Z" stroke="#000" stroke-width="0.8" fill="none"/><path d="M568.48,126.09 L572.44,130.69 L568.48,135.29 L564.52,130.69 Z" stroke="#000" stroke-width="0.8" fill="none"/><path d="M680.6,131.48 L684.56,136.08 L680.6,140.68 L676.64,136.08 Z" stroke="#000" stroke-width="0.8" fill="none"/><rect x="576.7" y="13.1" width="94.4" height="39.9" fill="#fff" stroke="#555" stroke-width="0.7"/><line x1="580.4" y1="21.3" x2="615.7" y2="21.3" stroke="#0072bd" stroke-width="0.8"/><path d="M595.1,21.3 L601.9,21.3 M596.1,18.9 L600.9,23.7 M598.5,17.9 L598.5,24.7 M600.9,18.9 L596.1,23.7 " stroke="#0072bd" stroke-width="0.9" fill="none"/><text x="619.2" y="24.5" font-size="9.9" font-weight="normal" font-style="normal" text-anchor="start" fill="#262626" textLength="47.8" lengthAdjust="spacingAndGlyphs">100 000 cSt</text><line x1="580.4" y1="33.3" x2="615.7" y2="33.3" stroke="#d95319" stroke-width="0.8"/><circle cx="598.5" cy="33.3" r="3.85" fill="#fff" fill-opacity="0" stroke="#d95319" stroke-width="0.8"/><text x="619.2" y="36.5" font-size="9.9" font-weight="normal" font-style="normal" text-anchor="start" fill="#262626" textLength="43" lengthAdjust="spacingAndGlyphs">50 000 cSt</text><line x1="580.4" y1="45.3" x2="615.7" y2="45.3" stroke="#000" stroke-width="0.8"/><path d="M598.5,40.7 L602.46,45.3 L598.5,49.9 L594.54,45.3 Z" stroke="#000" stroke-width="0.8" fill="none"/><text x="619.2" y="48.5" font-size="9.9" font-weight="normal" font-style="normal" text-anchor="start" fill="#262626" textLength="43" lengthAdjust="spacingAndGlyphs">25 000 cSt</text><line x1="372" y1="194.8" x2="681.4" y2="194.8" stroke="#000" stroke-width="1.2"/><line x1="372" y1="217.3" x2="681.4" y2="217.3" stroke="#000" stroke-width="0.7"/><line x1="372" y1="239.7" x2="681.4" y2="239.7" stroke="#000" stroke-width="0.7"/><line x1="372" y1="261.7" x2="681.4" y2="261.7" stroke="#000" stroke-width="1.2"/><text x="377.4" y="211.1" font-size="12" font-weight="normal" font-style="normal" text-anchor="start" fill="#000" textLength="118.4" lengthAdjust="spacingAndGlyphs">Orifice size (mm) Δ<tspan font-style="italic">r</tspan></text><text x="376.6" y="233.3" font-size="12" font-weight="normal" font-style="normal" text-anchor="start" fill="#000" textLength="147.9" lengthAdjust="spacingAndGlyphs">Calculation velocity (ms<tspan font-size="7.5" dy="-4.5">-1</tspan><tspan dy="4.5">)</tspan></text><text x="375.8" y="255.8" font-size="12" font-weight="normal" font-style="normal" text-anchor="start" fill="#000" textLength="111.1" lengthAdjust="spacingAndGlyphs">CFD velocity (ms<tspan font-size="7.5" dy="-4.5">-1</tspan><tspan dy="4.5">)</tspan></text><text x="548.9" y="211.1" font-size="12" font-weight="normal" font-style="normal" text-anchor="middle" fill="#000">0.5</text><text x="587.5" y="211.1" font-size="12" font-weight="normal" font-style="normal" text-anchor="middle" fill="#000">1.0</text><text x="626" y="211.1" font-size="12" font-weight="normal" font-style="normal" text-anchor="middle" fill="#000">3.0</text><text x="664.5" y="211.1" font-size="12" font-weight="normal" font-style="normal" text-anchor="middle" fill="#000">5.0</text><text x="548.9" y="233.3" font-size="12" font-weight="normal" font-style="normal" text-anchor="middle" fill="#000">4.43</text><text x="587.5" y="233.3" font-size="12" font-weight="normal" font-style="normal" text-anchor="middle" fill="#000">2.92</text><text x="626" y="233.3" font-size="12" font-weight="normal" font-style="normal" text-anchor="middle" fill="#000">1.18</text><text x="664.5" y="233.3" font-size="12" font-weight="normal" font-style="normal" text-anchor="middle" fill="#000">0.73</text><text x="548.9" y="255.8" font-size="12" font-weight="normal" font-style="normal" text-anchor="middle" fill="#000">4.36</text><text x="587.5" y="255.8" font-size="12" font-weight="normal" font-style="normal" text-anchor="middle" fill="#000">2.18</text><text x="626" y="255.8" font-size="12" font-weight="normal" font-style="normal" text-anchor="middle" fill="#000">0.73</text><text x="664.5" y="255.8" font-size="12" font-weight="normal" font-style="normal" text-anchor="middle" fill="#000">0.44</text><text x="538.9" y="276.4" font-size="13.4" font-weight="bold" font-style="normal" text-anchor="start" fill="#000" textLength="22.6" lengthAdjust="spacingAndGlyphs">(C)</text>
</svg></body></html>
